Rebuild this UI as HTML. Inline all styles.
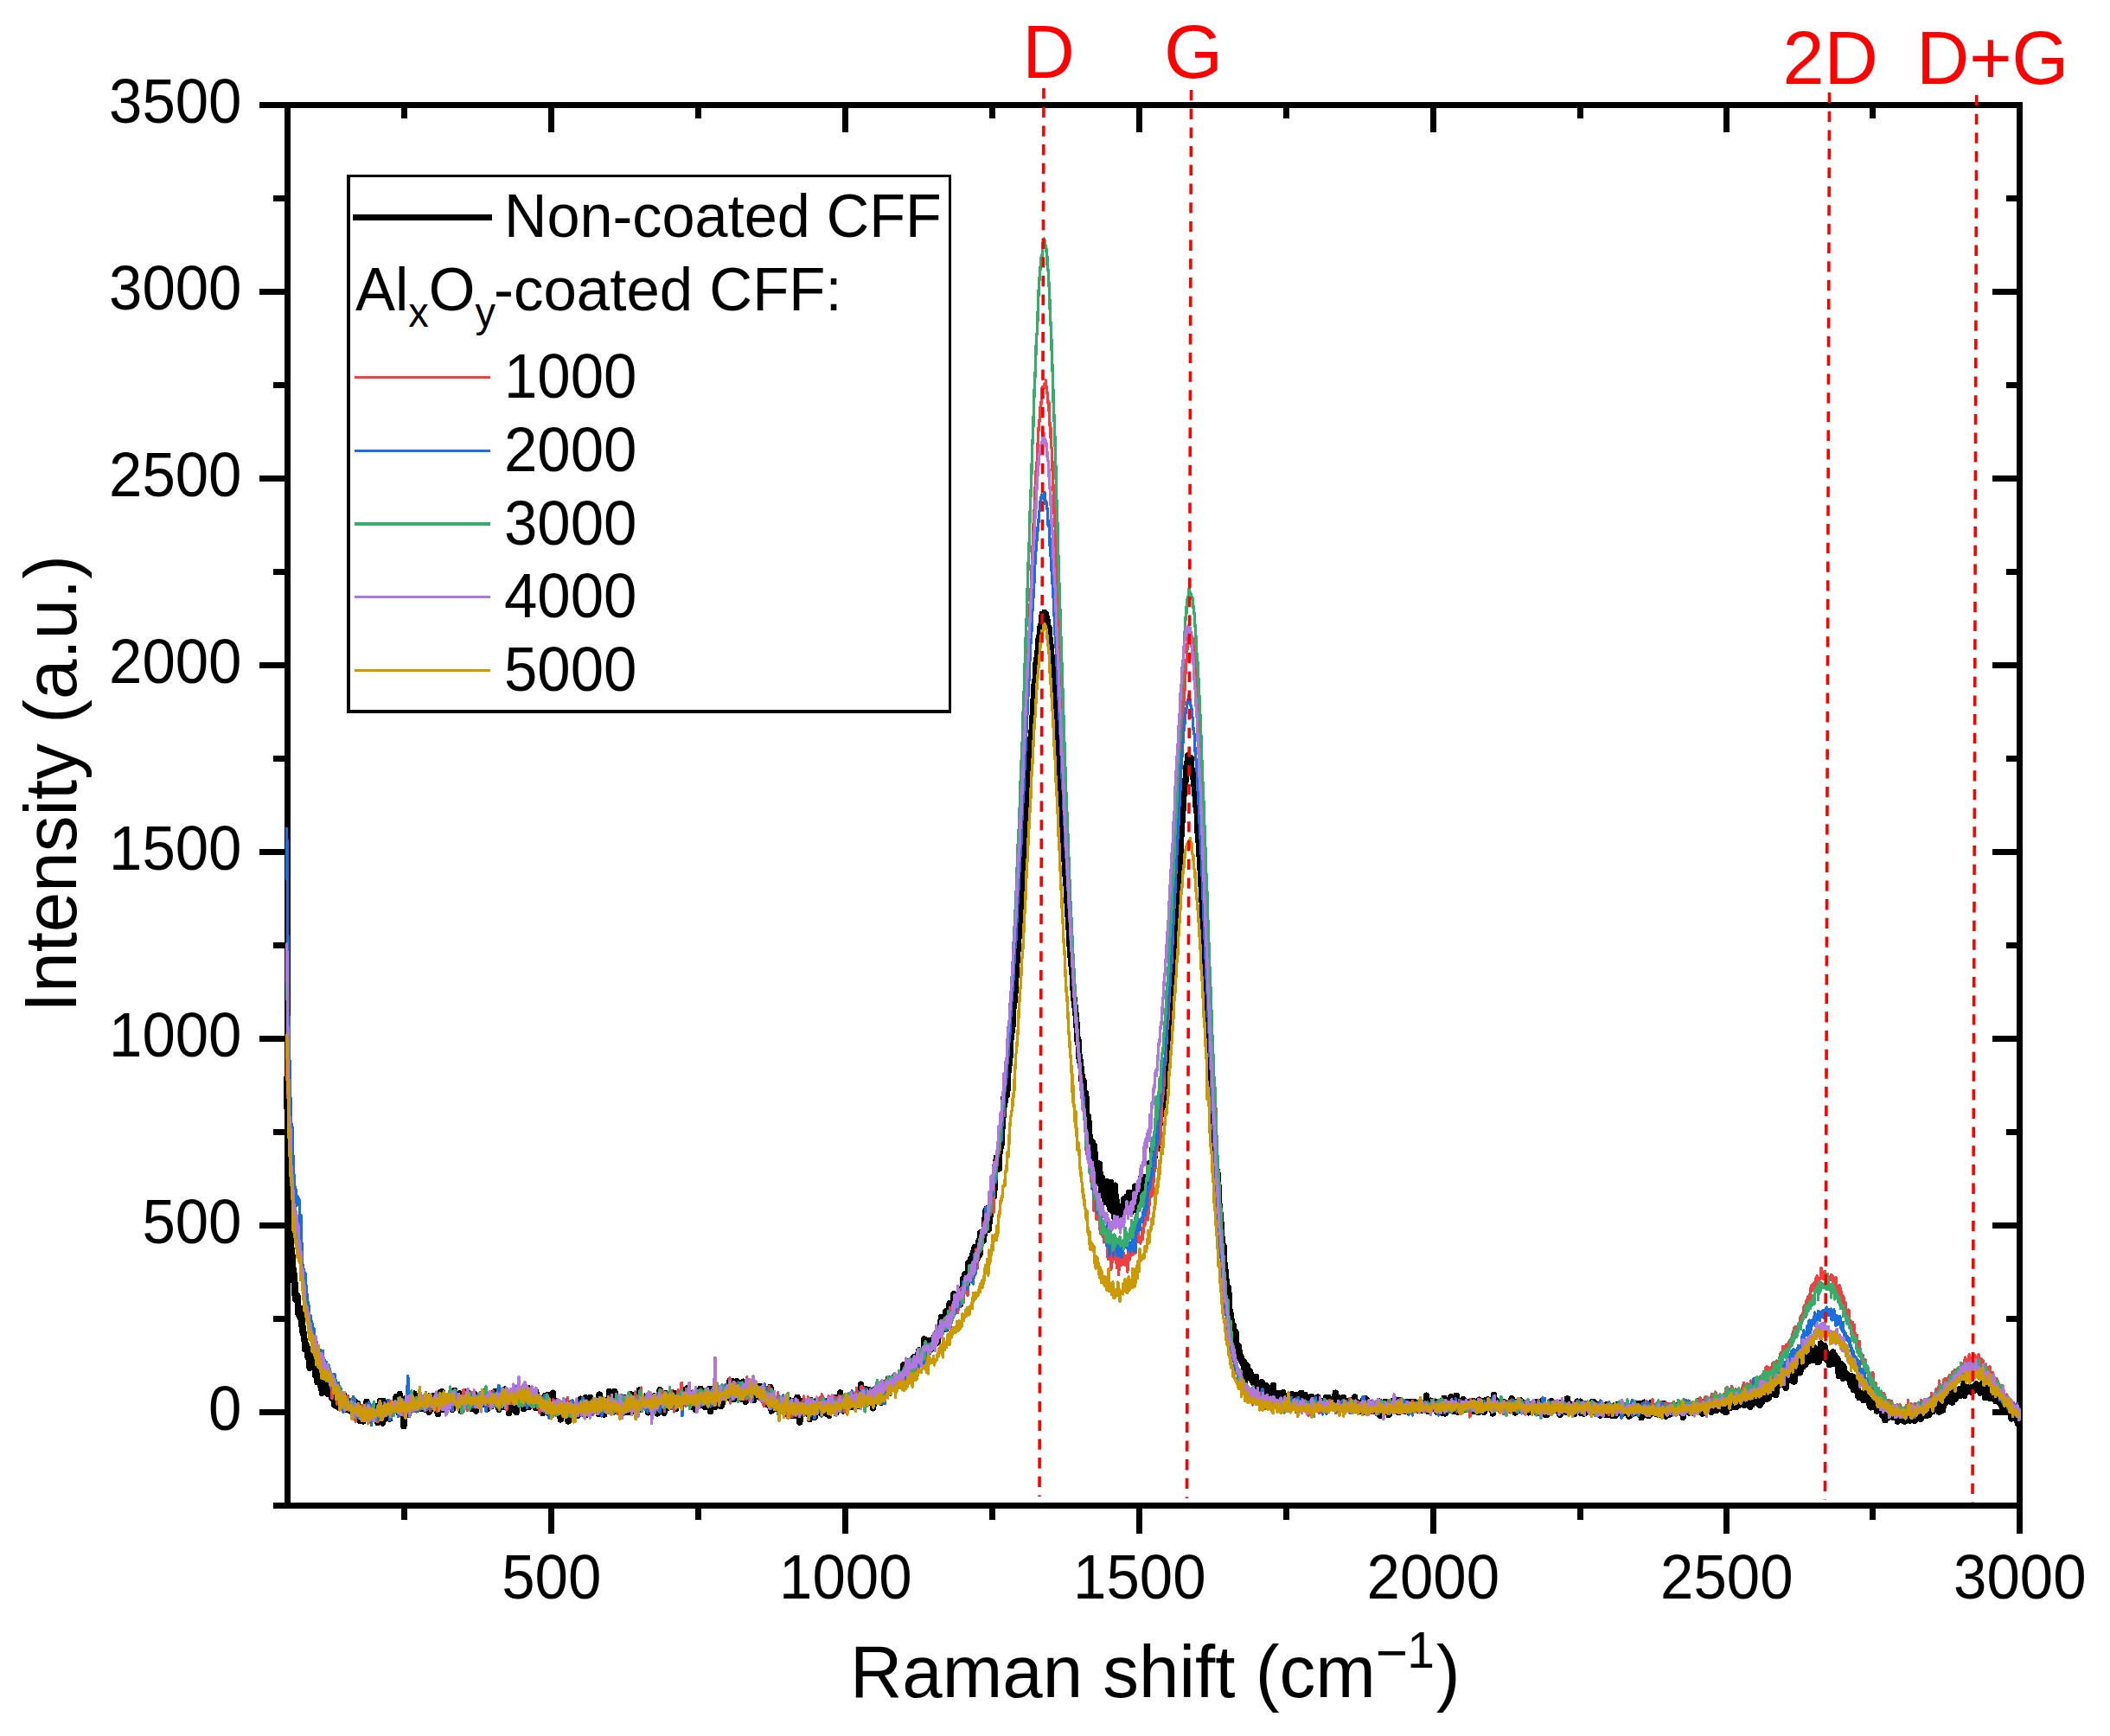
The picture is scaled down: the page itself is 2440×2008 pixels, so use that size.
<!DOCTYPE html>
<html lang="en"><head><meta charset="utf-8"><title>Raman spectra</title>
<style>html,body{margin:0;padding:0;background:#fff}svg{display:block}</style></head>
<body>
<svg width="2440" height="2008" viewBox="0 0 2440 2008" style="display:block">
<rect width="2440" height="2008" fill="#fff"/>
<g fill="#000" shape-rendering="crispEdges">
<rect x="300" y="118" width="2039" height="7"/>
<rect x="316" y="1738" width="2023" height="7"/>
<rect x="329" y="118" width="7" height="1627"/>
<rect x="2332" y="118" width="7" height="1656"/>
<rect x="300" y="1630" width="29" height="7"/>
<rect x="2304" y="1630" width="28" height="7"/>
<rect x="316" y="1522" width="13" height="7"/>
<rect x="2320" y="1522" width="12" height="7"/>
<rect x="300" y="1414" width="29" height="7"/>
<rect x="2304" y="1414" width="28" height="7"/>
<rect x="316" y="1306" width="13" height="7"/>
<rect x="2320" y="1306" width="12" height="7"/>
<rect x="300" y="1198" width="29" height="7"/>
<rect x="2304" y="1198" width="28" height="7"/>
<rect x="316" y="1090" width="13" height="7"/>
<rect x="2320" y="1090" width="12" height="7"/>
<rect x="300" y="982" width="29" height="7"/>
<rect x="2304" y="982" width="28" height="7"/>
<rect x="316" y="874" width="13" height="7"/>
<rect x="2320" y="874" width="12" height="7"/>
<rect x="300" y="766" width="29" height="7"/>
<rect x="2304" y="766" width="28" height="7"/>
<rect x="316" y="658" width="13" height="7"/>
<rect x="2320" y="658" width="12" height="7"/>
<rect x="300" y="550" width="29" height="7"/>
<rect x="2304" y="550" width="28" height="7"/>
<rect x="316" y="442" width="13" height="7"/>
<rect x="2320" y="442" width="12" height="7"/>
<rect x="300" y="334" width="29" height="7"/>
<rect x="2304" y="334" width="28" height="7"/>
<rect x="316" y="226" width="13" height="7"/>
<rect x="2320" y="226" width="12" height="7"/>
<rect x="464" y="1745" width="7" height="13"/>
<rect x="464" y="125" width="7" height="12"/>
<rect x="634" y="1745" width="7" height="29"/>
<rect x="634" y="125" width="7" height="28"/>
<rect x="804" y="1745" width="7" height="13"/>
<rect x="804" y="125" width="7" height="12"/>
<rect x="974" y="1745" width="7" height="29"/>
<rect x="974" y="125" width="7" height="28"/>
<rect x="1144" y="1745" width="7" height="13"/>
<rect x="1144" y="125" width="7" height="12"/>
<rect x="1314" y="1745" width="7" height="29"/>
<rect x="1314" y="125" width="7" height="28"/>
<rect x="1484" y="1745" width="7" height="13"/>
<rect x="1484" y="125" width="7" height="12"/>
<rect x="1654" y="1745" width="7" height="29"/>
<rect x="1654" y="125" width="7" height="28"/>
<rect x="1824" y="1745" width="7" height="13"/>
<rect x="1824" y="125" width="7" height="12"/>
<rect x="1993" y="1745" width="7" height="29"/>
<rect x="1993" y="125" width="7" height="28"/>
<rect x="2162" y="1745" width="7" height="13"/>
<rect x="2162" y="125" width="7" height="12"/>
</g>
<g font-family="'Liberation Sans', sans-serif" font-size="69" fill="#000">
<text transform="translate(279.5,1654.3) scale(1,1.045)" text-anchor="end">0</text>
<text transform="translate(279.5,1438.3) scale(1,1.045)" text-anchor="end">500</text>
<text transform="translate(279.5,1222.3) scale(1,1.045)" text-anchor="end">1000</text>
<text transform="translate(279.5,1006.3) scale(1,1.045)" text-anchor="end">1500</text>
<text transform="translate(279.5,790.3) scale(1,1.045)" text-anchor="end">2000</text>
<text transform="translate(279.5,574.3) scale(1,1.045)" text-anchor="end">2500</text>
<text transform="translate(279.5,358.3) scale(1,1.045)" text-anchor="end">3000</text>
<text transform="translate(279.5,142.3) scale(1,1.045)" text-anchor="end">3500</text>
<text transform="translate(637.8,1848.6) scale(1,1.045)" text-anchor="middle">500</text>
<text transform="translate(977.8,1848.6) scale(1,1.045)" text-anchor="middle">1000</text>
<text transform="translate(1317.8,1848.6) scale(1,1.045)" text-anchor="middle">1500</text>
<text transform="translate(1657.3,1848.6) scale(1,1.045)" text-anchor="middle">2000</text>
<text transform="translate(1996.8,1848.6) scale(1,1.045)" text-anchor="middle">2500</text>
<text transform="translate(2335.8,1848.6) scale(1,1.045)" text-anchor="middle">3000</text>
</g>
<g font-family="'Liberation Sans', sans-serif" font-size="83.5" fill="#000">
<text transform="translate(983,1962.6) scale(1,1.025)">Raman shift (cm<tspan font-size="64" dy="-27.5">−</tspan><tspan font-size="57" dy="-5" dx="-1">1</tspan><tspan dy="32.5" dx="2">)</tspan></text>
<text transform="translate(87.5,1171) rotate(-90) scale(1,1.025)">Intensity (a.u.)</text>
</g>
<g fill="none" stroke-linejoin="round" stroke-linecap="butt" shape-rendering="crispEdges">
<path stroke="#000000" stroke-width="7.4" d="M331.7 1244.7l.7 52 .7 37.6 .7 34.2 .7 37.8 .6 2 .7 18.5 .7 12.4 .7 9.9 .7 5.7 .6-1.4 .7 28.3 .7 .7 .7-7.7 .7 27.7 .6-6.3 .7 7.9 .7-3.7 .7-1.6 .6 20.1 .7-3.7 .7 6.6 .7-4.4 .7 7.5 .6-11 .7 19.3 .7-11.4 .7 19.1 .7-.3 .6 5.6 .7 3.9 .7 10.8 .7-7 .7 2.1 .6 3.3 .7-.2 .7 11.6 .7-1.2 .7 4.4 .6 8.7 .7-11.2 .7 8.2 .7-1.6 .6-12.9 .7 14.4 .7 2.4 .7-4.5 .7 .5 .6-2.1 .7 15.7 .7-13 .7 13 .7 7.4 .6-.3 .7-11.4 .7 3.1 .7-2.2 .7 14.3 .6-2.6 .7 6 .7 5.6 .7-11 .7-13 .6 7.9 .7 12.1 .7-10.8 .7 11.1 .7-4.5 .6-2.3 .7 8 .7 3.6 .7-8.4 .6 5.5 .7 2.9 .7-6.3 .7 5.6 .7-3.9 .6 9.5 .7-9.2 .7 10.3 .7-1.6 .7 8.2 .6-16.9 .7 6.8 .7-1.5 .7 13.2 .7-10.1 .6 3.8 .7-8.5 .7 16.6 .7-10.4 .7-3.4 .6 13.5 .7-7.1 .7 7.7 .7-5.8 .7-1.1 .6-8.4 .7 10.5 .7 5.4 .7-8.2 .6 5.2 .7-5.7 .7 10 .7-10.5 .7 6.6 .6 .4 .7-3.9 .7 9.1 .7 .2 .7-5.3 .6 3.7 .7-.4 .7 2.8 .7-.2 .7-6.2 .6-5.9 .7 18.9 .7-15.9 .7 4.6 .7-5.4 .6 9.1 .7 5.3 .7-2.7 .7 4.3 .7 4.4 .6-8.7 .7-1.6 .7 3.2 .7-2.5 .6 9.9 .7-14.4 .7 6.9 .7-1 .7-5.6 .6 9 .7-17.6 .7 7.5 .7 .1 .7 6 .6 4.7 .7-8 .7 8.1 .7-5.4 .7-.1 .6-5.6 .7 4.4 .7 1.6 .7-6.9 .7 8.3 .6 2.2 .7-.1 .7-11.1 .7 7.9 .7 3.2 .6 7.6 .7-2.6 .7-10.3 .7-1.7 .6-10.4 .7 17.2 .7-6.8 .7-4.7 .7 19.8 .6-25.8 .7 19 .7 2.7 .7-14.6 .7 2.6 .6-4.7 .7 2.9 .7 .8 .7 2.9 .7 3.3 .6-7.9 .7 13.8 .7-10.1 .7-7.7 .7 12.6 .6-11.5 .7-1.1 .7 4.8 .7 1.5 .7-4.6 .6-2.3 .7 6.5 .7-13.2 .7 2.9 .6 2.7 .7-2.3 .7 .4 .7 15 .7-22.3 .6 22.5 .7-9.5 .7 7.4 .7-10 .7 1 .6 1 .7 24.9 .7-28.3 .7 3.1 .7 13 .6-20.3 .7 9.3 .7 3.4 .7-6.9 .7 5.4 .6-5.3 .7 4.1 .7 3 .7 1.3 .7-11.2 .6 3.9 .7 4.8 .7-1.1 .7 1.6 .6-17.4 .7 10 .7 1 .7-7.7 .7 12.2 .6 2.5 .7-3.5 .7-3.9 .7 2 .7 .7 .6-2.9 .7 3.3 .7 3.6 .7-10.6 .7 5.7 .6 .1 .7-4.7 .7 .5 .7 8.7 .7-2.3 .6 3.7 .7-1.1 .7-9.5 .7 5.2 .7 2.5 .6 5.8 .7-18.5 .7 9.6 .7-3.8 .6 1.7 .7 7.5 .7-10.5 .7 1.7 .7-6.8 .6 4 .7 10.6 .7-6.5 .7-.1 .7-.2 .6 6.6 .7 7 .7-13.4 .7-2.8 .7 8.8 .6-17.5 .7 6.8 .7 6.6 .7-14.6 .7 20.5 .6-3 .7 3.3 .7-15.9 .7 11 .7-8.6 .6 2.8 .7 4.8 .7-4.2 .7 7.5 .6-11.6 .7 10.5 .7-.7 .7-9 .7 6.7 .6-13.6 .7 2.8 .7 17.4 .7-10.4 .7 1.7 .6-13.2 .7 15.5 .7 .4 .7-2.5 .7 .1 .6 3.9 .7-6.7 .7 4.6 .7 1.8 .7-13.7 .6 7.9 .7 6.9 .7 5.6 .7-9.8 .7 5.2 .6 .3 .7-13.8 .7 7.2 .7 2.3 .6-4.3 .7 5.9 .7-5.3 .7-10 .7 10.6 .6 3.3 .7 3 .7-10.2 .7 4.6 .7-3.3 .6 11.6 .7-7.1 .7-2.8 .7-3.8 .7 2.9 .6 3 .7-8.9 .7 7.5 .7 11.8 .7-4.7 .6-7 .7-1.6 .7 8.9 .7-.7 .7-9.1 .6 .6 .7-.6 .7-2 .7 3.7 .6 4.9 .7-11.9 .7-1.4 .7-1.3 .7 7.2 .6 1.7 .7-.6 .7-.6 .7 12.3 .7-9.7 .6 1.1 .7-4.2 .7 .3 .7 3.6 .7 .7 .6 5.1 .7-9.3 .7 5.3 .7-1 .7-9 .6-2.8 .7 10.8 .7-11.6 .7 5.5 .7 3.9 .6 5.4 .7 2.2 .7-12.8 .7 16.7 .6-21.2 .7 5.9 .7 5.9 .7-11.4 .7 8 .6 8.5 .7-3.4 .7 5.3 .7-2.2 .7-18.4 .6 10.7 .7 1.6 .7-5.8 .7 1.3 .7 7.2 .6 1.8 .7 10.9 .7-22.2 .7 6.8 .7-6.7 .6 5 .7 8 .7-4.4 .7-12.3 .6 12.1 .7-6.5 .7 16.6 .7-9.2 .7-10.3 .6 21.8 .7-22.5 .7 10.4 .7-.8 .7-12 .6 11.3 .7-9.5 .7 8.6 .7-4.6 .7-3.9 .6-3.2 .7 10.6 .7 11.9 .7-23.4 .7 13.4 .6-10.6 .7 12.2 .7-2.1 .7-2.9 .7 .9 .6-11.4 .7 21.6 .7-6.7 .7-4.5 .6-.8 .7 2.6 .7-.7 .7-7.4 .7 12.2 .6 .3 .7-2.3 .7-4.4 .7 12.7 .7-19 .6 13.3 .7 1.8 .7-.5 .7 3.8 .7-.7 .6-3.2 .7-4.3 .7-1.2 .7 7.7 .7-1.3 .6-4 .7 13.6 .7-9.6 .7-6.8 .7-3.2 .6 10.8 .7 6.9 .7-4.2 .7-10.3 .6-4.3 .7 13.1 .7 7.5 .7-9.2 .7-3.4 .6-.4 .7 3.2 .7-11.6 .7 14.2 .7-16 .6 22.5 .7-14.2 .7 2.2 .7 1.9 .7 9.2 .6-3.4 .7 6.2 .7-6.8 .7-1.2 .7-3 .6 11.7 .7-2.6 .7 8.2 .7-12.4 .7 6.3 .6-11.7 .7 10.4 .7-7.3 .7 5.1 .6-2 .7 1 .7 5.5 .7-11.5 .7 9.7 .6-12.1 .7 21.1 .7-11.1 .7-7.5 .7-.2 .6 15.8 .7-12.1 .7 .1 .7-.6 .7 3.7 .6 2.2 .7-5.5 .7-2.2 .7-2.4 .7 6 .6 4.2 .7-8.8 .7 11.8 .7-3.8 .7-.4 .6-3.7 .7-1.1 .7-10.2 .7 5.9 .6-.3 .7 8.7 .7 2.6 .7-4 .7 .7 .6-14.7 .7-.4 .7 7.1 .7 5.3 .7 6.8 .6-4.8 .7 .9 .7 .7 .7-6.8 .7-7.6 .6-1.8 .7 12.7 .7-1.8 .7-1.3 .7 5.5 .6-11.3 .7 4.4 .7 2.4 .7-2.7 .7 5.7 .6-1.4 .7-8.5 .7 1.5 .7 4.6 .6 9 .7-22.3 .7 11.4 .7-2.9 .7 13.1 .6-11.2 .7-.2 .7 1.5 .7-5 .7 16.5 .6-16.8 .7 9 .7 .6 .7-2.8 .7-2.6 .6 1.2 .7 3.2 .7-5.6 .7-12.9 .7 12.3 .6 5.9 .7-9.1 .7 1.8 .7 9.5 .7-11.7 .6 14.9 .7-10.6 .7-13.1 .7 22.6 .6-4.3 .7 2 .7-12.3 .7 11.6 .7-3.5 .6-2.9 .7-3.3 .7 1.6 .7 9.4 .7 6 .6-16.9 .7 5 .7-3.1 .7 7 .7-3.4 .6-8 .7 16.2 .7-7.3 .7 7.7 .7-16.5 .6 6.5 .7 6.4 .7 3.8 .7-9.9 .7-.4 .6 1.7 .7-12.1 .7 16.7 .7-10.1 .6-4.3 .7 11.9 .7-8.4 .7-3.8 .7 16.4 .6-4.2 .7 6.8 .7-13.5 .7-7.8 .7 18.7 .6-8.2 .7-15.3 .7 18.8 .7-7.3 .7 .2 .6 7.5 .7-11.8 .7 5.4 .7 2.6 .7 .9 .6-9 .7 6.5 .7 5.1 .7-1.5 .7-4.7 .6-2 .7 15.3 .7-16.9 .7 12 .6 3.4 .7-8.5 .7-3.9 .7-3.7 .7 15.1 .6-7.6 .7-8.1 .7 6.2 .7-6.9 .7 2.7 .6 12.3 .7-4 .7-9.8 .7 18.9 .7-18.8 .6 5.7 .7 4.1 .7-18.2 .7 18.1 .7 .2 .6-3.7 .7 0 .7-5 .7 .7 .7 16.1 .6-20.6 .7-2.4 .7 3.7 .7 2.4 .6 11.6 .7-13.2 .7 6.9 .7 3.5 .7-6.5 .6-3.6 .7 9.6 .7 .3 .7-9.7 .7-5.3 .6 11.8 .7-4.4 .7 1.1 .7-7.7 .7 6 .6 12 .7-5.6 .7-12 .7-.8 .7 .2 .6 8.8 .7 3.8 .7-9.3 .7 4.9 .7 .6 .6 2.5 .7-6 .7 7.1 .7-2.8 .6-13.8 .7 11.8 .7-7.7 .7 5.9 .7-1.2 .6 1.3 .7-11.9 .7 10.7 .7 .5 .7 .6 .6 3.8 .7-9.8 .7 11.6 .7 4.1 .7-10.4 .6-1.2 .7 9.5 .7-8.5 .7 1.6 .7 9.2 .6 3 .7-14.4 .7 1.9 .7-4.8 .6 12.5 .7-14.6 .7 6.1 .7-2 .7-8.7 .6 11.3 .7 .8 .7 1.5 .7 5.8 .7-7.7 .6 7.7 .7-2.3 .7 4.2 .7-15.1 .7 5.1 .6-7.8 .7 10.3 .7-1.1 .7 1.8 .7 1.3 .6-15.7 .7 26.4 .7-23.8 .7 .4 .7 9.4 .6-3.6 .7-8.4 .7 8.9 .7 11.9 .6-8.1 .7-15.1 .7 16.4 .7-13 .7 9.5 .6-7 .7 7.1 .7 .8 .7-2.3 .7 10.4 .6-16.1 .7 15.9 .7-12.5 .7 8.9 .7-11.8 .6-5.6 .7 7.1 .7 1.8 .7-3.7 .7-1.3 .6-2.7 .7 7.8 .7-9.9 .7 12.7 .7-5.3 .6-14.3 .7 11.8 .7-3.4 .7 1.8 .6-.4 .7-9.1 .7 11.1 .7 9.3 .7-8.1 .6-2.5 .7 4.4 .7 0 .7-14.4 .7 7.4 .6-6.2 .7 7.7 .7 8 .7-5.3 .7 .3 .6 .1 .7-6.6 .7 14.9 .7-9.7 .7-10.3 .6 15.9 .7-11.2 .7 4.2 .7 14.2 .7-8.8 .6-13.5 .7 11.9 .7-4.5 .7 .8 .6 6.2 .7-13.6 .7 1.3 .7 3 .7 3.4 .6 4.1 .7 .8 .7-10.9 .7 18 .7-17.7 .6 3.1 .7 .6 .7 3.2 .7 6.2 .7-.4 .6-3.6 .7-3 .7-4.1 .7 6.1 .7-1 .6 8.1 .7-9.1 .7 2.6 .7-7 .7 5.2 .6 5.9 .7 7.2 .7-14.8 .7 14.8 .6-7.2 .7-2.4 .7 1.9 .7 11.3 .7 .2 .6-11.4 .7 3.2 .7-12.8 .7 22.3 .7 5.3 .6-2.1 .7-1.4 .7-1.3 .7-4.7 .7 .3 .6 3.5 .7 2.9 .7-5.7 .7 6 .7-11.5 .6 9.7 .7 1.7 .7-9.8 .7 .2 .7-2.1 .6 14.2 .7-13 .7 .5 .7 6.5 .6 6.5 .7-4.2 .7-4 .7 2.9 .7 .1 .6-4.6 .7-5.2 .7 2.3 .7 13.4 .7 4.1 .6-18 .7 1.5 .7 8.2 .7 8.5 .7-17 .6 10.8 .7 1.7 .7-3.2 .7-1.7 .7 9.2 .6-1.7 .7-6.7 .7-.4 .7 8.5 .7-20.8 .6 6.2 .7 3.4 .7-.6 .7 19.9 .6-16.9 .7-2.4 .7 2.2 .7-1.2 .7-1.4 .6-5.2 .7 2.4 .7 8.8 .7-8.8 .7 8.3 .6-3.6 .7-.7 .7 1.8 .7 1 .7-2.6 .6-.3 .7 15 .7-12.7 .7 3.7 .7-12.6 .6 7.3 .7 4.9 .7-6.6 .7 1.4 .7-1.9 .6 14.2 .7-9.3 .7 3.3 .7-13.2 .6 3.7 .7 5.4 .7-.8 .7-.1 .7 2.2 .6 2.4 .7 1.8 .7-13.2 .7 11.6 .7-7.9 .6-2.3 .7 1.5 .7 3.3 .7-4.9 .7 7.7 .6 4.6 .7-12.8 .7 1.4 .7-2.8 .7 6 .6 10.5 .7-8 .7 1.1 .7-9.3 .7 10 .6-9.7 .7 3.6 .7-.3 .7 0 .6-2 .7 9.1 .7-15.4 .7 18.2 .7-5 .6 0 .7-8.1 .7 8.4 .7-14 .7 14.6 .6-19.6 .7 10.6 .7-1.4 .7 1.7 .7-2 .6 8.6 .7 3.5 .7-12.4 .7 1 .7 4.4 .6 .4 .7-.7 .7-1.9 .7-6.4 .7 8.8 .6-3.7 .7-4.9 .7 7.4 .7-4.5 .6 7.8 .7-5.1 .7 1.5 .7-7.9 .7 8.1 .6 4.1 .7-7.7 .7 4 .7-10.3 .7 4.9 .6 4.3 .7 3.5 .7-6.3 .7 1.1 .7-.6 .6-1.5 .7-18.1 .7 22.4 .7-5.6 .7-3.7 .6-5.3 .7 10.1 .7-2.6 .7 2.7 .7-12.7 .6 14.2 .7-5.2 .7 5.4 .7-8.3 .6 7.5 .7-12.6 .7 11.3 .7-2.7 .7-.5 .6-2.4 .7 4.9 .7 6 .7 4.8 .7-13.8 .6-7.6 .7-.4 .7 3.1 .7-3.2 .7 5.1 .6 .4 .7-4 .7-5.1 .7-.6 .7 5 .6 9.4 .7-4.5 .7 9.5 .7-19.3 .7 5.7 .6-8.1 .7-.4 .7 7.9 .7-6.8 .6 5.3 .7 7.4 .7-11 .7 .9 .7-.5 .6-8.4 .7 13.8 .7 2.9 .7-14.2 .7-2 .6 2.7 .7 2.4 .7-1.5 .7-.3 .7 .1 .6 1.9 .7-9 .7 9.4 .7 3.7 .7-8 .6 3.6 .7 .6 .7-8.9 .7 9.2 .6-1.6 .7-2.6 .7 1 .7-3.2 .7-1 .6 4.6 .7-.1 .7-19.9 .7 9.9 .7 2.8 .6-5.9 .7 .5 .7 .3 .7 2.3 .7-1.3 .6 .3 .7-12.8 .7 10.6 .7-5 .7-1.1 .6 12.9 .7-17.8 .7 4.3 .7 10.9 .7-19.5 .6 2.1 .7 3.2 .7 4.6 .7 .7 .6-5.1 .7 1 .7-9.3 .7 1.3 .7-6.4 .6 7.2 .7 1.2 .7-.3 .7-.6 .7-1.2 .6-4.2 .7-.1 .7 .4 .7-15.4 .7 12.8 .6-2.2 .7 2.3 .7-8.2 .7-.1 .7 3.6 .6-6.6 .7 1.4 .7 10.7 .7-1.2 .7-2.7 .6-7.6 .7 4.4 .7 4.1 .7-6.9 .6-4.6 .7-.7 .7-2.4 .7 .8 .7-3.2 .6 1.3 .7 2.7 .7 6.2 .7-12.9 .7-4.8 .6 6.1 .7-1.5 .7-9.7 .7-6.8 .7 .5 .6 11.4 .7 0 .7-4 .7-4 .7-2.1 .6 12.6 .7-21 .7 1.3 .7 8.7 .7-8.9 .6 6.3 .7-5 .7-11.1 .7 16.7 .6-6.2 .7-1.6 .7-2.3 .7-5.3 .7 1.8 .6-14.4 .7 16.6 .7-12.3 .7 6.2 .7-6.4 .6 2.2 .7-.2 .7 2.5 .7-5.4 .7 3.8 .6-4.2 .7 9.8 .7-14.7 .7 2.6 .7-5.4 .6 2.4 .7-14.5 .7 7 .7-1.2 .7-11.6 .6 14.1 .7-9.6 .7 8.8 .7-2.2 .6-2.3 .7-22 .7 15.9 .7-11.9 .7-.3 .6-8 .7 10.1 .7 6 .7-2.7 .7-20.7 .6 4.1 .7-8 .7-2.5 .7 7.1 .7 .8 .6-8.5 .7 14 .7-9.1 .7-4.2 .7-7.9 .6 16.5 .7-1.3 .7-24.6 .7 2.3 .7 5.4 .6-1.5 .7-6.2 .7 9.8 .7-8.4 .6-16.5 .7-2.7 .7-7.6 .7 6.3 .7-8.5 .6 18.1 .7-3.1 .7 9.3 .7-14.8 .7 .4 .6-23.5 .7-4 .7 14.1 .7-1.4 .7-25.2 .6-6.5 .7 22 .7-20.9 .7-13.9 .7 4.3 .6-13.7 .7 8 .7-6.5 .7 1.3 .7 10.1 .6-18.2 .7-1 .7-22.3 .7 15.4 .6-16 .7-7 .7-10.2 .7-1.5 .7-22.7 .6 6.9 .7-3.9 .7-6.2 .7-13 .7 14.3 .6-13.5 .7-13.5 .7-3.2 .7-11.9 .7-1.5 .6-18.6 .7-4 .7-7.1 .7-2.7 .7-17.5 .6-9.3 .7-1.6 .7-11.1 .7-4 .7-15.9 .6-8.7 .7-14.5 .7-7 .7-12.8 .6-4 .7-12 .7-8.5 .7-11.4 .7-7.3 .6-13.4 .7-8.5 .7-19.2 .7-7.7 .7-10 .6-8.3 .7-18.4 .7-6.7 .7-13.4 .7-6.3 .6-15.1 .7-6.4 .7-11.4 .7-11.5 .7-19.2 .6-6.2 .7-15.5 .7-.7 .7-16.6 .7-5.8 .6-14.2 .7-13.4 .7-9.4 .7 .5 .6-16.3 .7-8.7 .7-2.9 .7-6.1 .7-4.4 .6-11.4 .7 .4 .7-9.3 .7-6.2 .7 .1 .6-1.6 .7-11.6 .7 2.6 .7 3 .7-4.7 .6-2.7 .7 5.3 .7-3.5 .7 3.3 .7 2.1 .6 7 .7 5 .7-2.5 .7 9.2 .7 5.3 .6 5.8 .7 8.4 .7 6.9 .7 9.3 .6 9.9 .7 12.2 .7 2.9 .7 12.2 .7 12.9 .6 4.8 .7 9.3 .7 20.6 .7 5.5 .7 6.9 .6 21.9 .7 5.8 .7 11.8 .7 13.9 .7 3.3 .6 12.7 .7 15.7 .7 16.5 .7 5.1 .7 16 .6 4.5 .7 14.9 .7 7.9 .7 6.9 .7 12.1 .6 15.3 .7 9.6 .7 13.6 .7 2.2 .6 17.6 .7 8 .7 12.2 .7 3.3 .7 4.3 .6 16 .7 8.6 .7 8.8 .7 4.9 .7 7.1 .6 4.6 .7 7.6 .7 11.5 .7 13.2 .7-2.8 .6 9.6 .7 12.5 .7 1.6 .7 7.5 .7 1.5 .6 7.2 .7 15.4 .7-3.1 .7-4.4 .7 13.1 .6 13.1 .7 6.4 .7-18.2 .7 13.5 .6 21.7 .7-7.2 .7-1.4 .7 7.7 .7 14.5 .6 1.1 .7 18.4 .7-9.9 .7 3 .7-4.5 .6 12 .7 5.5 .7-13.9 .7 7.8 .7 15.4 .6 15.1 .7 6.1 .7-16.6 .7 1.4 .7 3.2 .6-5.6 .7-5.3 .7 10.2 .7 6 .6 2.1 .7 15.4 .7-17.5 .7 11.1 .7-7.8 .6 18.6 .7-5.6 .7 12.3 .7-9.2 .7-15 .6 20.9 .7-1.1 .7 1.4 .7-5.3 .7 11.6 .6-3 .7 7.6 .7-31.3 .7 27.2 .7-2.5 .6 8.7 .7-9.3 .7 3.4 .7 13.5 .7-37.3 .6 26.4 .7 .3 .7-8.7 .7 22.5 .6-14.3 .7 8.8 .7-1.4 .7-4.3 .7 15.5 .6-14.6 .7-6 .7 9.7 .7-8.9 .7 3.4 .6-12.6 .7 12.3 .7-4.4 .7 1.6 .7 2.6 .6-15 .7 9.1 .7 .4 .7-3.4 .7-10.9 .6 22.5 .7-17.7 .7 18.2 .7-7.5 .7-7 .6-4.4 .7 15.3 .7-16.3 .7 3.5 .6-13.7 .7 27.4 .7-14.9 .7 6.9 .7-1.6 .6-3.7 .7 3.1 .7-8.8 .7 1.9 .7 7.7 .6-27.3 .7 16.6 .7 13.4 .7-13.5 .7-3.8 .6 1.3 .7-1.6 .7-13.9 .7 13 .7-2.6 .6-1.2 .7-3 .7 .3 .7-8.4 .7-13.9 .6 9.4 .7-2.4 .7 2.6 .7-2.3 .6 4.9 .7-29.1 .7 13.9 .7 6 .7-14.5 .6-1.2 .7-14.3 .7 2.5 .7 8.1 .7-8.4 .6-1.1 .7-9.8 .7 6.5 .7-30.3 .7 5.6 .6-3.4 .7-5.9 .7-8.1 .7 5.8 .7-13.4 .6-18 .7-4.9 .7 13.5 .7-13.3 .7-7.9 .6-3.6 .7-10 .7-10.7 .7-10.8 .6-5.4 .7-4.5 .7-13.2 .7-6.9 .7-17.9 .6-9.7 .7-3.9 .7-18.1 .7-4.3 .7-14.1 .6-15 .7-9.9 .7-7.5 .7-13.8 .7-16.2 .6-6.2 .7-15.1 .7-5.4 .7-19.6 .7-7.2 .6-17.9 .7-3.3 .7-18.2 .7-7.7 .7-11.4 .6-10.3 .7-10 .7-.1 .7-5.7 .6-11 .7-9 .7 4.6 .7-13 .7 7.3 .6-5.4 .7 1.3 .7 1.3 .7-2.2 .7 13.3 .6 2.8 .7 2.2 .7 1.8 .7 11.1 .7-2.5 .6 11.7 .7 8.3 .7 10.2 .7 2.4 .7 8.8 .6 20.1 .7 2.5 .7 18.2 .7 4.1 .7 12.5 .6 11.2 .7 13.9 .7 13.9 .7 6.6 .6 20.8 .7 3.4 .7 14.5 .7 21.7 .7 13.1 .6 2.8 .7 18.9 .7 17.3 .7 3.8 .7 16.9 .6 11.2 .7 15 .7 12 .7 10.5 .7 8.7 .6 33.7 .7-2.1 .7 5.7 .7 9.1 .7 22.2 .6 9.2 .7 16.5 .7 18 .7 1.5 .7 1.8 .6 14.7 .7 .4 .7 22.5 .7 1.4 .6 13.6 .7 4.3 .7 16.5 .7 3.8 .7 7.2 .6 5.5 .7-4.1 .7 28 .7-7.1 .7 16.4 .6 1.1 .7 8.3 .7 4.1 .7-3.9 .7 17.1 .6-8 .7 21.6 .7-2.2 .7 7 .7 8.5 .6-4.6 .7 11.1 .7-6.1 .7 12.2 .7-2.3 .6 3 .7-5.3 .7 10.2 .7 9.7 .6 6.5 .7-5.2 .7-4.9 .7 5.6 .7 9 .6-3 .7 .1 .7 5.9 .7 .2 .7 2.4 .6 .6 .7-3 .7 18.6 .7 8.5 .7-23.2 .6 9.5 .7-7.4 .7-.6 .7 10.5 .7-.2 .6-5.1 .7 .8 .7 4.5 .7-1.3 .7 6.3 .6-2.8 .7 4.8 .7-4.8 .7 7.7 .6-2.6 .7-.5 .7 12.5 .7-17.3 .7 15.4 .6-5.5 .7 1 .7-.6 .7 9.4 .7-12 .6 1.8 .7 1.1 .7-.5 .7-3.5 .7 7.8 .6 3.4 .7-8 .7 9.8 .7-3 .7 2.9 .6-9 .7 5.9 .7-4.5 .7 2.3 .7 7.7 .6-4 .7 4.6 .7 4 .7-7.9 .6 5.1 .7-3.8 .7 1.2 .7-11 .7 11.9 .6 1.2 .7-1.7 .7 4.6 .7-5.2 .7-1.4 .6 6.1 .7 2.2 .7-1.7 .7-6.8 .7 7.1 .6-2.8 .7 3.5 .7 .4 .7-6.5 .7 11.2 .6-13.7 .7 5.2 .7-2.1 .7 6.2 .7 2.7 .6 6 .7-7.9 .7-5.4 .7 2 .6-.3 .7 5.9 .7-1.3 .7-7.2 .7 10.6 .6-.5 .7-12.1 .7 4.3 .7-1.1 .7 5.6 .6 3.2 .7-3.6 .7-2 .7-4 .7-1.7 .6 9 .7-4.2 .7 5.6 .7-.7 .7 .3 .6 5.5 .7-2.9 .7-14.7 .7 16.3 .6-13.2 .7 9.8 .7-4.3 .7 8.3 .7-14.9 .6 6.3 .7 8.4 .7-5.9 .7-3.1 .7 9.1 .6-11.7 .7 7.2 .7-.9 .7 6.3 .7-4.9 .6-8.6 .7 7.2 .7 2.6 .7 2.1 .7-1.4 .6-7.4 .7 5.4 .7 3.7 .7-9.1 .7 4.8 .6-7 .7-.3 .7 6.3 .7 5.6 .6-1.8 .7-6.4 .7 .7 .7 3.7 .7-3.5 .6 2.9 .7 7.5 .7-9.5 .7 3.1 .7-.7 .6 2.1 .7-9.2 .7 6.6 .7 7.8 .7-6.3 .6-8.6 .7 9.5 .7 2.3 .7-4.4 .7-1.1 .6 0 .7 4.1 .7-1.4 .7 .3 .7-4.3 .6 3.8 .7-2.9 .7-11 .7 12.2 .6 .2 .7 .3 .7 5 .7-8.4 .7 6.8 .6-10.2 .7 9.6 .7-8.9 .7 8.6 .7-5.4 .6 4.5 .7-7.2 .7-1.7 .7 8 .7 .5 .6 .7 .7-.8 .7-.8 .7-1.2 .7-2.4 .6 5.6 .7-1.8 .7 1.2 .7 1.5 .7-7.1 .6 6.8 .7-1.2 .7 0 .7 .3 .6 1.9 .7-2.3 .7-9.5 .7 12.3 .7 .3 .6-6.4 .7 9.5 .7-8.4 .7 5.8 .7 .9 .6 2.4 .7-9.4 .7 7.8 .7-5.6 .7 2.3 .6-4.9 .7 5.2 .7-9.4 .7 4 .7-5.1 .6 16 .7-9.2 .7-5.6 .7 4.4 .7 8.4 .6 .6 .7-2.6 .7-.1 .7-6.6 .6 2.1 .7 8.1 .7-8.2 .7-.2 .7-.6 .6 3.9 .7 2.5 .7 1 .7-6.1 .7 7.8 .6-2.4 .7-8.4 .7-.1 .7 .6 .7 6.1 .6-7.7 .7 16.4 .7-6.3 .7-3.6 .7-3.2 .6 8.1 .7-9.2 .7 4.3 .7-.1 .7 1.4 .6-7.4 .7 8.5 .7 3 .7-7.8 .6-1.2 .7 1.7 .7 11 .7-12.2 .7 4.1 .6 2.4 .7-7.1 .7-2.8 .7 9.9 .7-3.9 .6 3 .7-3.9 .7 1 .7-3.3 .7 4.6 .6 4.2 .7-7.8 .7 .7 .7-6.1 .7 14.2 .6-7.2 .7-6.8 .7 7.7 .7-5.7 .7 3.4 .6-.9 .7 5.3 .7 1.7 .7 1.2 .6-2.4 .7-5.3 .7-3 .7 7.4 .7-3.4 .6-2.3 .7 9.9 .7-5.6 .7-5.9 .7 3.2 .6 1.5 .7-1.4 .7 1.9 .7-5.3 .7 3.1 .6 2.6 .7-5.2 .7-.5 .7 3.5 .7-.9 .6 3.7 .7 .2 .7-4.1 .7-1.3 .7 8.8 .6-5.8 .7 2.6 .7 1 .7 1.8 .6 .3 .7-.7 .7-4.8 .7-.9 .7-1.6 .6 5.5 .7 2 .7-3.4 .7-13.4 .7 14 .6 2.7 .7 1.6 .7-6.7 .7-4.5 .7 6.7 .6-7.7 .7 8.8 .7 1.1 .7-2.4 .7-6.1 .6 6.3 .7 .5 .7-1.9 .7-5.3 .7 3.3 .6 0 .7 8.8 .7-5.9 .7-2.6 .6-1.4 .7-.3 .7 8.3 .7-9.8 .7 7.7 .6-8.5 .7 13.4 .7-10.9 .7 2.3 .7-8.4 .6 9.1 .7 8.6 .7-11.1 .7 3.9 .7 1.1 .6-8.5 .7 2.4 .7 2.2 .7 .5 .7-1.4 .6-5.8 .7-2.7 .7 11.7 .7 3 .7 2.5 .6-.9 .7-6.6 .7 5.2 .7-4.1 .6 .6 .7-12.7 .7 11.7 .7-2.1 .7-1.9 .6 11.8 .7-11.9 .7 3.1 .7-1.6 .7 3.5 .6-6.1 .7 6 .7-2.9 .7-4.9 .7 1.1 .6 10.6 .7-2.6 .7-2.2 .7 1 .7-1.2 .6-3.6 .7 .8 .7 .4 .7-1.4 .7 8.4 .6-2.6 .7-7 .7 9 .7 1.2 .6-3.3 .7 4.9 .7-5.1 .7-6.4 .7 4.4 .6 .3 .7 5.9 .7-.4 .7-10.1 .7 12.6 .6-3.5 .7-10.9 .7 6.7 .7 4.7 .7-10 .6 6.6 .7-1.7 .7-4.2 .7 6.7 .7 5.4 .6-7.8 .7-5.6 .7 4.1 .7-.1 .6 5.1 .7-4.5 .7-5.6 .7 1.6 .7 5.6 .6-5.1 .7 5.7 .7-7 .7 11.2 .7-5.8 .6 9.7 .7-7.8 .7-13.8 .7 13.4 .7-7 .6 4 .7-4 .7 8.1 .7 0 .7-1.5 .6-.7 .7 .2 .7-1.9 .7 5.3 .7-5.7 .6-2.7 .7 8.6 .7 .7 .7-8.8 .6 3.7 .7-2.4 .7 7.7 .7-2.6 .7-3.4 .6 4.4 .7-3.6 .7 .9 .7 3.5 .7-1.9 .6 2.5 .7 1.2 .7-2.2 .7-11.6 .7 9.2 .6-1.6 .7 3.6 .7-.5 .7-1.7 .7 7.4 .6-1.3 .7-1.6 .7-9.4 .7 2.5 .7 7.8 .6-2.3 .7-5.3 .7 3.8 .7-8.3 .6 5.3 .7 2.9 .7-2.4 .7-2.4 .7 2.3 .6 3.2 .7-5.9 .7-.1 .7 2.9 .7-2.8 .6 0 .7 1.3 .7 8.2 .7 1.4 .7-7.2 .6-2.2 .7 3.1 .7 3.4 .7-4.9 .7 7 .6-2.5 .7-3 .7-2.7 .7-1.3 .7 5.1 .6-.9 .7-6 .7 13.1 .7-8.2 .6-1.4 .7-1.4 .7 3.5 .7 1.9 .7-7.2 .6 6.8 .7-1.2 .7-7 .7 5.8 .7 2.4 .6 1.1 .7-5.3 .7 11.5 .7-6 .7-2.1 .6-.8 .7 8.9 .7-6.3 .7-3.3 .7 5.8 .6-.8 .7 3.1 .7-11.3 .7-2.8 .7 2.5 .6 8 .7-3 .7-1.9 .7-3.2 .6 8.8 .7-7.2 .7 2.1 .7-2 .7 .3 .6 5.3 .7-3.4 .7 3.4 .7 6.2 .7-8.9 .6 7.6 .7-12.4 .7 2.9 .7 5.1 .7-4.6 .6 3.7 .7-2 .7 4.7 .7-8 .7 8.7 .6-1.4 .7-13.9 .7 7.8 .7 6 .7-6.2 .6 8.2 .7-4.6 .7 3 .7-.8 .6-2.6 .7-2.2 .7-1.8 .7 4.9 .7 5.9 .6-7.8 .7 .6 .7-4.7 .7 3.8 .7-6.2 .6 3.3 .7 5.1 .7-2.7 .7 1.9 .7-7.5 .6 13.2 .7-4.9 .7-3.3 .7 6.9 .7-8 .6 10.1 .7-11 .7 3.2 .7 2.2 .7-.6 .6 4.6 .7-8.2 .7 .4 .7 7.7 .6-6 .7 1.8 .7-.3 .7 4.9 .7-11.9 .6 2.8 .7 6.3 .7-2.3 .7-7.2 .7 7.4 .6 .5 .7-2.3 .7-.9 .7 3.1 .7-.6 .6-3.7 .7 6 .7 .5 .7-2.4 .7 8 .6-3.5 .7-5.7 .7 4.8 .7-4.8 .7 2.9 .6-1.1 .7 6 .7 .2 .7 .3 .6-11.3 .7 6.3 .7-2.2 .7-2.2 .7-.4 .6 5.7 .7 4.1 .7-3.5 .7-2 .7 .9 .6-1.1 .7 7.1 .7-4.9 .7 2 .7-8.8 .6 8.1 .7 3.4 .7-8.7 .7-3.8 .7 .3 .6 1.8 .7 .8 .7 2.1 .7 .7 .7 3.7 .6-5.4 .7-3.2 .7 .7 .7 8.6 .6-9.2 .7 5.2 .7-2.6 .7-1.1 .7 6.6 .6-2.7 .7-3.3 .7 6.4 .7-1.8 .7-3.3 .6 8.9 .7-1.3 .7-4 .7 3.4 .7-2.7 .6-7.8 .7 3.5 .7-2 .7 7.6 .7-7.1 .6 3.6 .7-5.3 .7 6.9 .7-3.3 .7-.6 .6-5.3 .7 5.1 .7 5.4 .7-4.3 .6-6.5 .7 10.2 .7 6 .7-6.3 .7-5.7 .6 9.9 .7-2.4 .7-13 .7 10.1 .7-.2 .6-1.8 .7 0 .7 3.5 .7-1.4 .7 5.3 .6-8.3 .7 1.2 .7-7.5 .7 12.3 .7-2.1 .6 .7 .7-1.4 .7-4.7 .7-.5 .7 5.5 .6-1 .7 2.2 .7-6.4 .7 7.8 .6-1 .7-2.7 .7-.7 .7 5.4 .7-1.7 .6-2.3 .7-3.1 .7 4.8 .7-.2 .7-9.8 .6 3.5 .7-4.3 .7 1.3 .7 4.1 .7-2.8 .6 12.2 .7-2.1 .7-2.8 .7-5.3 .7 2.8 .6 2.9 .7 2.3 .7-9.9 .7 9.4 .7-5 .6 .4 .7 1.5 .7-1.8 .7-.5 .6-5.1 .7 9.7 .7-2.5 .7 2.8 .7-9.2 .6 1.1 .7 3 .7 .4 .7 1.3 .7-2.4 .6-2 .7-.7 .7 4 .7-3.4 .7 3.6 .6 8.7 .7-13.4 .7 6 .7 .5 .7-4.3 .6 2.2 .7 1.1 .7-.9 .7-3.1 .6 2.3 .7 1 .7 3.6 .7-8.3 .7 8.3 .6-1.7 .7-4.6 .7 3.2 .7-3.1 .7 6 .6-4 .7-3.4 .7-2 .7 5.9 .7-2.2 .6-.8 .7-6.7 .7 12.1 .7-10.2 .7 9.7 .6-4.8 .7-3.1 .7 9.1 .7-7.2 .7 8.5 .6-8.9 .7 1.7 .7-6.6 .7 5.9 .6-1.9 .7 3.8 .7-5.5 .7 6.8 .7 1.3 .6-3.7 .7-2.5 .7 0 .7 2.4 .7 1.2 .6 4.2 .7-.4 .7-5.2 .7-3.1 .7-3.5 .6 1.6 .7 1.2 .7 4 .7 3.8 .7-4.3 .6 1.4 .7-.5 .7-4.7 .7 5.2 .7-1.3 .6-2.1 .7-.9 .7 .3 .7-3.8 .6 10.1 .7-12.4 .7 8 .7 2.4 .7-8.5 .6 12.7 .7-9.4 .7 9.3 .7-12.9 .7 6.8 .6-14.8 .7 16.6 .7-11.2 .7 7.3 .7-.5 .6 1.8 .7 1.4 .7-2.5 .7-7.4 .7 2.7 .6 .2 .7 6.6 .7-4.8 .7-2.4 .7 7.3 .6-7.9 .7-4.5 .7 6.2 .7 .6 .6-1.9 .7 5 .7-7.4 .7-3.5 .7 7.9 .6-1.7 .7 2.6 .7-.2 .7 .3 .7 2.5 .6-9.2 .7 5.3 .7-.9 .7-1.1 .7 4.2 .6-8.2 .7 .3 .7-4.8 .7 16.4 .7-9.6 .6-4.7 .7 12 .7-4.9 .7 2.5 .7-5.3 .6-1.5 .7 .5 .7 2.2 .7-3.9 .6 5.6 .7-8.8 .7 4.6 .7 7.5 .7-7.6 .6-2.6 .7 11.9 .7-21.1 .7 12.7 .7 4.9 .6-12.7 .7-2.4 .7 1.9 .7 2.4 .7 2.1 .6-8.7 .7 4.1 .7 10.2 .7-12.3 .7-.8 .6 12.1 .7-1 .7-15 .7 7.7 .7 1.9 .6-.8 .7-7.2 .7 5.5 .7 3.1 .6-7.6 .7 2.7 .7-1.6 .7-.5 .7 8.7 .6-9.2 .7-.1 .7-2.1 .7-.5 .7-.3 .6 .3 .7-3.6 .7 2.3 .7-6.8 .7 8.2 .6-.4 .7-10.1 .7 5.4 .7 1.4 .7 5 .6-9.2 .7 11.3 .7-7 .7-2.5 .7-7.3 .6 .8 .7 2.1 .7-3.1 .7 3.8 .6-4.6 .7 2.7 .7-4.4 .7 .4 .7 11.5 .6-2.8 .7 3.5 .7-1.5 .7-8.5 .7-3 .6-6.6 .7-5.7 .7 12.3 .7-9.7 .7-1.3 .6 2.8 .7 10.8 .7-3.9 .7-1.3 .7-7.3 .6-5.4 .7 11.3 .7-3.2 .7-3.3 .7-3 .6 6.7 .7-11.7 .7 2.8 .7-4.3 .6 9.8 .7-9.2 .7 8.8 .7-9.5 .7 .6 .6-1.8 .7-.7 .7 .2 .7 4.7 .7-11.1 .6 16.4 .7-14.6 .7 4.8 .7 2.6 .7 3.4 .6-2.9 .7-.1 .7 8.9 .7-14.2 .7 14 .6-7.4 .7 3.6 .7-17.6 .7 9.8 .7-2.2 .6 1.9 .7 .1 .7 1.3 .7 4.2 .6-12.3 .7 5.3 .7 9.1 .7-7.1 .7 5.6 .6 3.3 .7 1.7 .7-4 .7 8.1 .7-6 .6-2.9 .7 6.4 .7-3.1 .7 4.1 .7-13.4 .6 9 .7-6.7 .7 2.2 .7 1.5 .7 7.8 .6-.3 .7-6.7 .7 1.9 .7 9.7 .7 9.1 .6-12.2 .7 4.3 .7-4.4 .7-1.6 .6 2 .7 6 .7 8.6 .7-13.9 .7 3.4 .6 5.6 .7-1.8 .7 1.2 .7 1.7 .7 1 .6-.9 .7 4.3 .7-.8 .7-.4 .7 5.7 .6-.3 .7 4.3 .7-11.6 .7 9 .7-8.3 .6 14.9 .7-9.9 .7-.1 .7 3.1 .7 .6 .6-3.3 .7 .2 .7 13.4 .7 4.1 .6 1 .7-5.2 .7 1.5 .7 .2 .7 1 .6-1.7 .7 1.2 .7-1.5 .7 7.9 .7-3.7 .6-1.9 .7-4.9 .7 5.8 .7 4.3 .7-2.7 .6-.9 .7 3.4 .7 2 .7 2.1 .7 3.7 .6-6.2 .7 7.2 .7-5.3 .7 5 .6-.4 .7-3.5 .7-1 .7 2.5 .7 1.9 .6-.9 .7-4.2 .7 10.2 .7-11.7 .7 3.4 .6 5.3 .7-4.7 .7 4.6 .7 .5 .7-4.6 .6 2.3 .7 9.3 .7-4.7 .7-3.5 .7 10.8 .6-5.8 .7 9.3 .7-15.2 .7 5.2 .7-1.1 .6 0 .7-.4 .7 7.9 .7-8.4 .6 7.1 .7-1.8 .7-8.6 .7 11.3 .7-5.2 .6-1.8 .7 7.6 .7-3.7 .7 .7 .7-1.5 .6-2.7 .7 2 .7 .4 .7 9.6 .7-6.6 .6-5.1 .7 5.6 .7-.2 .7-3.1 .7 3.2 .6-.1 .7-1.3 .7 5.9 .7-5.8 .7 7.3 .6-4.3 .7 4.6 .7-2.8 .7-.6 .6-7.4 .7 .3 .7 4.5 .7 .5 .7-4.2 .6 8.5 .7-7.9 .7 4.1 .7-6.3 .7 1 .6 4 .7-2.3 .7 2.9 .7 4.8 .7-14.9 .6 4.4 .7 .6 .7 4 .7-.4 .7 1.9 .6-8.8 .7 8.9 .7-2.7 .7 .5 .7 4.5 .6-2.2 .7-13.4 .7 5.1 .7 6.1 .6-1.3 .7-9.3 .7 6.1 .7 5.2 .7-.1 .6-10.7 .7 2.8 .7-4.1 .7 6.4 .7 4.5 .6-4.6 .7-4.6 .7-4.4 .7 2 .7 .5 .6 7.5 .7-8.5 .7 3.6 .7 .6 .7-.5 .6-6.7 .7-.8 .7 5.1 .7-4.3 .7 10.3 .6-6.4 .7 8 .7-10.7 .7-3.1 .6-.5 .7 .4 .7-.8 .7 12.6 .7-7.7 .6-8.6 .7 7.5 .7 1.1 .7-7.5 .7-.4 .6 4 .7 .7 .7-3.5 .7-2.7 .7 6.6 .6-10.3 .7 7.1 .7 1.1 .7-5.3 .7 9 .6-11.3 .7-3.1 .7 2.6 .7 4.5 .7-1.3 .6 4.8 .7-4.7 .7-4.8 .7-1.3 .6 4.3 .7-3.9 .7-1.1 .7-.3 .7 7.9 .6-5.6 .7 2.9 .7-2.2 .7-.4 .7-2 .6-6.6 .7 13.7 .7-7.5 .7-.2 .7 4.3 .6-2.2 .7-1 .7-2.8 .7 2.2 .7 .5 .6-3.6 .7 4.6 .7 1.5 .7-3.9 .7 1.9 .6-1.1 .7-1.3 .7 3.2 .7-5.7 .6 3.3 .7-3.8 .7-1.8 .7 2.2 .7 1.3 .6-1.1 .7 .3 .7 .3 .7 3.2 .7 4 .6-4.8 .7-5.1 .7-.7 .7 3 .7-.2 .6 8.3 .7-4.2 .7 9.1 .7-1.6 .7-20.9 .6 12.9 .7 1.7 .7 4.6 .7-7.4 .7 2.5 .6 1 .7 8.2 .7-3.3 .7-6.8 .6 6.5 .7-7.1 .7 7.9 .7-1.4 .7 1.8 .6-7.6 .7 12.9 .7-9.8 .7 .6 .7 5.9 .6-5.3 .7 4.2 .7 6.1 .7 .4 .7 1.5 .6-1.3 .7-8.2 .7 13.2 .7-1.1 .7 0 .6-4.2 .7-3.4 .7 2.9 .7-1.4 .7 7.5 .6-1.9 .7-1.7 .7 3.7 .7 1.1 .6-5.1 .7 7.2 .7-2.5 .7 6.2 .7 5.9 .6-13.1 .7 5 .7-5.2 .7 3.6 .7-.1 .6 .6 .7 4.9 .7-4 .7 10.5 .7-7.5 .6 10.8 .7-2.3 .7-6.2 .7-1.3"/>
<path stroke="#F14040" stroke-width="3.4" d="M331.7 1213.2l.7 49.8 .7 5.2 .7 20.7 .7 26.9 .6 9.5 .7 1.8 .7 16.8 .7 10.3 .7 12 .6 21.3 .7-7.2 .7 28.5 .7-3.8 .7 7.4 .6 17.2 .7-11.6 .7-12 .7 18.6 .6 10.9 .7-3.5 .7-4.1 .7 14.3 .7 8.4 .6 17.4 .7-6.4 .7 7.5 .7 1.3 .7 6.1 .6 12.1 .7 26.7 .7-1.3 .7 5.4 .7-8.6 .6 10.9 .7-13.7 .7 14.3 .7 2.7 .7 1 .6 4.9 .7 15.1 .7-20.8 .7 9.1 .6 2.6 .7 16.5 .7 9.2 .7 .4 .7-.4 .6-9.2 .7 2 .7-1.3 .7-2 .7 11.3 .6 2.7 .7 6.8 .7 1.4 .7 5.4 .7-8.1 .6 2.6 .7 5.5 .7 3.7 .7-7 .7-2.3 .6 8.2 .7 .2 .7 5.9 .7-.4 .7 1.6 .6 1 .7 2.9 .7-4.4 .7-3.8 .6 13.4 .7-15.2 .7 14.3 .7 .8 .7 10.7 .6 8.4 .7-22 .7 10.8 .7-9.2 .7 5.1 .6-.1 .7-4.7 .7 8.5 .7 18 .7-7.1 .6-13.2 .7-4.3 .7 12 .7 4.3 .7 4.6 .6-10.3 .7 14.4 .7-1.9 .7-6.1 .7 1.1 .6 2.7 .7-5.9 .7 12.7 .7 .5 .6-3.2 .7-1.7 .7 2.8 .7-11.1 .7 13.9 .6-5.6 .7 6.9 .7-3.9 .7 4.5 .7 .3 .6-13.1 .7 14 .7-9.7 .7 12.7 .7-1 .6-7.4 .7 18.1 .7-3.7 .7-8.1 .7-2 .6-.2 .7 4.7 .7 5.8 .7-11 .7 2.1 .6 8.1 .7-5.8 .7-8.4 .7 8.5 .6 6.7 .7-3.7 .7-.2 .7-3.4 .7-2.8 .6 9.2 .7-1.4 .7-8.4 .7 1.4 .7-3.1 .6 17.4 .7-5.9 .7-9.8 .7 9.7 .7-6.4 .6 1.9 .7 3.4 .7-11.2 .7 7.4 .7 2.5 .6-1.8 .7-2.1 .7 9 .7-3.6 .7 1.9 .6 4.1 .7-15.7 .7-2.4 .7 1.1 .6 14.7 .7-11.1 .7-1.6 .7 6.1 .7-7.2 .6 9.6 .7-.4 .7-1.4 .7-.8 .7 1.2 .6-10.2 .7 10 .7-3.4 .7 .6 .7-14.7 .6 15.4 .7-7.2 .7-7.2 .7 15 .7-2.1 .6-2.9 .7 4.8 .7-13.2 .7 8.4 .7-8 .6 2.5 .7 2.4 .7-4.9 .7 6.3 .6-7.1 .7 11.9 .7-3 .7-10 .7 16.6 .6-13.1 .7 4.3 .7 .6 .7 .7 .7-10.2 .6 17.7 .7-15.6 .7 1.7 .7 4.5 .7-1.6 .6-4.3 .7 6.5 .7 4.6 .7-9.2 .7 5.6 .6-2.3 .7-2.4 .7-3.6 .7-5.6 .7 7.4 .6 1 .7-3.6 .7 2.6 .7 9.9 .6-5.6 .7 3.1 .7-9.9 .7-3.1 .7 4.6 .6 6.9 .7-9.4 .7 8.9 .7-6.3 .7 7.2 .6 .9 .7 0 .7-7.3 .7 3.3 .7-6.7 .6 9.8 .7-9.2 .7 5.5 .7-9.6 .7 1.1 .6 6.7 .7-2.2 .7-.8 .7-1.2 .7 3.7 .6-7.1 .7 8.1 .7 7.2 .7-11.2 .6 1.8 .7-4.9 .7 1.2 .7 2.3 .7 .1 .6-.2 .7 4 .7 2.8 .7-2 .7-3.8 .6 11.1 .7-9.4 .7 2.7 .7-4.6 .7 3.7 .6-4.5 .7 1.5 .7-7.9 .7 9.2 .7-1.4 .6-1.4 .7 9.4 .7-3.8 .7-12.9 .7 4.7 .6 2.2 .7-5.1 .7 6.4 .7 .3 .6 .3 .7 7.5 .7-13.9 .7 5.7 .7-.5 .6 1.2 .7 1.5 .7 8.3 .7-12.3 .7-10.4 .6 6 .7 6.6 .7 3.2 .7-4.9 .7-2.6 .6 3.3 .7-4.9 .7 9.2 .7-10.4 .7 4.6 .6 3.6 .7-1.3 .7-4.1 .7-1.3 .7 3.5 .6-2.6 .7-9.4 .7 20.7 .7 1.9 .6-10.8 .7 5.4 .7-5.5 .7 12.5 .7-12.7 .6-6 .7 1 .7 11.3 .7-4.1 .7-6.1 .6-4.8 .7 14.2 .7-.5 .7-10.1 .7 7.5 .6 3.4 .7-10.6 .7 13.9 .7-5.1 .7-8.5 .6 8.2 .7-7.1 .7 10.1 .7-10.2 .7 1.5 .6-5.9 .7 9.5 .7 .6 .7-1.4 .6-5.8 .7 9.1 .7-3.1 .7-10.7 .7 6 .6 .2 .7 6.4 .7-7.1 .7 10.4 .7 1.6 .6-2.8 .7-12.2 .7 6.4 .7 5.7 .7-3 .6-4.2 .7-3.8 .7 14.5 .7-18.4 .7 5.1 .6 8.4 .7-1.6 .7-4.6 .7 3.9 .7-2.5 .6 6.4 .7 3.9 .7-22 .7 11.6 .6-.4 .7-1.5 .7-4.3 .7 2 .7 10 .6-4.5 .7-1.3 .7-5.4 .7 8.7 .7-5.1 .6 .7 .7-6 .7 20.5 .7-14.1 .7-1.3 .6-1.8 .7 3.5 .7 4.1 .7-7.8 .7 1.5 .6 6.2 .7 2.6 .7-10 .7 7.3 .6-7.9 .7-4.5 .7 6.7 .7-.2 .7 .5 .6-6.6 .7-.1 .7 6.8 .7-3.5 .7 3.6 .6 2.8 .7-6.6 .7 4.4 .7 3.9 .7 3.4 .6-12.9 .7 10.1 .7 .8 .7-4.3 .7-5.2 .6 12.9 .7-12.1 .7 1.3 .7 8.5 .7-.3 .6-4.8 .7-10.7 .7 11.5 .7-6.7 .6 1 .7 13.2 .7-7.9 .7-4.8 .7 7.8 .6-8.5 .7 12 .7 2.3 .7-5 .7-5.4 .6 5.6 .7-6.4 .7 12.9 .7-4.6 .7-9.7 .6 19.7 .7-13.8 .7 6.4 .7-.5 .7-1.1 .6 5.3 .7-14.1 .7 4.1 .7-3 .7 5.5 .6 5.8 .7-7.8 .7 10.2 .7-1.9 .6-15.1 .7 5.4 .7 3.4 .7-5 .7 9.2 .6-4.2 .7 7.3 .7-2.2 .7-1.9 .7-6.9 .6 11.3 .7-11.1 .7 8 .7 9 .7 1.1 .6-6 .7-11.2 .7 6.7 .7-7.6 .7 8.3 .6-6 .7 5.3 .7 6.6 .7-8.1 .7 7.4 .6 3.4 .7-3.2 .7-1.8 .7-3.2 .6-3.1 .7-.2 .7-6 .7 20.3 .7-9 .6-13.9 .7 14.5 .7 4.8 .7-2.6 .7 1.1 .6-2.5 .7-11.2 .7 15.7 .7-3.6 .7-10.6 .6 5.6 .7-.2 .7 3.5 .7-6.7 .7 9.8 .6-10 .7 4.2 .7 1.5 .7 1.7 .7-7.6 .6 3.1 .7 3.6 .7-2.6 .7 5.8 .6-11.8 .7-.6 .7 1.2 .7 4.2 .7-1.2 .6 9.4 .7-5.1 .7-.7 .7-.4 .7-4.1 .6 5.4 .7 1.4 .7-9.8 .7 7.5 .7 3.1 .6 5.4 .7-3.3 .7-5.8 .7-2.5 .7 10.3 .6-9 .7-1.8 .7 4.2 .7-2.9 .7-6.9 .6 10.9 .7 4.7 .7-6.7 .7 2.5 .6-4.3 .7-3.8 .7-1 .7 2.8 .7-5.5 .6 5.2 .7-3.5 .7 3.4 .7 .3 .7 5 .6-3.7 .7 2.8 .7-1.5 .7-1.9 .7-5.5 .6 7.6 .7-5 .7 9.3 .7-4.9 .7-7.9 .6 4.6 .7 10.8 .7-9 .7 1 .7 4.7 .6 2.8 .7-4.1 .7 .5 .7-9.1 .6-.7 .7 .9 .7-2.3 .7 16.5 .7-9.7 .6-3.2 .7 5 .7-.2 .7 .8 .7-5 .6 1.1 .7-6.6 .7 3.2 .7 1.8 .7 1.1 .6 3.8 .7-4.6 .7-3.6 .7 1.7 .7 7.7 .6 2.2 .7-11.3 .7 2.5 .7-.5 .7 5.7 .6-8.2 .7 .1 .7 4.9 .7-4.3 .6 7.5 .7-4.3 .7 9.7 .7-8.8 .7-14.1 .6 8.9 .7-5.3 .7 5.8 .7 1.6 .7 0 .6 3.1 .7-5.8 .7 7.3 .7-4 .7-16.5 .6 12.7 .7 6.2 .7-7.9 .7 3.1 .7 3.5 .6 4.3 .7-4.9 .7 1.3 .7-2.5 .7-1.8 .6 .4 .7 6.2 .7-7.5 .7 .5 .6 9.6 .7-9.3 .7 2.1 .7-2.5 .7 7.5 .6-4 .7-.4 .7 5 .7-9 .7 4.1 .6-3.6 .7 7.1 .7 5.2 .7-4.5 .7 5.2 .6-7.3 .7-7 .7-8.1 .7 4.8 .7-.8 .6 0 .7-4.5 .7 10 .7-3.9 .7 1.4 .6 16.7 .7-14.3 .7 .5 .7-1.8 .6 4.6 .7 1.2 .7-1.3 .7-6.5 .7 1.3 .6-5.4 .7 14.3 .7-12.5 .7-4.1 .7 14.6 .6-5.2 .7 8.7 .7 6.3 .7-7.5 .7-7.3 .6-1 .7 3.1 .7-5.4 .7 1.4 .7-8.2 .6 17.5 .7-2.9 .7-1.5 .7 .2 .7-.9 .6-21 .7 20.3 .7-5.5 .7 11 .6-3.9 .7-8.3 .7-.8 .7 13.9 .7-19.9 .6 8.9 .7 6.3 .7-6.7 .7 5.9 .7 4.4 .6-8.9 .7-5.5 .7 .7 .7 14.6 .7-3.8 .6-4.2 .7-6.7 .7-1.5 .7 10.2 .7 3.4 .6-9.7 .7 5.6 .7-6 .7-2.4 .6 .8 .7 10.2 .7 1.2 .7 1.4 .7-12.2 .6-5 .7 14.6 .7-2.8 .7 2.2 .7-4.4 .6 3.8 .7 0 .7-11.5 .7 1.7 .7 4.8 .6-6.1 .7 9.4 .7-5.8 .7 7.5 .7-1.1 .6-9.4 .7 11.8 .7-4.4 .7 7.1 .7-2.7 .6-7 .7-.3 .7 8.4 .7-20.1 .6-.2 .7 19.1 .7-9.8 .7 1.2 .7 4.2 .6 3.4 .7-7.1 .7 .6 .7-7.7 .7 5.5 .6 6.2 .7 0 .7-5.9 .7-5.6 .7 11.5 .6-8.1 .7-5.9 .7 14.8 .7-15.9 .7 10.6 .6-3 .7 2.4 .7-5.1 .7-1 .7-1.5 .6-11.6 .7 28.9 .7-11.1 .7 4.3 .6-6.3 .7 2.6 .7-2.6 .7-1.5 .7 3 .6-10.7 .7 15.2 .7-5.3 .7-3.2 .7-7.5 .6 14.8 .7-.7 .7-9.9 .7 2.4 .7 8.1 .6-14.3 .7 4.8 .7 3.1 .7-.1 .7-2.5 .6 2.4 .7-3.9 .7-.1 .7 7.7 .7 6.4 .6-25.1 .7 15.4 .7-12.4 .7 8.5 .6 15.3 .7-16.1 .7 6.2 .7 7.4 .7-12.1 .6 6.1 .7-4.8 .7-7.1 .7 2.2 .7 4.2 .6 .2 .7 .3 .7 4.5 .7 2.3 .7-2.5 .6-2.9 .7 5.7 .7-2.4 .7-.9 .7 5.5 .6-10 .7-.7 .7 6.3 .7 6.4 .7 5.7 .6 3.5 .7-18.7 .7 5.6 .7 4.8 .6 5.4 .7-6.2 .7-5.1 .7 3.9 .7 7.7 .6-20.3 .7 13.5 .7 9.8 .7-8 .7 .4 .6-1.2 .7 2.2 .7 8.5 .7-8.1 .7 6.3 .6-4.5 .7 1.1 .7-3.4 .7 2.4 .7 3 .6-14.9 .7 15.3 .7 .4 .7-4 .7 0 .6-2.4 .7 12.5 .7-4.3 .7-8.3 .6 4.3 .7 .1 .7 8.7 .7 .2 .7-2.9 .6-5.6 .7-2.3 .7-.5 .7 18.6 .7-13.6 .6-.7 .7 2.5 .7-.1 .7 3.5 .7-3.6 .6 10.1 .7-18.3 .7 5.5 .7-6.4 .7 13.5 .6 2.5 .7-17.7 .7 19.9 .7-1.7 .7-13 .6-3.3 .7 10.5 .7-2.4 .7 .2 .6-5 .7 8.1 .7-7.5 .7-1.5 .7 5 .6-1.1 .7-11 .7 9.9 .7 3.5 .7-7.5 .6-.7 .7 9.5 .7 1.3 .7-15.2 .7 4.2 .6-.5 .7-1.7 .7 13.8 .7 2.4 .7-13.2 .6 .3 .7 3.8 .7-2.9 .7 7.4 .7 1.2 .6-4.2 .7-3 .7-1 .7 3.9 .6-3.9 .7-3.1 .7 3.6 .7 4.7 .7-10.8 .6 14 .7-6.8 .7-8.4 .7-2.8 .7 4.1 .6 10 .7 6.5 .7-5.3 .7-3.3 .7-.9 .6 5.5 .7-2.5 .7-3.7 .7 .6 .7-8.9 .6 6.3 .7-1.5 .7 6.8 .7-3.1 .7 9.8 .6-6.7 .7 4.8 .7-8.6 .7-2 .6 2 .7-6.9 .7 10.6 .7-2.9 .7 2.1 .6-1.2 .7-8.1 .7 16.1 .7-17.9 .7 1.3 .6 2.3 .7 6.6 .7-3.8 .7 3 .7-9.2 .6 12.5 .7-.8 .7-5.1 .7 12.3 .7-19.5 .6 8.6 .7-5.4 .7 2.3 .7 9.7 .7-8.9 .6-2 .7 7.7 .7-1 .7 .1 .6-9.1 .7 9.7 .7-1.8 .7-4.2 .7-1.2 .6 3.4 .7-10.8 .7-.4 .7 13.9 .7-19.1 .6 10.3 .7-1.2 .7-.8 .7 10.4 .7-.7 .6-8.8 .7 5.7 .7-17.3 .7 15.5 .7-7 .6 9.2 .7-15.7 .7 1.2 .7 16.3 .7-9.3 .6 1 .7-7.4 .7 19.3 .7-10.5 .6-6.2 .7 5.9 .7 1.3 .7 3.8 .7-9.2 .6 3.2 .7 5.3 .7-8.2 .7 4 .7-5.7 .6-2.1 .7-2.1 .7 3.3 .7 6.5 .7-4.3 .6 1.6 .7-8.4 .7 10.1 .7-13.3 .7 7.5 .6-5.2 .7 6.6 .7-8.8 .7 8.8 .7-11.6 .6 5.7 .7-2.2 .7 .7 .7 6.6 .6-11.6 .7 14.5 .7-8.7 .7-3.8 .7-1.7 .6 9.7 .7-2.8 .7-1.7 .7 3.6 .7-4.4 .6 2.9 .7-7.4 .7 3 .7 2.7 .7-.8 .6-5 .7 4.5 .7 2.5 .7-2 .7-7.3 .6 9.9 .7-10 .7-4.4 .7 7 .6-2.1 .7 9.3 .7-6.8 .7-2.7 .7-5.2 .6 3.2 .7 3.3 .7-3.5 .7 2.9 .7-15.9 .6 11.7 .7-11.8 .7 15.7 .7-3.8 .7-13.3 .6 8.4 .7-13.3 .7 6.3 .7-3.7 .7 14.9 .6-9.9 .7 2.2 .7-11 .7 10.2 .7-2.9 .6 3.5 .7 3.9 .7-12.7 .7 4.5 .6-4.4 .7 6.4 .7-5.6 .7 3.5 .7-2.5 .6-4.4 .7 3.1 .7-7.7 .7 9.5 .7-4.8 .6-10.1 .7 10.3 .7 5 .7-17.4 .7 6.8 .6 4.1 .7-.1 .7-10.3 .7 11.9 .7-1.1 .6-13.7 .7 1.3 .7-2.9 .7 5.5 .7-6.2 .6 6.8 .7-3 .7-5.3 .7-1.4 .6-5.8 .7 .7 .7 8.6 .7-3 .7-8.3 .6-4.3 .7 3.3 .7 4.1 .7-4.7 .7-6.3 .6-2.2 .7 10 .7 1.2 .7-6.9 .7 2.8 .6-4.6 .7 4.1 .7-8.1 .7-2.2 .7-6.6 .6 .1 .7 4.9 .7 5.4 .7-11.3 .7 7.7 .6 3.4 .7-7.7 .7 5.1 .7-20.1 .6 3.6 .7-2.8 .7 9.6 .7-3 .7-3.1 .6 2.5 .7-3.9 .7-3.6 .7 5.6 .7-5.2 .6-9.3 .7 5.4 .7 10.4 .7-6.4 .7-2.8 .6-2.7 .7-5.4 .7 5.4 .7-16.6 .7 9.6 .6-5.9 .7 7.2 .7 6 .7-17.4 .7-3.5 .6-2.7 .7 5.9 .7-3.9 .7 5 .6 8.1 .7-17.1 .7-4.3 .7-2.6 .7-3 .6-2.5 .7-.6 .7-1.5 .7 1.5 .7 3.7 .6 7.5 .7-16.3 .7-9.8 .7 4 .7-11.8 .6 6.2 .7 16.1 .7-23.2 .7 11.2 .7-7.9 .6 0 .7-4.9 .7-13.9 .7 .5 .7 15.4 .6-15.1 .7 5.4 .7-16.7 .7-5 .6 11.2 .7-12.9 .7-3.7 .7-.9 .7-5.9 .6 5.1 .7-6.2 .7-.4 .7-4.4 .7-2.8 .6 12.2 .7-18.2 .7-18.1 .7 19.1 .7-9.4 .6 24.1 .7-39.4 .7-2.3 .7-10.7 .7-9.6 .6 13.4 .7-6.1 .7-14.8 .7 2.6 .7-14.3 .6 12.3 .7-16.7 .7 .2 .7-2.6 .6-19.4 .7 3 .7-10.8 .7-7.7 .7 11 .6-34.7 .7-5 .7-7 .7-5.2 .7-15.1 .6-5.2 .7-2.4 .7-16.2 .7-12.7 .7-4.3 .6-10.2 .7-12.7 .7-12 .7-9.4 .7-7.4 .6-16 .7-7.6 .7-11.7 .7-18.4 .7-5.9 .6-10.4 .7-19.3 .7-6.5 .7-22.8 .6-9.4 .7-18.1 .7-9.6 .7-9.7 .7-14.4 .6-15.8 .7-24.5 .7-8 .7-21.9 .7-16.7 .6-5.9 .7-19 .7-17.5 .7-22.1 .7-16.4 .6-6.3 .7-24.5 .7-14.9 .7-9.9 .7-26.5 .6-16.3 .7-6.1 .7-23.9 .7-9.6 .7-23.6 .6-15.4 .7-8.2 .7-15.3 .7-20 .6-7.5 .7-18.9 .7-2.6 .7-11.8 .7-20.9 .6-7 .7-6.6 .7-5.4 .7-13.6 .7-1.2 .6-10 .7-10 .7 1.5 .7 .3 .7-1.9 .6-3.3 .7 2.5 .7-6.7 .7 9.7 .7 3.7 .6 4.1 .7 9.2 .7-2.3 .7 18.9 .7 10 .6 .9 .7 20.9 .7 4 .7 15.9 .6 19.8 .7 12.7 .7 20.7 .7 16.3 .7 6.7 .6 24.4 .7 16.6 .7 19.2 .7 15.2 .7 20.1 .6 16.6 .7 18.3 .7 13.2 .7 25.8 .7 16.5 .6 17 .7 22.8 .7 11.3 .7 20.3 .7 19.5 .6 18.1 .7 13.7 .7 15.2 .7 15.4 .7 14.6 .6 20.4 .7 8.8 .7 19.5 .7 10.4 .6 20.8 .7 7.5 .7 18.5 .7 16.9 .7 11.6 .6 9.8 .7 18.5 .7 6 .7 17.8 .7 5.5 .6 15.7 .7 12 .7 8.1 .7 2.6 .7 9.9 .6 16.1 .7 2.7 .7 12.6 .7-3 .7 20.3 .6 3.8 .7 21.1 .7-9.5 .7 10.3 .7 4.8 .6 3.7 .7 21.2 .7 .6 .7 23.8 .6-1.3 .7 8.4 .7-9.7 .7 7.2 .7 4.9 .6 8.5 .7-9.2 .7 13.5 .7 16.5 .7-14.1 .6 4.4 .7 10.6 .7 27.2 .7-6.1 .7-6.5 .6 9.4 .7 12.8 .7-9.4 .7 9.4 .7-4.2 .6 2.9 .7-5.7 .7 19.4 .7-11.1 .6 16.6 .7-11.5 .7 6.1 .7 2.8 .7 4.1 .6 7.6 .7-5.3 .7 .8 .7-2.7 .7 7.4 .6 1 .7 12 .7 5.8 .7-11.2 .7-13 .6 17.7 .7 6.3 .7 12.4 .7-19.9 .7 11.3 .6-1.4 .7-5.1 .7-1.6 .7-7.4 .7 4.9 .6 4.1 .7 5.3 .7 8.1 .7-5.6 .6-7.5 .7 21 .7-13.7 .7-10.1 .7 4.1 .6 7.7 .7 .5 .7-6.2 .7 5.5 .7-5.2 .6-7.6 .7 12.5 .7 1.8 .7-11 .7 4.2 .6 7 .7 7.2 .7-30 .7 3.6 .7 12.5 .6-6.5 .7 2.6 .7-2.5 .7-8.9 .7 6.9 .6 2.7 .7-4 .7-.1 .7-4.9 .6 5.1 .7 1.3 .7-18.2 .7 6 .7-5.2 .6-7.7 .7 12.8 .7-.2 .7-5.7 .7 7.4 .6-2.4 .7-1.3 .7-13.5 .7 12.8 .7-13.5 .6-1.2 .7-13.9 .7 10.5 .7-12 .7-2.2 .6-2.4 .7-8.3 .7 20.1 .7-19.3 .7 2.3 .6-3.5 .7-16.2 .7 10.2 .7-3.2 .6-22.9 .7 24.3 .7-29.5 .7 13.5 .7-26.8 .6 14.8 .7-15.3 .7-3.4 .7-4 .7-8.9 .6-1.9 .7-14.6 .7-5.4 .7 14.1 .7 8.8 .6-53.3 .7 27.3 .7-25.4 .7-2.7 .7-7.8 .6-6.5 .7-19.8 .7-8.9 .7 .3 .7-17.9 .6-7.8 .7-13.8 .7-6.5 .7-5.3 .6-21 .7-11.6 .7-11.9 .7-11.2 .7-4 .6-12.9 .7-16.6 .7-15.7 .7-11.1 .7-18.5 .6-7.2 .7-16.5 .7-13.7 .7-17.1 .7-12.3 .6-24.9 .7-5.6 .7-16.5 .7-20.3 .7-9.3 .6-23.1 .7-14.5 .7-14.7 .7-5.7 .7-13 .6-14.9 .7-10.3 .7-14.8 .7-11.7 .6-8.3 .7-6.5 .7-15 .7-6.4 .7-3.8 .6-2.7 .7-1.9 .7-4.4 .7 7.8 .7 3.1 .6-1 .7 2 .7 5.4 .7 4.8 .7 5.9 .6 4.5 .7 12.4 .7 10 .7 5.4 .7 7.7 .6 14.7 .7 15.1 .7 8.1 .7 15.6 .7 9.1 .6 18.7 .7 12.9 .7 11 .7 19.2 .6 17.4 .7 17.4 .7 20.5 .7 9.8 .7 24.7 .6 15.5 .7 19.3 .7 11 .7 15.2 .7 27.3 .6 9.8 .7 20.9 .7 12.6 .7 27 .7 16.2 .6 10.4 .7 19.2 .7 14.6 .7 31.5 .7 4.7 .6 18.2 .7-5.7 .7 28 .7 14.2 .7 19.2 .6 .5 .7 23.5 .7 11 .7 22.4 .6-2 .7 12.1 .7 25.3 .7 8.7 .7 2.7 .6 13.6 .7 14.1 .7 1.8 .7 6 .7 12.5 .6 10.5 .7 2.6 .7 11.1 .7 6.7 .7 2.5 .6 .8 .7 6.2 .7 11.3 .7 7.6 .7 3.2 .6 2.5 .7 3.2 .7 8.3 .7 3 .7 1.8 .6 9.6 .7-1.4 .7 1.5 .7 .4 .6 4.9 .7 6.3 .7 5.1 .7 .3 .7 4.4 .6 .8 .7 0 .7 .7 .7-3.3 .7 4.8 .6 .9 .7-.4 .7 5.3 .7 5.7 .7-4.4 .6 2.5 .7-12.7 .7 3.5 .7 7.2 .7-1.2 .6-4.1 .7 .7 .7 2.1 .7 .3 .7 .1 .6 9.7 .7 4.4 .7-4.7 .7-4.8 .6 5.9 .7-1.6 .7-1.5 .7 .7 .7 4.2 .6-3.2 .7-4.3 .7 1.4 .7 2.7 .7 1 .6-6.5 .7-3.6 .7 13.9 .7-1.4 .7-.3 .6-4.2 .7 2.6 .7 1.4 .7-7.6 .7 4.7 .6 5.4 .7-3.3 .7 .7 .7-6.3 .7 13.6 .6-7.2 .7-.8 .7-4 .7 4.9 .6-2.9 .7 .1 .7 10 .7-4.4 .7 .4 .6-2.7 .7 5.5 .7-6.5 .7 3 .7-2 .6 9.8 .7-10 .7 .2 .7 6.7 .7-4.4 .6-2.9 .7-5.9 .7 10.7 .7-2.7 .7 3.6 .6-5.2 .7 7.6 .7-2.9 .7-2.8 .7 .5 .6 1.6 .7 .1 .7 1.2 .7-6 .6 3.5 .7 5.3 .7-7 .7-.2 .7-3 .6-1.7 .7 6.6 .7-5.3 .7 4.2 .7-1.2 .6 4.1 .7-1.6 .7 1.3 .7 6.4 .7-6.6 .6 4.8 .7-6.9 .7 10.4 .7-9.8 .7 7.1 .6-3.1 .7-2.4 .7-2.4 .7 5.4 .6-3.5 .7-4.2 .7 4.3 .7-2.4 .7 2.2 .6-6.6 .7 3.3 .7-1.6 .7 5.3 .7 .3 .6 10.3 .7-6.7 .7-.3 .7-7.5 .7 5.2 .6 2.3 .7-2.3 .7 1.2 .7 1.5 .7 .5 .6-8.3 .7-2.1 .7 6.2 .7-1.6 .7-2.1 .6 4.9 .7-2.8 .7 6 .7 2.8 .6-3 .7-8.7 .7 4.6 .7 4.4 .7-6.4 .6-3 .7 8.1 .7-5.8 .7-5.9 .7 9.5 .6-1.8 .7 3.2 .7 5.3 .7-2.9 .7-8.7 .6 1.7 .7 2.6 .7-8.2 .7 8.7 .7-1.8 .6-2.5 .7 5.4 .7 1.3 .7-1.8 .7 2.1 .6-4.5 .7-.4 .7 3.1 .7 5.7 .6-5.7 .7 2.9 .7-3.3 .7-2.8 .7-4.5 .6 .6 .7 10 .7-5.6 .7 2.7 .7-2.9 .6-5.9 .7 3 .7 2 .7 3.2 .7 .9 .6-1.5 .7-3.4 .7-3.6 .7 3.7 .7 2.8 .6-.4 .7-3.1 .7-6.4 .7 1.7 .7 11 .6 1.8 .7-8.7 .7 .3 .7-.8 .6-2.4 .7 7.1 .7-3.8 .7 7 .7-8.6 .6 5.2 .7 .1 .7 3.6 .7-9.3 .7 1.7 .6 1.1 .7 7.4 .7-2.2 .7-6.7 .7 4.5 .6-1.2 .7-.6 .7 2.9 .7-5.6 .7 11.4 .6-13.4 .7 .2 .7 4.1 .7-1.1 .7 3.3 .6-7.2 .7 8.9 .7 1.4 .7-5.8 .6 4.2 .7-.7 .7-7.3 .7 13.5 .7-9.9 .6 6.4 .7-4.5 .7-1.1 .7 .6 .7 6.8 .6-5.9 .7-1.9 .7-5 .7 5.5 .7 6.1 .6-1.5 .7 .5 .7-8.1 .7 1.7 .7 9 .6-4 .7-7 .7 8.2 .7-6.1 .7 4.1 .6-2.1 .7 2.6 .7 5.6 .7-3.8 .6-5.1 .7-5.9 .7 8.2 .7-3 .7 .3 .6 5.9 .7-.3 .7-6 .7 .7 .7 4.6 .6 3.8 .7-4.3 .7-.2 .7-3.7 .7 3 .6-1 .7-5.1 .7 2.9 .7 3.4 .7-5.5 .6 2.1 .7-7.1 .7 11.1 .7-2.9 .7 2.1 .6 2.6 .7-.4 .7-4.3 .7-1.6 .6 4.6 .7-1.8 .7-5.2 .7 5 .7 1.1 .6-4.9 .7 5.1 .7-3.9 .7 3.7 .7-1.8 .6 1.1 .7 1 .7-2.4 .7-6 .7 3.9 .6 2.6 .7-4.8 .7 11.2 .7-7.1 .7 3.2 .6 1.5 .7-2.2 .7-1.4 .7 3.2 .7-4.2 .6 6.1 .7-7.6 .7 0 .7-5.3 .6 4.8 .7 3.7 .7 .6 .7-4.1 .7 .6 .6 6.4 .7 1.2 .7-8.7 .7 1.2 .7 5.5 .6-9 .7 3.9 .7 2.2 .7-.4 .7-2.8 .6 2.4 .7 .2 .7-3.8 .7 6.6 .7-4.5 .6-.1 .7-3.1 .7 2.6 .7-1.6 .7-.5 .6-.9 .7 6.8 .7-1.7 .7-.4 .6-7.4 .7 2.9 .7 2.1 .7-.3 .7 1.8 .6-4.5 .7 5.2 .7-3.2 .7 1.3 .7 4.3 .6-9.2 .7 4 .7 1.9 .7 3.5 .7-5.8 .6 4.7 .7 1.9 .7-8.3 .7 4.4 .7-1.3 .6-1.5 .7-2.3 .7 8.6 .7 2.2 .7-9.7 .6 5 .7-2 .7-2.1 .7-2.4 .6 7.8 .7-.9 .7 5.5 .7-8.2 .7 1 .6-.2 .7-6.1 .7 10.2 .7 4.2 .7-3 .6-7.4 .7 7.8 .7-1.7 .7-5.3 .7 5.6 .6-1.4 .7 1.4 .7-6 .7 4.7 .7-5.3 .6 5.9 .7-4.4 .7 4.1 .7-5.7 .7 15.8 .6-20.6 .7 6.3 .7 5.6 .7-1.6 .6-2.2 .7-1 .7 2.9 .7-6.8 .7 4.7 .6 2.1 .7-2.8 .7-3.2 .7 8.4 .7-2.2 .6-7 .7 2.7 .7 1 .7-6.7 .7 1.2 .6 10.1 .7 .7 .7-6.6 .7-1.8 .7 4.2 .6-3.3 .7 4.9 .7-5.4 .7 7.3 .6-5.3 .7-2.4 .7 4 .7-.8 .7-.1 .6-3 .7 5.9 .7-7 .7 10 .7-12.3 .6 5.4 .7-1.9 .7-1.1 .7 1.9 .7-2.4 .6 2.4 .7 2.1 .7-3.4 .7-1.2 .7 11.1 .6-7 .7 8.2 .7-7.7 .7 .1 .7 .3 .6-4.4 .7 .2 .7 1.1 .7 12.6 .6-14.8 .7 7.5 .7 7.5 .7-10.7 .7 1.8 .6 .5 .7-6.5 .7 6.2 .7 2.3 .7-6.6 .6 6.9 .7-8.8 .7 8.8 .7-6 .7-4.3 .6 3.4 .7 5.9 .7 3.4 .7-3.6 .7 3.5 .6-10.7 .7 1.4 .7 11.6 .7-6.3 .7-3.3 .6-1.6 .7 7.5 .7-4.4 .7 4.4 .6-2.7 .7-5.5 .7 11.4 .7-7.2 .7-2.9 .6 11.6 .7-5.6 .7-8.4 .7 5.4 .7-3.3 .6 1.2 .7-2.6 .7 1.4 .7 3.2 .7 3.6 .6-5.9 .7 6 .7-1.1 .7-.7 .7-.4 .6 3 .7-3.7 .7-4.5 .7 10.2 .7 1.4 .6-5.1 .7-2.4 .7-1.3 .7 .5 .6 1.4 .7-7.5 .7 4.7 .7 2.1 .7-1.9 .6 1.2 .7 1.8 .7-1.7 .7 2.4 .7 .2 .6-6.1 .7 10.6 .7-3.1 .7-.4 .7-4.5 .6 6 .7-4.6 .7-.4 .7-1.2 .7-.6 .6 2.8 .7 2.3 .7-2.1 .7 5.6 .7-9.2 .6 7 .7-2.4 .7 .6 .7-8.3 .6 8.8 .7-1.2 .7-7.5 .7 5.5 .7 3.6 .6-5.7 .7 4.2 .7-4.8 .7-.5 .7 7 .6 1.3 .7-1.7 .7-4 .7-4.9 .7 4.8 .6-.5 .7 4 .7-1.6 .7-.9 .7 7.4 .6-5 .7 .4 .7-1.9 .7-5 .7 4.6 .6-2.4 .7 1 .7 .1 .7 3.3 .6-.9 .7-1 .7 1.8 .7-2.5 .7 4.1 .6-5.8 .7 3 .7 4.6 .7-8.7 .7-3 .6 3 .7 6.6 .7 .5 .7-2.3 .7 1.7 .6-5 .7 5.9 .7-2 .7-2.7 .7 1.9 .6 3.1 .7-4.4 .7 2.6 .7-2.8 .7 .4 .6-.2 .7 4.1 .7-1.1 .7-3 .6 5.4 .7-9.3 .7 4.4 .7-.5 .7 4.4 .6-1.9 .7 .4 .7 3.8 .7-.1 .7-9.7 .6 7.9 .7-4 .7-2.7 .7 4.7 .7-2.6 .6 1.9 .7 .6 .7-4.8 .7 4.6 .7 5.8 .6-1.4 .7-4.8 .7-3.2 .7 5 .7-6.8 .6 10.4 .7-3.9 .7-2.1 .7 1.3 .6 1 .7-5.9 .7 9.8 .7-3.9 .7-1.2 .6 7.4 .7-8.2 .7-.8 .7-.3 .7-2.8 .6 5.8 .7-4.9 .7 2.1 .7 2.5 .7 3.7 .6-8.9 .7 9.5 .7-8.5 .7 2.2 .7-3.3 .6 6.4 .7 2.8 .7-6.5 .7-.9 .7-.7 .6 2.4 .7 1 .7 .1 .7-2.4 .6 5.5 .7-3.8 .7-1.1 .7-4.5 .7 6.5 .6 2.3 .7-8.9 .7 4.6 .7-2.2 .7 5.7 .6 2.8 .7-4 .7-2.8 .7-.8 .7-.7 .6 5.7 .7-2.7 .7 5.9 .7-1.8 .7-2.1 .6-1.3 .7-4.3 .7 2 .7-2.4 .7 10.4 .6-6.7 .7 4.8 .7-7 .7 4.3 .6-2.1 .7-1.7 .7 2.3 .7 3.8 .7-1 .6 1.1 .7-.9 .7-.9 .7-4 .7 9.2 .6-15.7 .7 9.1 .7-.8 .7 2.4 .7-.7 .6-.3 .7 1.5 .7-6.6 .7 4.7 .7-.9 .6 1.6 .7-11.7 .7 11.9 .7-3.8 .7-2.2 .6 7.6 .7 .6 .7-.7 .7-5 .6-.5 .7-1.7 .7 6.4 .7-3.3 .7 1.8 .6-3.2 .7 10.8 .7-15.7 .7 8.7 .7-5.1 .6 5.9 .7-4.1 .7 2.8 .7-.1 .7-7 .6-1 .7 9.5 .7-2.3 .7 3.5 .7-9.2 .6 0 .7 1.9 .7 6.3 .7-4.9 .7 2.2 .6 .3 .7-1.8 .7-2.7 .7-3.2 .6 4.2 .7-2.6 .7 3.4 .7 .8 .7-2.6 .6 1.7 .7 .1 .7-4.7 .7 1.4 .7 2.8 .6 1.2 .7-2.7 .7-.8 .7 3.4 .7 2.2 .6 3.4 .7-12.7 .7 5.7 .7 .7 .7-3.7 .6-2.7 .7 9 .7-8.8 .7 1 .6-1.2 .7 6.6 .7-.9 .7-2.3 .7 .4 .6 1.2 .7-3 .7 1 .7 4.3 .7 2.7 .6-4.9 .7-.3 .7 3.7 .7-.7 .7 1.4 .6-4 .7 5 .7-8.9 .7 3.8 .7-1.7 .6-6.9 .7 6.3 .7 8.1 .7-11.4 .7 3.9 .6 4.5 .7-.4 .7-4.2 .7 .5 .6-8.7 .7 9.7 .7-4.7 .7 .1 .7 4.4 .6-5 .7 1.9 .7-.2 .7-.9 .7-5.3 .6 3.2 .7-5.9 .7 7.4 .7 2 .7-5.4 .6 9.1 .7-13.5 .7-2.1 .7 2.5 .7 1.7 .6 3.6 .7-3.1 .7 4.6 .7-4.4 .7 .6 .6-1.9 .7 5.9 .7-5.4 .7 2.3 .6 1.8 .7-.9 .7-3.2 .7-1.8 .7 13.3 .6-9.3 .7-10.3 .7 1.2 .7 4.9 .7 2.2 .6 2.4 .7-10.1 .7 6.5 .7-3.2 .7 7.8 .6-2.9 .7-11 .7 5.3 .7 1.8 .7 6.2 .6-7.6 .7-.5 .7-2.4 .7 8.6 .7-.8 .6-4.6 .7 0 .7 1.4 .7 .2 .6 1.3 .7-3.8 .7 3.9 .7-3 .7-3.9 .6 5 .7-2 .7-9.3 .7 11.9 .7-2.9 .6-2.9 .7-4.6 .7 1.7 .7-2.3 .7 1.4 .6 5.4 .7-.9 .7-2.1 .7-1.5 .7-5.7 .6 7.3 .7-3.2 .7-2.3 .7 8.9 .7-7.6 .6 .5 .7 1.3 .7 .1 .7 6 .6-3.1 .7-5.9 .7 2 .7-7.1 .7 7 .6-.8 .7-7.3 .7 3.3 .7-4.1 .7 5.7 .6 .5 .7-9.1 .7 1.1 .7 7 .7-1.9 .6-12.6 .7 7.2 .7-9.4 .7 8.4 .7-.1 .6-2.7 .7-4.2 .7 4.8 .7 .2 .7-.6 .6 .1 .7-4.2 .7-5.1 .7 3 .6 3.7 .7-2.1 .7 1 .7-3.5 .7 4.8 .6-10 .7 1.7 .7 1.6 .7-2.4 .7-1.1 .6-1.8 .7-.7 .7-6.5 .7 1.5 .7 10.8 .6-10.7 .7-9.2 .7 10.8 .7-5.3 .7 2.2 .6 4 .7-13.3 .7 .9 .7 11.4 .7-9.6 .6-4.7 .7-1.7 .7 7.8 .7-10.7 .6 1 .7 5.6 .7-6.4 .7-5.5 .7-2.9 .6 3.7 .7-8.5 .7 4.8 .7-3.1 .7-3.6 .6 6.6 .7-6.2 .7 4.2 .7 .2 .7-5.6 .6-1.1 .7-4.8 .7-4.5 .7 1.3 .7 1.3 .6-6 .7 4.2 .7-6.1 .7-7.7 .7 4.8 .6 8.2 .7 .2 .7-18.1 .7-2.3 .6 3.6 .7-7.3 .7 1.7 .7-3.6 .7 7.2 .6-12.1 .7-5.3 .7 .2 .7 5.7 .7-2.4 .6-5.7 .7 6.5 .7-7.8 .7 9 .7-14 .6-.6 .7-2.1 .7 4 .7 7.9 .7-8.6 .6-.6 .7 1.5 .7-1.3 .7-12 .7 8.4 .6-4.1 .7 .5 .7 7.8 .7-5.5 .6 3.2 .7-6.3 .7 9.2 .7 2.1 .7-5.9 .6-1.8 .7 4.8 .7 .2 .7-2.6 .7 1.5 .6 2.1 .7-5.7 .7 4.5 .7-3.2 .7 2.9 .6 9.5 .7-4 .7-5 .7 5.1 .7-6.7 .6 10.2 .7 2.9 .7 7.3 .7 3.8 .7-1.2 .6-14.3 .7 18.7 .7-14.9 .7 5.1 .6 16.9 .7-5.8 .7-7.8 .7 1.3 .7 4.2 .6 3.9 .7-1.8 .7 4.9 .7 13.4 .7-3.7 .6 6.2 .7-4.6 .7-7.3 .7 15.1 .7 5.7 .6-8.8 .7 15.5 .7-8.6 .7 .1 .7-4.3 .6 7.3 .7-5 .7 13.3 .7-3.3 .7 8.9 .6-4.7 .7-1.9 .7 11.3 .7-1.2 .6 1.8 .7-5 .7 8.9 .7 3.2 .7 1.9 .6 12 .7-7.7 .7-2 .7 5.8 .7 1.1 .6-.1 .7-1.5 .7 4.6 .7 1.9 .7 1.3 .6 6.6 .7 2.2 .7 3.6 .7-6.1 .7 6.9 .6-5.2 .7 7.3 .7-1.5 .7-3.2 .6-3.8 .7 8.9 .7 11.1 .7-5.7 .7-2 .6 .5 .7 7 .7 9.3 .7-9.7 .7 3.5 .6 2.9 .7 2.9 .7-5.6 .7 8.4 .7-3.8 .6-.4 .7 1.4 .7-.4 .7-4.5 .7 .3 .6 7.5 .7 2.8 .7 2 .7 .5 .7-.2 .6-5 .7 1.6 .7 5.9 .7-.6 .6-6.2 .7 11.2 .7-7.4 .7-3.3 .7 8.8 .6-4.7 .7 .9 .7 1.7 .7 4.8 .7-3.3 .6 4.4 .7-.5 .7-7.6 .7 6.1 .7 4.5 .6-8.1 .7-1.2 .7-1.9 .7 4 .7 1.3 .6 9.7 .7-10.9 .7 5.4 .7-2 .7-3.2 .6 1 .7 1.1 .7-3.7 .7-1.6 .6 7.5 .7 .5 .7-13.6 .7 7.7 .7 3.2 .6 2.4 .7-4.5 .7-4.8 .7 8.3 .7-4.6 .6 5.7 .7-7.3 .7 2.6 .7-5.3 .7 3.5 .6 1.1 .7 2.8 .7 .3 .7-2.1 .7-3.7 .6 1.5 .7-1 .7 0 .7-2.7 .7-3.2 .6 4.7 .7-2.5 .7 9.9 .7-.9 .6-3.9 .7-5.5 .7 5.3 .7-.3 .7-6.9 .6 2.1 .7-.2 .7 1.4 .7-5.3 .7 1 .6 .3 .7 3.1 .7 .3 .7-10.9 .7 7.4 .6-.8 .7 .5 .7 .9 .7-.9 .7-6.1 .6 7.8 .7-13.8 .7 10.5 .7 .8 .7 .3 .6-8.5 .7-12.6 .7 7.4 .7-.3 .6 3.4 .7-4.6 .7 1 .7-.6 .7-1.4 .6-6 .7-1 .7-.5 .7 5.6 .7-5.4 .6 .8 .7 9.2 .7-4.6 .7-7.4 .7 2.4 .6-4.6 .7 2.6 .7-.1 .7 2.1 .7 3.9 .6-12.1 .7 5 .7-2.2 .7 2.2 .7-7.5 .6 3.7 .7 .5 .7-.8 .7-.8 .6-2.8 .7-2.3 .7 11.7 .7-7.7 .7-3.3 .6-5.9 .7 .5 .7 4.9 .7 1.1 .7-4.4 .6 3.3 .7-6.9 .7-4.9 .7 1.8 .7 .4 .6 6.7 .7 4.9 .7-2.2 .7-8.7 .7-6.3 .6 2.9 .7 3 .7 4.7 .7-5.3 .7 4.8 .6 2.7 .7-2.3 .7 .7 .7-10.7 .6 9.6 .7-7 .7 3.6 .7 .9 .7-1.3 .6 .5 .7-7 .7 13.3 .7-2.1 .7-2.9 .6-3 .7 10.6 .7-3.1 .7-6.2 .7 6.4 .6 1.1 .7 1 .7 2.2 .7-5.7 .7 8.8 .6-5.6 .7 1.4 .7 7.8 .7-6.7 .7-.4 .6-3 .7 6 .7 3 .7-.4 .6 7.2 .7-8.5 .7 2.4 .7 8.7 .7 3.7 .6-.8 .7-3 .7 1.8 .7-5.9 .7 4.8 .6 3.7 .7-3.1 .7 3.1 .7 4.1 .7 1.9 .6-1 .7-5.3 .7 2.8 .7-3.3 .7 10 .6-2.3 .7 5.2 .7 1.8 .7 1.3 .7 5.1 .6-10.4 .7 5.8 .7 4.9 .7 1.1 .6-3.4 .7-.1 .7 .6 .7 5.7 .7 1.4 .6 2.7 .7-6.9 .7 2.6 .7-4.5 .7 7 .6-1.4 .7 3.6 .7 4.3 .7-8.4 .7 9.9 .6-7.3 .7-.8 .7 8.3 .7-1.3"/>
<path stroke="#1A6FDF" stroke-width="3.4" d="M331.7 957l.7 84.5 .7 69.9 .7 63.2 .7 38.6 .6 25 .7 30.5 .7 10.6 .7 43.7 .7-19.2 .6 14.7 .7 39.1 .7 .5 .7 11.7 .7 6.5 .6-.7 .7 13 .7 5.6 .7-9.7 .6-.4 .7 3.1 .7 .8 .7 21.2 .7 6 .6-9.8 .7 29.7 .7 13.5 .7 23 .7-4.8 .6 20.1 .7-13.5 .7-1 .7 7.9 .7 13 .6 2.1 .7 14.2 .7-3.9 .7 4.1 .7 5.5 .6 21.5 .7-15.7 .7 2.3 .7 11.3 .6-4.3 .7 .8 .7 28.1 .7-22.7 .7 11.8 .6 6.7 .7-5.7 .7 8.2 .7 .3 .7 5.4 .6 0 .7 5.2 .7-2 .7 4.8 .7 3.3 .6-12.9 .7 7.8 .7-.8 .7-6.2 .7 7.8 .6 5.4 .7 8 .7-9.7 .7 3.3 .7-1.8 .6 8.1 .7 2.7 .7 11.3 .7-14 .6 13.3 .7-4.7 .7-4.4 .7 3.6 .7 2.5 .6-2.3 .7 13.7 .7-9.1 .7-5.7 .7-1 .6 18.8 .7-12.5 .7 4.1 .7 9 .7 3.3 .6-5.4 .7-7.2 .7 6.2 .7 9 .7-4.5 .6-3.9 .7 7.3 .7 3.1 .7-3.8 .7 20 .6-18.7 .7 11.6 .7-5.9 .7-1.5 .6 3.6 .7 4 .7-1 .7-5.5 .7 12.3 .6-1.6 .7-5.5 .7-3.5 .7 6.7 .7 3.4 .6-5.7 .7 6.3 .7-16.7 .7 8.9 .7-6.7 .6 19.4 .7-2.2 .7 0 .7 4.5 .7-3.4 .6-7.3 .7 10.4 .7-3.5 .7-8.9 .7 6.3 .6-1.8 .7 3.7 .7 3.5 .7-1.2 .6-3 .7 4.4 .7-3.1 .7 2.6 .7-1.8 .6-12 .7 8.4 .7 9.8 .7-5.7 .7-10.5 .6-4 .7 22.2 .7-11.1 .7 2.2 .7 12.9 .6-14.5 .7-8.7 .7 13.8 .7-2.1 .7-6.5 .6 7.1 .7-.1 .7-3.8 .7 8.7 .7-10 .6 9.2 .7-7.2 .7-4.1 .7-4.4 .6 12.3 .7-5.4 .7-.2 .7 10.3 .7-8.9 .6-1.9 .7-1.8 .7-7.5 .7 9.3 .7 .6 .6-.1 .7-.7 .7-2.8 .7-9.5 .7 16.8 .6-5.9 .7 12.2 .7-4 .7-9.7 .7 11.4 .6-12.9 .7-5.2 .7 10.9 .7-1 .7-4 .6 2.6 .7-2.6 .7 5 .7-10 .6 2.7 .7 2.1 .7 10.9 .7-8.1 .7-4 .6-5 .7 8.4 .7-6.6 .7-1.4 .7 7.4 .6-7 .7 4.6 .7 4.7 .7-5.5 .7-7.1 .6 4.6 .7 1.8 .7-17.9 .7-16.4 .7 12.1 .6 31.5 .7 3.5 .7-4.8 .7-20.7 .7 8.6 .6 11.6 .7-12.2 .7 11.3 .7-8.3 .6-3.9 .7 5.3 .7-4.9 .7-.4 .7 13.1 .6-8.3 .7-3 .7 5.1 .7 4.3 .7-14.6 .6 6.1 .7 4.2 .7 1.5 .7-3.9 .7-6.9 .6 8.5 .7-5.3 .7 1 .7 2.5 .7-1.3 .6-.4 .7 5.1 .7 2.4 .7-11 .7-3.9 .6 3.3 .7 8.2 .7-4.5 .7 2.8 .6 4.3 .7-2 .7-2.4 .7-5.7 .7 8.5 .6-11.6 .7 5.6 .7-6 .7-1.1 .7 6.1 .6 .3 .7-1.1 .7 0 .7-2.1 .7-5.8 .6 6.1 .7-4.9 .7 3.1 .7 6.7 .7-4.5 .6-.7 .7-1.2 .7 6.4 .7-7.5 .7 8.5 .6-2.1 .7-4.3 .7 2.5 .7 5.2 .6 2.1 .7-3.9 .7 .9 .7-14.5 .7 16.3 .6 5.3 .7-22 .7 19.8 .7-5.5 .7-5.6 .6 2.4 .7-1.5 .7-6.3 .7-4.1 .7 10.8 .6-.8 .7 3.5 .7 1.1 .7-.4 .7-3.4 .6 3.6 .7-3.9 .7 5.2 .7 1.9 .7-3.8 .6-.4 .7 1.3 .7-.4 .7-4.9 .6 9.4 .7-11.4 .7 7.8 .7-1.7 .7-7.8 .6 1.6 .7 14.1 .7-11.1 .7-5.2 .7 11.8 .6-2.6 .7-9.2 .7 13.4 .7-15.6 .7 15.8 .6-3.1 .7-.9 .7-.6 .7-6.2 .7 1.8 .6 1.2 .7-.2 .7 9.4 .7-5.1 .7-8.8 .6 11.7 .7-16.2 .7 10.9 .7 4.4 .6-9.3 .7 .1 .7 7.3 .7-.5 .7 1.4 .6-1.2 .7 8.7 .7-8.4 .7-10.1 .7 9.1 .6-4.6 .7-2.3 .7 3.4 .7 3.3 .7 .3 .6 0 .7-4.6 .7 3.6 .7-5.8 .7-5.4 .6 6.5 .7 9.9 .7-9.2 .7 2.8 .7 1 .6 1.6 .7-2.5 .7-18 .7 .4 .6 7 .7 13.6 .7-5.6 .7-4.8 .7 7.2 .6-5 .7-2.6 .7-5.8 .7 9.1 .7 .5 .6 2.9 .7 .4 .7-2.5 .7 1.8 .7-5.2 .6 2.3 .7 2.7 .7-8.9 .7 9.3 .7-4.9 .6 .5 .7 5.6 .7-3.1 .7-1.3 .6 4.1 .7 3.8 .7-20.5 .7 18.7 .7-2.4 .6-1.4 .7-1.4 .7-6.2 .7 1.9 .7 7.2 .6-4.9 .7-1.7 .7 4.4 .7-6.7 .7 4 .6-3.1 .7 10.1 .7-14.5 .7 10 .7 4.3 .6-.6 .7-.5 .7-5.6 .7 13.4 .7-6.5 .6-10.5 .7-.6 .7 12 .7-6.1 .6-.2 .7 2.5 .7 1.9 .7-8.9 .7 7.8 .6-2.2 .7-2.8 .7 9.1 .7 .1 .7-15.8 .6 16.8 .7-10.6 .7 0 .7 5.7 .7 2.4 .6-.9 .7 3.6 .7-3.8 .7 1.7 .7 2.9 .6-1.7 .7-5.8 .7 4.4 .7 1.4 .7-10.6 .6 10 .7-3.1 .7 7.8 .7 1.1 .6-7.5 .7-2.2 .7 20 .7-18.1 .7-.3 .6 4 .7-2.8 .7 8.7 .7-6.9 .7 7.7 .6-4.1 .7 1 .7-2.5 .7 7.7 .7-7.8 .6-.2 .7-3.7 .7 10 .7-6.4 .7 5.9 .6-5.7 .7 5.9 .7 2.2 .7-2.2 .7-10.6 .6 .5 .7 6.9 .7-.2 .7-1.3 .6 9.2 .7-17.2 .7 14.5 .7 1.3 .7-5.1 .6 3.9 .7-7.1 .7-1 .7 4.8 .7-2.4 .6 3.7 .7 5.4 .7-2.2 .7-16.1 .7 10.4 .6 8.5 .7-3.6 .7-1.4 .7-7.9 .7 3.1 .6-9.9 .7 .9 .7 6.3 .7 .3 .7-3.5 .6 8.1 .7-.7 .7 6.8 .7-12.2 .6 8.2 .7-5.8 .7-10.6 .7 18.6 .7-4.3 .6 2.6 .7 .6 .7-9.3 .7 11.6 .7-9.6 .6 1 .7-4.9 .7 14.1 .7-2.6 .7-11.2 .6 14 .7-10 .7-7.3 .7 15.7 .7-2.3 .6-9.8 .7 10.7 .7-10.5 .7-1.8 .7 5.6 .6 .6 .7-.2 .7 3 .7-7.4 .6 .4 .7 3.6 .7-1.6 .7 8.4 .7-2.2 .6 5.9 .7-7.9 .7-7.3 .7 2.5 .7 4.3 .6-.6 .7 0 .7-9.6 .7 13.3 .7-12.1 .6 3.4 .7 10 .7-10.6 .7-.7 .7 5.6 .6-11.1 .7 13 .7-2.2 .7-3.1 .7-1.6 .6 3.4 .7-5.5 .7 7.6 .7-5.7 .6 3.2 .7-.9 .7 7.4 .7-6.8 .7 7 .6-.4 .7-6.5 .7-5 .7 11.8 .7-10.2 .6-8.9 .7 8.4 .7-1.6 .7 5 .7 8.9 .6-7.7 .7-2.5 .7 5.9 .7-6.6 .7 4.6 .6-8.1 .7 3.7 .7-.8 .7-.8 .7 2.7 .6-8.9 .7 13.6 .7-1.5 .7-4 .6-1.2 .7 7.5 .7-11.8 .7 6 .7-4.4 .6 6.1 .7-.4 .7-4.1 .7 3.6 .7 2.7 .6-6.6 .7-2.4 .7 5 .7-3.4 .7 6.1 .6-6.1 .7 6.3 .7-6 .7 6.7 .7-6.4 .6-3.8 .7 4.4 .7 8.7 .7-15.6 .7 10.5 .6 7.8 .7-20.4 .7 12.4 .7-8 .6 3.5 .7-8.5 .7 1.5 .7 21 .7-16.1 .6 8.4 .7-5 .7 1.2 .7-.2 .7 4.6 .6-9.5 .7-1 .7 0 .7-5.5 .7 10.4 .6 3.6 .7-5.1 .7 13.3 .7-10.7 .7 4 .6-.6 .7 .9 .7-.4 .7-7.6 .7 10 .6-3.6 .7-5.4 .7 1.7 .7-8.1 .6 6.2 .7-9.8 .7 5.8 .7 9.6 .7-4.6 .6-8.8 .7 14.6 .7-1.9 .7 4.4 .7-8.9 .6-5.4 .7-1 .7 6.6 .7 5.8 .7-8.2 .6 2.1 .7-5 .7 2.8 .7-5 .7 9 .6-3 .7 .5 .7 1.6 .7-4.7 .7 11 .6-1 .7 11 .7-19.1 .7-3.8 .6 1.8 .7-6.1 .7 7.5 .7 5.1 .7-6.4 .6 .7 .7-.1 .7-4.7 .7 9.9 .7-.3 .6-3.9 .7-6.5 .7 10 .7-10.8 .7-.2 .6 8.8 .7 1.2 .7-2.8 .7 7.4 .7-15.8 .6 6.9 .7-4.8 .7 8.8 .7-4.3 .6 1.8 .7-9.2 .7 13.7 .7-11.7 .7 5.9 .6 .4 .7 8.6 .7-8.2 .7 1.4 .7-5.2 .6 5.5 .7 .6 .7-8 .7 3.1 .7 3.8 .6-3.8 .7-1.4 .7 3.6 .7-.5 .7-8.4 .6 8 .7 10.8 .7-15.5 .7-2.6 .7 1.4 .6 .3 .7 15.2 .7-6 .7-5.1 .6-.5 .7 .8 .7 6.3 .7-3.2 .7-1.8 .6-6.9 .7-6.3 .7 18.9 .7-8.7 .7 5 .6-9.9 .7 3.5 .7-2.1 .7 2.4 .7 5.6 .6-1.9 .7-2.3 .7-6.5 .7-5.7 .7 4.6 .6 6.3 .7-9.5 .7 6.1 .7 1.4 .7-.4 .6 5.1 .7 2.6 .7-4.1 .7-2.8 .6-2.2 .7 7.2 .7-5.5 .7 8 .7-16.1 .6 9.5 .7 2.3 .7-9 .7 3.2 .7 5.4 .6-14.5 .7 13.2 .7-6.8 .7 5.1 .7-7.1 .6-.2 .7 7.5 .7 0 .7-9.9 .7 4.7 .6-3.6 .7 2.8 .7-4 .7 1 .7 6.9 .6-10.8 .7 8.4 .7-1 .7-.9 .6-5.1 .7 10.3 .7-4.2 .7 .8 .7 .7 .6 4.3 .7 8.8 .7-10 .7-8.7 .7 5.9 .6 2 .7-.7 .7-5.1 .7 5.6 .7 1.3 .6-3.6 .7-2.4 .7 4 .7 1.3 .7 10.1 .6 .2 .7-7.8 .7 3.5 .7 .4 .7-3.9 .6-1.4 .7-10 .7 19.3 .7-5 .6-10 .7 16.2 .7-6.1 .7 9 .7-13.5 .6 13 .7-5.9 .7-.5 .7 6.7 .7 5.4 .6-2.6 .7-4.4 .7-1.6 .7-.9 .7 8.4 .6-10.8 .7 4.6 .7 2.5 .7 3.3 .7 1.9 .6 6.1 .7-7.7 .7-2.1 .7-10.8 .7 7.2 .6 9.4 .7-8.6 .7 8.5 .7-15.3 .6-2.4 .7 10.8 .7 4.5 .7-9.1 .7 4.5 .6-.3 .7 1.3 .7 4.6 .7-7.8 .7-1.3 .6 5 .7 2.6 .7 .2 .7-5.1 .7-3.7 .6 8.5 .7 4.6 .7-7.8 .7 3.4 .7-2.4 .6-8.4 .7 2.7 .7 15.9 .7-2.9 .7-6.6 .6 8.3 .7 1.4 .7-7.5 .7 1.5 .6-1.8 .7-3.2 .7 5.1 .7-2.2 .7-.3 .6-5.6 .7 14.4 .7-11.6 .7 11.1 .7-1.8 .6-9.2 .7-.2 .7 .6 .7 1.9 .7-.7 .6 3.9 .7-4.5 .7-5.7 .7 16.4 .7-8.7 .6 2.3 .7 3.9 .7-6.1 .7-.9 .7 12.7 .6-2.6 .7-10.7 .7 .8 .7-7.8 .6 8.5 .7-7.8 .7 7.7 .7 3.5 .7-6.8 .6 2.8 .7-1.3 .7 11.3 .7-13.9 .7 2.4 .6-1.7 .7-1 .7-6 .7 8.2 .7 .6 .6-5.6 .7-1 .7 3.8 .7 2.9 .7 .8 .6 .7 .7 .3 .7-9.3 .7 8.1 .7-5.3 .6 6.7 .7-8.5 .7 4.8 .7-7 .6 3.6 .7 1 .7 6 .7-2 .7-.8 .6-.8 .7 2.4 .7-6.3 .7-.4 .7 4.1 .6-9 .7 7.5 .7 10 .7-9 .7-1.6 .6 1.8 .7-2.9 .7 5.6 .7-3.8 .7 0 .6-2.5 .7 5 .7-.3 .7-3.1 .7-1.8 .6 2.6 .7-.1 .7 4.2 .7-12.9 .6 11.8 .7-17.8 .7 13.3 .7-7.4 .7 8.3 .6-5.6 .7 2.2 .7 2.2 .7 4.2 .7-3.9 .6 4.4 .7-14 .7 11.4 .7-13.2 .7 9.2 .6 7.1 .7-17.8 .7 3.7 .7 6.9 .7 .7 .6 0 .7-10.5 .7 13.7 .7-4.3 .7-9.9 .6-2.6 .7 12.2 .7-.8 .7 1 .6-8.4 .7 8.1 .7-3 .7-3.6 .7-1.2 .6-1 .7 7.4 .7-4.8 .7-1.4 .7-2.6 .6-3.4 .7 2.2 .7 7.8 .7-5 .7 6.1 .6-12.5 .7 7.4 .7-.6 .7-2.5 .7 3.8 .6-6.4 .7-.5 .7 2.1 .7 .6 .7 16 .6-14.5 .7-4.9 .7 .8 .7 18.4 .6-20.9 .7-1.8 .7 7.8 .7 .8 .7-5.3 .6 5.2 .7-.3 .7 1.1 .7-15.9 .7 8.2 .6 3 .7 2.1 .7-9.2 .7 4.8 .7-1 .6-1.4 .7 .7 .7-4.3 .7-3.9 .7 11.4 .6-2.2 .7-7.5 .7 6 .7-4.7 .6-8.2 .7 4.1 .7-3.5 .7-1 .7-.3 .6 3.6 .7-6.9 .7 10.1 .7-.6 .7-6.7 .6 6.8 .7-5.5 .7 2.6 .7-8.6 .7 1.8 .6-3.3 .7 7.5 .7 6 .7-15.9 .7-2.9 .6 12 .7 3.3 .7 .5 .7-16.1 .7 11.9 .6-8.4 .7-.7 .7 3.7 .7-2.6 .6 .7 .7-7.4 .7-4 .7-.3 .7 14 .6-1.8 .7-4.8 .7-5.5 .7-2.5 .7 14.3 .6-12.6 .7-4.8 .7 3.6 .7 0 .7 8.3 .6-18.6 .7 4.4 .7 3.8 .7-.2 .7-8 .6-3.2 .7 7 .7 5.3 .7-11 .7 5.8 .6-4.1 .7-.1 .7 3.6 .7-14.2 .6 13 .7-15.6 .7 11.6 .7-4.5 .7-2.2 .6-3.4 .7 6.9 .7-16.9 .7 10.1 .7-11.4 .6 3.3 .7 3.9 .7 3 .7-7.9 .7-2.2 .6 7.1 .7-4.9 .7-5.7 .7-3.4 .7 5.7 .6-.7 .7 4.6 .7 2.6 .7-16.9 .7 3 .6 1.8 .7-9.9 .7 .9 .7 13.9 .6 2.6 .7-15.3 .7 2.7 .7-10 .7 11.5 .6-14 .7-.6 .7 10.4 .7-20.8 .7 16.2 .6-6.5 .7 3.4 .7-2.8 .7 1.8 .7-.5 .6-11.6 .7 12.6 .7-10.6 .7-2.3 .7-1.8 .6-1 .7-13.6 .7 10.5 .7-.5 .7 2.3 .6-14.5 .7-1.2 .7 12.7 .7-1 .6-1.6 .7-14.3 .7 3.2 .7-4.9 .7 9.3 .6-7.6 .7-2.1 .7-8.7 .7 10.7 .7 10.3 .6-17.4 .7-10.9 .7-6.5 .7 24.1 .7-19.6 .6-4 .7 2 .7 3.7 .7-9.7 .7 1.4 .6-13.1 .7 12.6 .7-19.2 .7 10.4 .7 1.4 .6-13.7 .7 4.6 .7-8.6 .7-.5 .6 4.4 .7-4.2 .7-25.5 .7 25.9 .7-14.1 .6-12.9 .7 4.6 .7-7.6 .7 12.2 .7-15.8 .6-6 .7 17.2 .7-19.8 .7 3.1 .7-2.6 .6-15.3 .7-.7 .7-12.1 .7 2.5 .7 12.4 .6-14 .7-12.4 .7-8.2 .7 5.2 .7-14.3 .6 3.9 .7-20.6 .7 1.6 .7-7.2 .6 17.4 .7-27.5 .7-7.6 .7 .5 .7-8.5 .6-17.2 .7 3 .7-14 .7-1.7 .7-15.8 .6-.6 .7-8.6 .7-13.6 .7-4.1 .7-9.3 .6-15.8 .7-6.5 .7-16.8 .7-5.2 .7-15.3 .6-1.1 .7-16.1 .7-15.3 .7-8.1 .7-5.6 .6-13.3 .7-12.5 .7-16.2 .7-5 .6-21.4 .7-10.5 .7-9.8 .7-18.4 .7-4.5 .6-23.5 .7-9.2 .7-17.4 .7-5.2 .7-20.1 .6-12.1 .7-18.7 .7-4.5 .7-24.3 .7-10.7 .6-17.6 .7-10.1 .7-13.4 .7-14 .7-18.1 .6-12.1 .7-6.1 .7-14.6 .7-17.8 .7-4.9 .6-19.6 .7-6.4 .7-18.8 .7-8.7 .6-10.5 .7-6.1 .7-15 .7-2.3 .7-13.8 .6 3 .7-13 .7-1.9 .7-11.4 .7-2.8 .6-2.9 .7 4.5 .7-3.8 .7 4.4 .7-.4 .6-6.8 .7 12.5 .7-3.5 .7 1.6 .7 6.2 .6 4.4 .7 16.7 .7-2.5 .7 8.2 .7 18.3 .6 5.1 .7 11.3 .7 12.8 .7 4.6 .6 18.8 .7 7.2 .7 11.7 .7 20.3 .7 13.3 .6 9.6 .7 7.6 .7 19.1 .7 12.7 .7 20.4 .6 4.3 .7 18.1 .7 12 .7 12.9 .7 16.5 .6 19.6 .7 15.2 .7 5.5 .7 24 .7 3.8 .6 13.7 .7 20.1 .7 13 .7 8 .7 13.3 .6 13.3 .7 10.5 .7 18.2 .7 6.3 .6 11.9 .7 14.4 .7 15.8 .7 4 .7 16.4 .6 5.3 .7 20.5 .7 3 .7 17.2 .7 9.8 .6 9.6 .7 4.6 .7 5 .7 7.7 .7 15.5 .6 11.5 .7 8.2 .7 1.2 .7 12.2 .7 11 .6-6.1 .7 7.9 .7 .7 .7 7.5 .7 6.1 .6 17.9 .7 14.6 .7 5.2 .7 .5 .6 1.5 .7 21.1 .7-5.9 .7 .6 .7-4.1 .6 19.1 .7 4.8 .7 5 .7-8.7 .7 28.1 .6-18.1 .7 26.8 .7-8.1 .7-7.4 .7 15.3 .6-.3 .7 13.5 .7 5.1 .7-19.8 .7 15.5 .6-.8 .7 7.6 .7 .1 .7 1.2 .6-.2 .7 12.9 .7-1.5 .7-3.9 .7 6 .6-.2 .7 6 .7-4 .7 6 .7 14.1 .6-6.4 .7-9.1 .7-13.7 .7 25.2 .7 15.3 .6-22.7 .7-10.7 .7 22.2 .7-2.4 .7 1.2 .6-10.3 .7 23.4 .7-18.4 .7 5.8 .7 1.2 .6 1.6 .7-5.5 .7-1.9 .7 16.7 .6-7.3 .7-7.1 .7 14.5 .7-15.1 .7 .6 .6 6 .7 10 .7-3.7 .7-3.3 .7-6.5 .6 2.6 .7-.1 .7-5.6 .7 5 .7 .6 .6-1.9 .7-2.7 .7 4.8 .7 2.1 .7-4.3 .6-3.9 .7 10.9 .7-9.2 .7 .7 .7 4.5 .6-17.8 .7 8.8 .7 12.3 .7-25.9 .6 4.2 .7 20.6 .7-24.7 .7-1.7 .7 2.8 .6-7.7 .7 8.2 .7-13 .7 12.7 .7-10.2 .6 .8 .7-4.5 .7-.1 .7 4 .7-11.7 .6 1.8 .7-7.5 .7 10.2 .7-18.9 .7 12.9 .6-3 .7-8.1 .7-16 .7 4.2 .7-2 .6-7.1 .7 4.2 .7-9.2 .7-8.8 .6 1.5 .7 5.1 .7-27 .7 7.2 .7 8.1 .6-10.8 .7-37.3 .7 18.6 .7 4.4 .7-.2 .6-8.1 .7-16.5 .7-13.8 .7-4.7 .7-3 .6-8.1 .7-6 .7-5.4 .7-14 .7-.2 .6-12.4 .7-.5 .7-8.7 .7-16.2 .7-5.9 .6-5.5 .7-19.5 .7-10.1 .7-5.3 .6-11.6 .7-6 .7-10.7 .7-14.8 .7-8.8 .6-15.5 .7-11.3 .7-11.5 .7-15 .7-18.4 .6-3.3 .7-17.5 .7-18.6 .7-9.9 .7-11.6 .6-11.6 .7-10.1 .7-13.8 .7-20 .7-6.7 .6-19 .7-11.4 .7-8.7 .7-12.9 .7-4.5 .6-14.3 .7-1.6 .7-12.7 .7-3.7 .6-5 .7-.9 .7-7.2 .7 2.5 .7-8.7 .6 4.3 .7-1.4 .7 6.9 .7 1.7 .7 3.7 .6 7.7 .7 3.2 .7 11.1 .7 5.7 .7 2 .6 16.1 .7 9.4 .7 5 .7 6.2 .7 19 .6 10.3 .7 12.6 .7 8 .7 21.9 .7 9.8 .6 14.3 .7 9 .7 19.4 .7 17.8 .6 17.7 .7 15.7 .7 15.7 .7 15.8 .7 15.6 .6 12.1 .7 19.8 .7 9.2 .7 19.9 .7 13.7 .6 10.8 .7 23.1 .7 11.2 .7 8.8 .7 29.4 .6 12.4 .7 9.7 .7 14.5 .7 11.8 .7 13.6 .6 9.5 .7 21.2 .7 15.4 .7 5.1 .7 7.1 .6 22.4 .7 2.2 .7 12.2 .7 11.8 .6 9.8 .7 4.6 .7 9.8 .7 7.7 .7 13.7 .6 4.6 .7 6.7 .7 8.4 .7 13.1 .7-5.2 .6 6.8 .7 11.9 .7-4.2 .7 19.3 .7 0 .6 9.9 .7 8.8 .7-5.1 .7 6.6 .7 1.7 .6-1.7 .7 1.6 .7 8.3 .7 2 .7 1 .6 5.2 .7 7 .7-3.5 .7 3.7 .6-7.4 .7 14.4 .7-7.8 .7 3.6 .7 7.6 .6-7.3 .7 2.6 .7 .4 .7 1.6 .7 6.4 .6 7.3 .7-11.2 .7 5.1 .7 10 .7 .8 .6-1.9 .7-.7 .7 2.1 .7 1.7 .7-.3 .6-4 .7-.8 .7 5.5 .7-4.6 .7 7.3 .6 4 .7-8.2 .7 2.8 .7 1.3 .6-1.7 .7-4.2 .7-.9 .7 5 .7 .6 .6-5.2 .7 4 .7 3.1 .7 1.6 .7-.5 .6-.1 .7-.2 .7 3.2 .7-9.5 .7-7.2 .6 13.1 .7 3.6 .7-5.7 .7 11.9 .7-4.6 .6-2.8 .7-4.3 .7-1.2 .7 3.9 .7-3 .6 6.5 .7-.2 .7-1.5 .7-3.8 .6 3.2 .7-4.3 .7 8.2 .7-5.3 .7-1.9 .6 6.4 .7-7 .7 4.7 .7 2.4 .7-5 .6 4.1 .7-4.3 .7 10.7 .7-7.5 .7-3.4 .6 12.9 .7-16.1 .7 8.5 .7-6.9 .7 7 .6-4.7 .7 .5 .7 1.2 .7 7.8 .7-8.1 .6 8.8 .7-7.4 .7 .4 .7 1.9 .6-.8 .7 3.5 .7-10.3 .7 7.3 .7-5 .6-3.4 .7 4.3 .7-1.4 .7 8.6 .7 1 .6-7.1 .7 7.2 .7-9 .7 5.7 .7-8.3 .6 6.3 .7-.1 .7-7.3 .7 4.4 .7-.5 .6 .4 .7 6.6 .7 4.9 .7-14.1 .6 9.3 .7-2.1 .7 4.5 .7-7.4 .7 9.7 .6-6.8 .7-2.9 .7-.9 .7 0 .7 5.1 .6-3.9 .7 5.7 .7-5.8 .7-2.3 .7 5.3 .6-4.7 .7 3.1 .7 2.3 .7-2.1 .7 1.6 .6 .3 .7 .2 .7-10 .7 11.2 .7-2 .6-4.4 .7 7.1 .7-1.9 .7-3.3 .6 4.4 .7-1.5 .7 2.2 .7-.3 .7 1 .6 6.9 .7-12.4 .7 3.3 .7 1.4 .7 2.6 .6-2 .7-.6 .7 7.1 .7-12.8 .7 4.9 .6 5 .7-4.4 .7-.6 .7-2.4 .7 2.9 .6-5 .7 6.2 .7-5.1 .7 5.4 .7-1.6 .6-3.8 .7 1.1 .7 2.1 .7-2.5 .6 3.4 .7 2.1 .7-7.5 .7 3.9 .7 7.7 .6-8.2 .7 1.6 .7-5.5 .7 4.3 .7-4.5 .6 1.6 .7 10.1 .7-14.3 .7 5.4 .7-.9 .6-3.4 .7 8.2 .7-2 .7 5.4 .7-10.4 .6 1.4 .7-.7 .7 10.7 .7 1.2 .7-9.9 .6-5.4 .7 4.9 .7 2.6 .7-.1 .6 5.4 .7-9.6 .7 5.4 .7 .6 .7-1.1 .6 2.1 .7 2.6 .7-3 .7-3 .7 4.3 .6-1.5 .7-6.3 .7 .6 .7 3.8 .7-.8 .6-9 .7 18.5 .7-20 .7 8.5 .7 4.2 .6 1.9 .7 .3 .7-.7 .7-1.9 .7-5.9 .6 1.9 .7 3.1 .7-5.5 .7 7.9 .6-5.6 .7 3.6 .7-4.7 .7 8.7 .7-1.8 .6-8.3 .7 6.6 .7-3.5 .7 .7 .7-.6 .6 12.2 .7-4.3 .7 3.1 .7-8 .7 8.1 .6-10.8 .7 7.2 .7 1.5 .7-8 .7-4.3 .6 4.8 .7 3.2 .7-7.3 .7 6.6 .7 .9 .6 1.8 .7-1.6 .7-4.8 .7 6.4 .6-4.6 .7 5 .7-6 .7 8 .7-6.7 .6-2.3 .7 9 .7-4.2 .7 1.2 .7-2.8 .6-3.6 .7 6.5 .7 1.7 .7-15.6 .7 11.4 .6-.4 .7-1.4 .7-3.1 .7 6.8 .7-3.8 .6 .8 .7-2.6 .7 5.6 .7-.4 .7 1.7 .6-6.9 .7 3.2 .7-5.9 .7 9 .6-10.7 .7 10.7 .7-3.9 .7-4 .7 6.7 .6-4.9 .7-2.8 .7 14.4 .7-4.2 .7-4.6 .6 .8 .7-2.3 .7-1.2 .7 12.3 .7-12.8 .6 1.2 .7 4.6 .7-4.8 .7-1.2 .7 4.9 .6 1.5 .7-4.5 .7 .1 .7-5.2 .7 9.6 .6 .3 .7-1.6 .7-7.3 .7 2.3 .6-4.4 .7 11.7 .7-1.9 .7-2.3 .7-4.2 .6 7.6 .7-4.3 .7 .4 .7 .8 .7-.2 .6-2.7 .7-2.4 .7 6.9 .7-5.7 .7 .6 .6 1.4 .7 6 .7-7.6 .7 5.4 .7-.9 .6-6.3 .7 .7 .7 .2 .7 2.1 .7-2.9 .6 3.1 .7-1.8 .7 7.6 .7 6 .6-10.3 .7 .7 .7 2.4 .7-6.1 .7 5.2 .6-5.3 .7-3.6 .7 8.1 .7-1.2 .7 1.2 .6 6.2 .7-6.4 .7 1 .7-.6 .7 .7 .6-.2 .7-7.1 .7 5.7 .7 5.9 .7-10.1 .6 .2 .7-1.6 .7 3.9 .7 .8 .7-4.3 .6 1.5 .7 2.9 .7-2.5 .7-1.2 .6-4.9 .7 6.7 .7-1 .7 8.1 .7-4.1 .6 1.2 .7 1.3 .7 2.9 .7-12 .7-.2 .6 4 .7 3.1 .7-1.1 .7-3.6 .7 2.9 .6 4.4 .7-3.7 .7 2.4 .7-3.2 .7 .4 .6-3 .7 .2 .7 4.2 .7-2.7 .7 1.9 .6-6.4 .7 1.1 .7 2.4 .7 1.3 .6 3.6 .7-1 .7 2.1 .7-9.3 .7-.2 .6 1.1 .7 5.6 .7 5.6 .7-12 .7 3.5 .6 2 .7 .9 .7-6.7 .7 5.4 .7-2.7 .6 10.1 .7-8.7 .7 3.5 .7-3.8 .7-1.8 .6-2.3 .7 6.6 .7-1.9 .7-2.7 .6 5.1 .7-3 .7 3.2 .7 1.8 .7-8.3 .6 6.1 .7-.4 .7-2.8 .7 1.9 .7 2.4 .6-12.5 .7 5.7 .7 5.6 .7-3.4 .7 8 .6-.7 .7-9 .7 .7 .7 1.7 .7 1.4 .6-1.6 .7 2.5 .7-3.7 .7-1 .7 5.9 .6-5.1 .7 3 .7 .6 .7 .9 .6-3.7 .7 3.1 .7-1.7 .7 .8 .7 4.7 .6 .5 .7-9.2 .7 5.6 .7-3.8 .7 3.3 .6-4.5 .7 3.9 .7-2.5 .7 .8 .7-2.1 .6-.7 .7-2 .7 11.1 .7-9.9 .7 9.8 .6-3.1 .7 .2 .7-4.2 .7-2 .7 4.4 .6-6 .7 5.8 .7-1.8 .7 5.1 .6-3.8 .7 1.8 .7 6.5 .7-9.6 .7-1.2 .6 11.3 .7-8.4 .7-1.2 .7-3.3 .7 6.8 .6-6.2 .7 2.5 .7-3.9 .7 6.6 .7 3.3 .6-4.9 .7 1 .7 4.5 .7 .2 .7-6 .6 1.3 .7-1.8 .7-2.2 .7 5.9 .7 2.7 .6 .6 .7-5.3 .7-1.8 .7 3.3 .6-.7 .7 3.4 .7 5.4 .7-4.7 .7-6.5 .6 0 .7 4 .7-4.3 .7-7.8 .7 6.4 .6 1.6 .7-7.5 .7 11.8 .7-2.3 .7-2.8 .6 10.9 .7-3 .7-4.8 .7-6.9 .7 4.5 .6 2.5 .7-1.7 .7 3.8 .7 .2 .7 .6 .6-8.4 .7 6 .7-1.4 .7 6.4 .6-3 .7 .9 .7-4 .7-.6 .7 3.8 .6-2.4 .7 .3 .7 4.7 .7-2.3 .7-3.3 .6-3.8 .7 6.7 .7 1.6 .7-6.4 .7 3 .6-5.2 .7 6.7 .7-6.4 .7 2.2 .7 5.4 .6-4.9 .7 1.7 .7-.1 .7-4.2 .7 12.4 .6-3 .7-4.2 .7 3.9 .7-3.6 .6 3 .7-6.7 .7 8.1 .7-6.4 .7-.9 .6 1.7 .7-3.9 .7 7.4 .7 .3 .7-2.6 .6 4.8 .7-13.1 .7 9.8 .7-1.3 .7 3.4 .6 2.1 .7-9 .7 3.9 .7 1.5 .7-8.9 .6 5.2 .7-2.2 .7 7.6 .7-10.8 .7 7.6 .6-1.6 .7-.9 .7 4.7 .7-2.7 .6-2.4 .7 4.5 .7-5.3 .7-2.2 .7 12.5 .6-9.5 .7 7 .7-5.5 .7 .5 .7-5.3 .6 3.6 .7-1.2 .7-1.8 .7 3.3 .7 2.4 .6-5.7 .7 12.9 .7-4.7 .7-2.7 .7-8.8 .6 .4 .7 8.4 .7-.1 .7 1.6 .7-5.4 .6 4.9 .7-2.3 .7 2 .7-.7 .6 4.4 .7-7.7 .7 4.9 .7-7.1 .7 2.1 .6-3.7 .7 3.6 .7 4.1 .7 1.8 .7 2.8 .6-3.8 .7-3.4 .7-1.5 .7 1.8 .7-.5 .6 7.2 .7-1.5 .7-2.8 .7-.5 .7-1.5 .6-.4 .7 .4 .7 .9 .7-4.2 .7 1.4 .6 7 .7 7.3 .7-13.9 .7 10.4 .6-9.7 .7-3.1 .7 3.3 .7 3.4 .7-1.9 .6-2.5 .7 4.6 .7-5.2 .7 4.9 .7 2.1 .6 1.7 .7-2.6 .7-7.1 .7 5.9 .7-3.5 .6-7.2 .7 17.5 .7-5.6 .7-1.3 .7-2.3 .6-1.4 .7 7.8 .7-6.3 .7 5.1 .7-4.7 .6 9.4 .7-5 .7-6.4 .7 3.5 .6-.9 .7 3.3 .7-8.3 .7 7.4 .7 1.7 .6-4.5 .7-5.7 .7 8.4 .7-.8 .7 4.5 .6-2.9 .7-5.2 .7 8.6 .7-14 .7 3.8 .6 7.8 .7-2.5 .7-3.3 .7 1.9 .7-2.4 .6 3.1 .7 4.3 .7-5.4 .7-1.4 .7 1.7 .6-.5 .7-4 .7 3.5 .7 3.1 .6-5.8 .7-.8 .7 1.5 .7 9.3 .7-.5 .6-9.9 .7 7.7 .7-7 .7 5.2 .7-8.4 .6 8.1 .7 0 .7 1 .7-1.1 .7 .6 .6-3.1 .7 .6 .7 1.1 .7-2.9 .7 0 .6-1.5 .7 .5 .7 .1 .7 5.3 .7-1.7 .6 5.7 .7-5.7 .7-.2 .7-4.1 .6 4.5 .7 .7 .7-1.2 .7 1.3 .7 .7 .6 3.8 .7-5 .7-7 .7 3.6 .7 5.9 .6-11 .7 8 .7 0 .7-1.4 .7-3.8 .6 7.8 .7-13.4 .7 4.6 .7 11.2 .7-6.3 .6-3.3 .7-5.1 .7 5.4 .7 5.2 .6 3.3 .7 .6 .7-13.6 .7 12.6 .7-6.8 .6 .1 .7-2.4 .7 4.6 .7-1.5 .7 4.5 .6 1 .7-3.2 .7 2.2 .7-10.1 .7 3.2 .6 7.8 .7-4.8 .7-4.5 .7 5.7 .7 4.6 .6-6 .7-.9 .7 .7 .7-3.3 .7 2 .6-.1 .7 2.4 .7-4.2 .7-2.7 .6 1.3 .7-2.2 .7 4 .7 .4 .7 3 .6-7.3 .7 4.4 .7-4.3 .7 4.5 .7-4.4 .6 4.2 .7-1.6 .7 .5 .7 1.3 .7-1.5 .6 0 .7-6.6 .7 5.6 .7-.2 .7-1 .6-2.5 .7 5.5 .7-5.8 .7 2.3 .7-7.9 .6 7.5 .7 0 .7 4 .7-8 .6 5.1 .7 1.1 .7 2 .7-2.3 .7-4.8 .6 3.2 .7-6.7 .7-.9 .7 7 .7-.5 .6-6.9 .7-4 .7 5.1 .7-1.5 .7 12.3 .6-3.1 .7-4.7 .7 1.6 .7-1.2 .7-3.3 .6 4 .7-4.7 .7-2.8 .7 4.1 .7 2.6 .6 1.8 .7-3 .7-3.2 .7 1.8 .6-6 .7 13.6 .7-5.1 .7-8.2 .7 8.4 .6 2.9 .7-5.8 .7-2.3 .7 .8 .7 .5 .6 4.9 .7-13.1 .7 .5 .7 9.6 .7-6.7 .6 2.4 .7 1.3 .7-5.6 .7 6.4 .7-1.5 .6-8.4 .7 3.3 .7 4.3 .7-5.1 .7-11.4 .6 15.1 .7-1.1 .7-4.1 .7 2.7 .6-2.6 .7 6.5 .7-6.9 .7 3 .7 1.5 .6-7.7 .7 6 .7-9.6 .7 5.2 .7 4.4 .6-1.2 .7-.7 .7-2 .7-2.9 .7 .5 .6-2.9 .7 6.1 .7-6.5 .7 1.4 .7-6.1 .6 3.5 .7-5.6 .7 8.6 .7-8.1 .7 6.5 .6-8.2 .7 3.4 .7 8 .7-14 .6 3 .7 7 .7-.4 .7 4.8 .7-16.2 .6 7.8 .7-3.8 .7 6.3 .7-8.4 .7-3.5 .6-1 .7 3.1 .7 2.5 .7-3.3 .7 2.8 .6 3.1 .7 3.8 .7-13.5 .7-5.7 .7 4.3 .6-2 .7 .3 .7 5.1 .7-11.8 .7 8.6 .6-11.1 .7 8.2 .7 4 .7-9.9 .6 4.6 .7-12.6 .7 6.9 .7 1 .7-5.8 .6-4.2 .7 8.3 .7-7.4 .7 4.2 .7-4.7 .6 2.1 .7 .2 .7-4.3 .7-3 .7 3.9 .6-3.2 .7 1.1 .7-.3 .7 5.2 .7-6.3 .6-12.4 .7 1.3 .7-6.7 .7 11.3 .7-7.5 .6 2.3 .7-4.9 .7 3.9 .7-9.6 .6-1.3 .7 16.9 .7-22 .7-.7 .7 14.4 .6-9.1 .7 5.3 .7-5.6 .7-5.3 .7 2 .6 1.4 .7-3 .7-9.5 .7 15.7 .7-3.2 .6-9.2 .7-.2 .7 .9 .7-5.5 .7 5.6 .6 5.4 .7 .3 .7-10.4 .7 1.7 .7 4.5 .6-4.2 .7-3.2 .7-.5 .7 8.7 .6-.8 .7-5.4 .7-.5 .7-5.5 .7 6.7 .6 2.5 .7-2.9 .7 2.6 .7-6.7 .7 7.5 .6-5.2 .7-2.4 .7 12.7 .7-9.1 .7 4.1 .6 2.1 .7-9 .7 11.2 .7-1.4 .7 8.9 .6-12.3 .7 7.8 .7 2.7 .7-5.6 .7-3.5 .6 9.1 .7-9.3 .7 9.1 .7 5.4 .6-5.7 .7 8.4 .7-10.5 .7 9.4 .7 5.5 .6 .2 .7 .6 .7-3 .7 8 .7-4.9 .6 3.4 .7 3.4 .7-4.2 .7 7.4 .7-4.1 .6 7.3 .7-2.1 .7 8.9 .7-1.9 .7-.9 .6 2.7 .7 7.6 .7-1.8 .7-1.7 .7 4.3 .6-2.5 .7 10.7 .7-5.3 .7-3.2 .6 4 .7-1.6 .7 10 .7-1.9 .7 2.1 .6-.7 .7 6.6 .7-4.3 .7-4.2 .7 1.1 .6-.4 .7 13.7 .7-1.1 .7 3.1 .7 1 .6-3.8 .7-4.5 .7 6.6 .7 .9 .7 .4 .6 2.1 .7 2.1 .7 4.4 .7-1.2 .6 3.8 .7-.6 .7-4.6 .7 7.2 .7 2.6 .6-6 .7 5.6 .7-2.6 .7 3.2 .7-.9 .6 4 .7 1.3 .7-1.4 .7-5.5 .7 3.7 .6 4.7 .7-2.3 .7 1.2 .7 4.2 .7-2.4 .6-2.5 .7 6.2 .7 .5 .7 2.6 .7 2.4 .6-2.7 .7 .4 .7 .4 .7 1 .6-6.9 .7 4.5 .7 .9 .7 .1 .7-3.7 .6 1.8 .7 5.7 .7-7.8 .7 7.9 .7-4.7 .6 .8 .7 7.8 .7-1.5 .7-8.7 .7 3.9 .6 1.5 .7-3.8 .7 .2 .7 4.6 .7-5.2 .6 3.4 .7 6.4 .7-8.9 .7 9.8 .7-2.9 .6-5.8 .7 10 .7-7.3 .7-2.2 .6 3.6 .7-3.1 .7 3.7 .7-4.3 .7-1.3 .6 .8 .7 2.3 .7 3.9 .7-2.4 .7 2.7 .6-.7 .7-1.2 .7-4.4 .7-.2 .7 8.9 .6-9.8 .7 2.4 .7 0 .7 .2 .7-3.2 .6 5.6 .7-7 .7-3.7 .7 8.7 .7-2.5 .6 1.4 .7-1.2 .7 3.7 .7-8.5 .6-2.4 .7 7.9 .7-8.4 .7 9.2 .7 .5 .6-10.9 .7 .5 .7 6 .7-4.9 .7 4.7 .6-5.6 .7-5.4 .7 7.1 .7-1.8 .7-3.8 .6 5.8 .7-3.6 .7 2.5 .7-6.4 .7 .8 .6 .5 .7-4 .7 4.7 .7-5.7 .7 5.4 .6-2.3 .7-4.7 .7-2.2 .7 2.5 .6-3.3 .7 5.4 .7 2.8 .7-4.7 .7-2.7 .6-1.7 .7-3.2 .7 10.1 .7-5.8 .7 3.7 .6-3.3 .7-8.4 .7 3 .7 .6 .7-.5 .6 3 .7-9.3 .7 3.9 .7-3.4 .7 8.4 .6-9.5 .7 .1 .7 2.5 .7-4.6 .7 5.6 .6-6 .7-2.1 .7 2.9 .7 1.4 .6-6.2 .7 2.7 .7-1.2 .7-3.5 .7-.4 .6 9.5 .7-6.3 .7-.1 .7 1.2 .7-12.4 .6 4.3 .7 2.7 .7-.1 .7 5.7 .7 5.5 .6-12.7 .7 3.2 .7 1.9 .7-5.5 .7 12 .6-12 .7 3.2 .7 2.2 .7-5.7 .7 3.1 .6 0 .7-1.7 .7 7.2 .7-7.8 .6-1.6 .7 .1 .7-1.4 .7 2.5 .7 1 .6 5.1 .7-2.5 .7 6.5 .7-9.9 .7 4.6 .6 .1 .7 2.1 .7-.5 .7 1.4 .7 1.1 .6-3.9 .7-.1 .7 0 .7-3.1 .7 6 .6 4.7 .7-4.5 .7-.5 .7 5.3 .7-1.9 .6 .8 .7 1.9 .7 4.5 .7-8.4 .6 9.1 .7-7.5 .7 5.8 .7 4.5 .7-3.8 .6 2.7 .7-1.2 .7 .4 .7 1.5 .7 6.1 .6-.3 .7-2.7 .7-4.6 .7 15.2 .7-7.6 .6 4.1 .7-5.6 .7 2.6 .7 3.8 .7 6.7 .6-12.2 .7 4.6 .7 2.5 .7 1.7 .7 4.6 .6-.9 .7-4 .7 9.5 .7-5.2 .6 3.8 .7-1 .7-.1 .7-1.9 .7-3.7 .6 13.7 .7-1 .7-6.8 .7 5.7 .7-2 .6-2.5 .7 8.7 .7-3.3 .7-10.4 .7 9.5 .6-3.4 .7 4.4 .7 4.3 .7-1.6"/>
<path stroke="#37AD6B" stroke-width="3.4" d="M331.7 1107.8l.7 66.6 .7 37.6 .7 51.9 .7 10.2 .6 45.2 .7 11.9 .7 14.8 .7 25.8 .7-13.3 .6 36.1 .7 .9 .7 2.1 .7-3 .7 19.5 .6-13.6 .7 16.4 .7 4.1 .7-2.5 .6 8.7 .7 12.2 .7 2 .7 1 .7-3.4 .6 16.9 .7 5.8 .7 26.6 .7-6.7 .7 5.4 .6-5.7 .7 7.2 .7 15.2 .7 1.7 .7 7.8 .6 8.1 .7-1.2 .7 6.1 .7-.9 .7 1.1 .6 8.9 .7-5 .7 17 .7-4.1 .6 1.7 .7 15.1 .7-12.3 .7 2 .7-3.6 .6 12.8 .7-1.8 .7 1.7 .7 15.3 .7-9.4 .6 11.8 .7-8.3 .7-.9 .7 4.1 .7 14.9 .6-18.7 .7 8.1 .7-2.6 .7 10.9 .7-.3 .6-12.7 .7 14.1 .7 2.6 .7 .9 .7-6.4 .6 15.5 .7-5.8 .7 4.3 .7-17.6 .6 8.9 .7 6.5 .7 .3 .7 3.5 .7 2.2 .6-.5 .7-9.5 .7 12.2 .7 1.5 .7-2.7 .6-5.3 .7 6.4 .7 9.2 .7-4.9 .7 1.3 .6 11.3 .7-5.2 .7-4.6 .7 5.1 .7-10 .6 7.2 .7 6.1 .7-1.1 .7 7.5 .7-2.5 .6-6.5 .7 5.2 .7 10.3 .7-2.2 .6-9.1 .7 9.5 .7-2.8 .7-7.1 .7 7.5 .6 .9 .7 1.3 .7-6.7 .7 9.5 .7 3.3 .6-6 .7-7.2 .7 6.8 .7-5.4 .7 2 .6 14.5 .7-8 .7 1.1 .7-.3 .7-5.8 .6-.6 .7 3.6 .7-2.1 .7 9.2 .7-6.8 .6 9.5 .7-3.3 .7 4.6 .7-12.1 .6 8.3 .7-5.8 .7 10.4 .7-7.6 .7-2.9 .6 3.6 .7-.5 .7 .2 .7 1 .7 1.5 .6 2.3 .7-11.9 .7 7.6 .7-.3 .7-1.3 .6 7.8 .7 .5 .7-.2 .7-19.8 .7 14.4 .6-4.9 .7 12.5 .7-7.2 .7-2.5 .7 3.2 .6-11.1 .7 9.7 .7-1.4 .7-6.2 .6-2.6 .7 5.1 .7 4.8 .7-1 .7-7.6 .6 11.2 .7-.5 .7-.5 .7-12.6 .7 5.3 .6 6.4 .7-1 .7-3.9 .7 2.3 .7 2.3 .6-1.3 .7-3.5 .7 1.8 .7-3.2 .7 1.4 .6 1.5 .7-6.1 .7-.4 .7 12.1 .7-11.5 .6 3.5 .7 2.6 .7-9 .7 2.3 .6-1.7 .7 5.5 .7-12 .7 6.4 .7 6.9 .6-14.2 .7 13.8 .7-12 .7 9.1 .7 1.5 .6 .5 .7 1.4 .7-.5 .7-6.7 .7 2.2 .6 7.8 .7-9.5 .7 8.6 .7-10.3 .7 4.9 .6-1.3 .7-7.3 .7 16.4 .7-21.9 .7-4.5 .6 10 .7 2.6 .7 6.3 .7-9.2 .6 6.5 .7 .4 .7 2.5 .7-11.4 .7 2.7 .6 11.6 .7-6.9 .7 6.1 .7-11.6 .7 9.3 .6-4.4 .7-3.4 .7 3.9 .7 5.2 .7-4.1 .6 4.5 .7-14.4 .7 2.5 .7 13.8 .7-3.2 .6-17.7 .7 8.1 .7 5 .7-6.6 .7 3 .6-2.4 .7 6 .7-10.5 .7 7.1 .6 7.4 .7-6 .7 1.4 .7-4.7 .7 1.4 .6 .9 .7 4.9 .7-5.5 .7 4 .7-11.4 .6 14.3 .7-3.8 .7 .5 .7 2.5 .7-7.4 .6 .5 .7 .6 .7-6.9 .7 10.7 .7-5.3 .6 1.9 .7-1 .7 8 .7-.4 .7-10.6 .6 10.5 .7-12 .7-2.2 .7 10.9 .6-4.8 .7 .8 .7-7 .7-8.2 .7 9.9 .6 1.6 .7-2 .7 11.4 .7-4.6 .7-4.9 .6 7 .7-15.1 .7 17.4 .7-3.8 .7-1.6 .6-2.9 .7 8.3 .7-2.8 .7-3.9 .7 1.4 .6-2.5 .7 9.3 .7-.5 .7 9.1 .7-7.8 .6-4.2 .7 9 .7-9.4 .7-6.4 .6 6.9 .7-7.3 .7 .9 .7 3.7 .7-3.7 .6-2.7 .7 17 .7-19 .7 17.5 .7-10.6 .6 4.5 .7 1.3 .7-5.5 .7 3 .7-1 .6-.9 .7 4.4 .7-5.9 .7 6.8 .7-9.8 .6 10.1 .7-7.5 .7 5 .7-11.5 .7 12.4 .6-11.2 .7 8.1 .7 6.2 .7-19.1 .6 5.5 .7-3.7 .7 10.9 .7-7 .7-3.2 .6 6.8 .7-14 .7 15.8 .7-6.5 .7 9.6 .6-.9 .7-1.9 .7-1.6 .7-1.7 .7-3.4 .6 15.6 .7-11.6 .7 3.5 .7 6.3 .7-5.4 .6-7.2 .7 .9 .7 10.5 .7-4.6 .7-.5 .6-9.3 .7 8.3 .7 2.6 .7-3.7 .6 12.7 .7-13.3 .7-4.5 .7 2.8 .7 11.5 .6-22 .7 9.4 .7 3.7 .7-.2 .7-4.9 .6 4.9 .7-.1 .7-3.9 .7 8.7 .7-9.6 .6 8.7 .7-7.2 .7-3.3 .7 2.7 .7-1.6 .6 6.1 .7 2 .7-9.5 .7 6.1 .6 3.5 .7-1.6 .7 .9 .7-7.5 .7 .6 .6-4.5 .7 13.2 .7-6.1 .7 .7 .7 10.3 .6-10.4 .7-3.5 .7 7.4 .7 2.1 .7-18.5 .6 22.2 .7-17.9 .7 6.1 .7-.5 .7 5 .6 2.5 .7-12.5 .7-2.1 .7 14.1 .7-10.4 .6 6.4 .7-3.9 .7 5.3 .7 2.8 .6 4.6 .7 1.2 .7-8.1 .7 .9 .7 8 .6-.3 .7-2 .7-7.8 .7-2.2 .7-.3 .6 5.1 .7-3.2 .7 10.3 .7-14 .7 7.8 .6 4.9 .7 1.1 .7 1 .7-3.6 .7-7.4 .6 10 .7-8.1 .7 4.1 .7 9.5 .7-2.7 .6-.7 .7-2.3 .7-11.2 .7-2.6 .6 10.8 .7 .1 .7 5.6 .7-9.3 .7 10.1 .6-1.6 .7-2.6 .7-3.8 .7 3.2 .7 13.2 .6-13.2 .7 4 .7-3.4 .7-4.9 .7 14.8 .6-8.7 .7-3.5 .7 12.4 .7-14.1 .7 3.7 .6 1.8 .7 5.5 .7-6 .7-1.3 .7 7.6 .6-.8 .7 3.4 .7-7.7 .7-.3 .6-2.9 .7 2.8 .7 3.6 .7-2.1 .7 4.4 .6-9.2 .7 9.5 .7-.5 .7-4.6 .7 9.5 .6-11.5 .7-4.5 .7 3.4 .7-.4 .7 1 .6 2.2 .7 .3 .7 5.4 .7-7.4 .7-2.6 .6-5.3 .7 11.4 .7-3.8 .7-.7 .7 4.3 .6 1.2 .7-1.3 .7-.7 .7-9.3 .6 16.2 .7 0 .7-1.5 .7-9.3 .7-.6 .6 9.8 .7-11.6 .7 9.6 .7-12.7 .7 7 .6-4.3 .7 11.5 .7-11.4 .7 3.8 .7 3.4 .6 5 .7-11.9 .7 .4 .7 5.2 .7-6.5 .6-.2 .7-.8 .7 10.4 .7-8.5 .7 2.5 .6 4.2 .7-4.3 .7 3.4 .7-8.3 .6 6.2 .7-2.7 .7-2.5 .7-5 .7 5.8 .6 9.4 .7-13.6 .7 6.2 .7-4.6 .7 4.4 .6 3 .7 5.2 .7-7.9 .7-3.2 .7 6.7 .6 0 .7 .7 .7-2.8 .7-1.4 .7-3.7 .6 5.8 .7-2.7 .7 6.1 .7-12.4 .7 7.1 .6 10 .7-5.4 .7-3.9 .7-6.7 .6 5.4 .7-11.7 .7 9.5 .7 6.6 .7-.6 .6-12.5 .7 12.3 .7 .3 .7 .4 .7 2 .6-12.4 .7 1.1 .7 9.8 .7-14 .7 3.6 .6 6.5 .7 5.6 .7-5.3 .7 0 .7-7.5 .6 7.4 .7-6.9 .7-7.8 .7 16.2 .7-.8 .6-9.5 .7-2.9 .7 18.8 .7-6.8 .6 5.4 .7-10.3 .7 1.2 .7 4.6 .7-5.4 .6-4.9 .7 22.2 .7-7.8 .7-2.5 .7-5.7 .6-2.5 .7 1.1 .7-12.6 .7 13 .7 4.2 .6 .2 .7 6.5 .7-9.8 .7-5.1 .7 9.9 .6-10.4 .7 11.2 .7-10.3 .7 4.3 .7-9.9 .6 7.2 .7 .3 .7 3.1 .7 3.8 .6-2.7 .7 1.8 .7 6.2 .7-17.8 .7 .9 .6 2.6 .7-.3 .7 10.1 .7 6.9 .7-17.1 .6 .1 .7-.3 .7-1.6 .7 .7 .7 7 .6-7 .7 .3 .7-9.2 .7 8.6 .7 2.2 .6 .1 .7 5.2 .7-2.5 .7-6.5 .7 14.5 .6-5.2 .7-8.8 .7 8.9 .7 3.6 .6-11 .7-.9 .7 1.1 .7 .5 .7 8.7 .6-21.2 .7 17.8 .7-.5 .7-7.2 .7 .1 .6 2.8 .7-1 .7-2.4 .7 .1 .7 7.4 .6-5 .7-2.5 .7 1.2 .7 2 .7 5 .6-9.3 .7 .3 .7 1.7 .7 10.4 .7-10.4 .6-6.2 .7 5.4 .7 5 .7-4.1 .6 2 .7 1.3 .7-4.6 .7 1.2 .7 5.3 .6-13.2 .7 4.1 .7 13.9 .7-8 .7-.5 .6 13.1 .7-7 .7-12.1 .7 5.7 .7-2.6 .6 1.2 .7 .8 .7 2.8 .7 4.1 .7 2.4 .6-5 .7-8.6 .7-.8 .7-1.8 .6 7.6 .7 3.5 .7-12 .7 2.1 .7 2.7 .6-1.1 .7 6 .7-8.8 .7 15.7 .7-7.4 .6-5.2 .7 2.8 .7-8.2 .7 6.1 .7 5.7 .6 .5 .7 7.1 .7-17.9 .7 5.6 .7-2.8 .6 9.6 .7 1.1 .7-10.4 .7 5.5 .7-2.6 .6-8.4 .7 5.6 .7-1.5 .7 2 .6 3.6 .7-6.6 .7 2.6 .7-11.7 .7 8.7 .6 12 .7-7.1 .7 2.7 .7-12.5 .7 8.1 .6 8.1 .7-7.3 .7-10.6 .7 1.6 .7 5.7 .6-.2 .7 7.4 .7-4.8 .7-1.3 .7 3.4 .6-5.6 .7 6.7 .7-11.2 .7 8.8 .7 1.2 .6 .9 .7-4.3 .7-3.9 .7 .4 .6 5.2 .7-4.9 .7 6.5 .7-5.2 .7-3.4 .6 1.9 .7 3.6 .7 1.3 .7-5.7 .7 1.6 .6 13.9 .7-9.1 .7-3.8 .7-2.4 .7 1.2 .6-7.8 .7 13 .7-13.4 .7 9.3 .7-4 .6 3.5 .7-3.3 .7 8.7 .7-15.4 .7 10.1 .6-2.3 .7 11.2 .7-11.6 .7 2.8 .6-7.4 .7 2 .7 4.4 .7 4.8 .7-14.6 .6 8.9 .7-7 .7 .2 .7-2.2 .7 14.8 .6-.5 .7-3.5 .7 1.9 .7-7 .7 1.4 .6-.2 .7 2.8 .7-.9 .7 .2 .7 2.3 .6 3.9 .7-8.5 .7 8.4 .7 6.9 .7 2.1 .6-11.9 .7 5 .7 1.1 .7 5.2 .6-7.3 .7-3.2 .7 4 .7 7.7 .7-3.9 .6-.8 .7 6.1 .7 1.8 .7 .5 .7-18.9 .6 7.1 .7 7.8 .7-1 .7-4.6 .7 .5 .6 2 .7 8.1 .7 .5 .7-4 .7-3.9 .6 .9 .7 3.9 .7 3.3 .7-11.4 .7 12.4 .6-4.7 .7-.3 .7-1.2 .7-4.4 .6 16.5 .7 4.2 .7-15.6 .7-2.6 .7 .7 .6 1.1 .7 3.8 .7 .8 .7-15 .7 17.8 .6-8.9 .7 6.9 .7-1.3 .7 4.9 .7-3.1 .6 2.2 .7 4.6 .7-2.6 .7 4.1 .7-13.1 .6 12 .7-5.5 .7-10.1 .7 4.8 .7 5.3 .6-6.7 .7 3.2 .7-1.6 .7 7.2 .6-8.4 .7 3 .7 3.1 .7 2.6 .7-3.3 .6 2.8 .7-4.7 .7-.2 .7 4.5 .7-10.2 .6 2 .7 10.5 .7-13.9 .7 10.6 .7 3.5 .6-7.5 .7-5.5 .7-1.9 .7 9.7 .7-4.3 .6 .3 .7-5.9 .7 2 .7 1.8 .7 .5 .6 .4 .7 0 .7 2.1 .7 2.2 .6-9.9 .7 6.2 .7-.5 .7 2.3 .7-3.1 .6 4.5 .7-4.6 .7 2.8 .7-6.9 .7 14.8 .6-15.6 .7 5.3 .7 6 .7-7.6 .7 4.2 .6-3.4 .7 2.8 .7-1.8 .7 .8 .7 1.4 .6 1 .7-5.9 .7-.7 .7-.2 .7 5.4 .6-2.3 .7-.8 .7-.1 .7 .7 .6-2.3 .7 4.7 .7-5 .7 7.6 .7-3.9 .6 .9 .7-.2 .7-6.7 .7 10.9 .7-5 .6-.8 .7-3.1 .7 6.9 .7 1 .7-2.5 .6-2.8 .7-2.1 .7-6.4 .7-.4 .7 4.1 .6 2.1 .7-2.9 .7 1.6 .7 2.9 .7 .7 .6-10.3 .7 5.9 .7 5.6 .7-8.9 .6 9.3 .7-2.6 .7-2.8 .7 1.4 .7 .8 .6 1 .7 1.8 .7 .6 .7-6.9 .7-4.2 .6 9.2 .7-7 .7-1.1 .7 9.1 .7-10.4 .6 .3 .7 3.9 .7 2.8 .7-6.3 .7 .8 .6 4.8 .7 8 .7-17.4 .7 23.9 .7-18 .6 11.5 .7-10 .7 1.4 .7-4 .6-2 .7-1.3 .7 7.4 .7-10.8 .7 2.6 .6 6.9 .7-6.4 .7 5.3 .7-4.8 .7 6.3 .6-7.2 .7-5.6 .7 8.4 .7-3.8 .7-8.2 .6-4.1 .7 17.8 .7-3.8 .7 8.6 .7-.4 .6-19.7 .7 10.7 .7-.8 .7-.5 .7-10.1 .6 13.8 .7-2.9 .7-2.9 .7 1.9 .6-5.2 .7-6.6 .7 9.8 .7-3.8 .7-10.2 .6 9.7 .7 5.2 .7-9 .7-.8 .7-4.7 .6 7.9 .7-6.2 .7-1.2 .7 15.6 .7-9.5 .6-10.5 .7 13.1 .7-11.2 .7 7.3 .7 5.6 .6 4.8 .7-9.3 .7 2.7 .7-16.2 .6 20.1 .7-16.9 .7 5.6 .7-6.9 .7 12 .6-9.3 .7 5.6 .7-9 .7-4.4 .7 4.2 .6 2 .7-4.7 .7 .6 .7 6 .7 7.1 .6-9.4 .7 8.6 .7-7.7 .7-18 .7 4.2 .6 10.4 .7-5.5 .7-7.3 .7 8.2 .7 8.5 .6-1.2 .7-17 .7-.9 .7 0 .6 3.2 .7 .4 .7-.8 .7 2.6 .7-4.2 .6-1.7 .7 7.4 .7-17.1 .7 6.7 .7-5 .6 12.1 .7-6.3 .7 1.2 .7 3.3 .7-3.5 .6-16.7 .7 9.6 .7-2.8 .7 2 .7-.7 .6 3.8 .7-7.4 .7 6.2 .7-7.6 .7 8.8 .6-4.1 .7-3 .7-5.7 .7 7.9 .6-8 .7-2.3 .7-2.9 .7 2 .7-1.3 .6 1.2 .7 5.4 .7-10.3 .7 4.4 .7-5.4 .6-8.3 .7 3.4 .7 1.9 .7 1.8 .7 .9 .6 2.8 .7-8.7 .7-9 .7 5 .7 6.2 .6-11.9 .7 10 .7-1.7 .7-11.6 .7 .9 .6-7 .7 14.7 .7-9.5 .7-.6 .6 .8 .7-1.7 .7 9.6 .7-12.1 .7 4.6 .6-8.3 .7 8.2 .7-14.2 .7 1.9 .7 1.1 .6-2.1 .7 2.9 .7-11.9 .7 2.4 .7 1 .6-.6 .7-1.4 .7-2.5 .7 2.2 .7 4.4 .6 2.5 .7-4.7 .7-16.1 .7 9 .7-10.1 .6-6.6 .7 6 .7 1.1 .7-2.5 .6-8.2 .7 9.1 .7-10.3 .7-11.2 .7 7 .6-.8 .7-.7 .7 2.4 .7 5.4 .7-15.7 .6-2.3 .7 13.6 .7-12.5 .7-9.6 .7 .6 .6-1.2 .7 8 .7-1.1 .7-8.6 .7-9.8 .6 9.5 .7-18.3 .7 17.4 .7-6 .7-14.5 .6 15.7 .7-17.3 .7-1.8 .7-2.6 .6 1.2 .7-1.7 .7 5 .7-10.1 .7-1 .6 8.4 .7-9.3 .7-18 .7 5.5 .7 1.4 .6-11.3 .7 9 .7-22 .7-6.5 .7-12.5 .6 12.3 .7-13.2 .7 8.3 .7-4.9 .7-6 .6-11.1 .7-.3 .7-10 .7 1.5 .7-4.3 .6-19.6 .7 9.6 .7-13.6 .7-19.3 .6 1.4 .7-8 .7-2 .7-4.9 .7-20.9 .6 .3 .7-10.2 .7-12.8 .7-.1 .7-14.5 .6-4.7 .7-20.2 .7-9.6 .7-1.2 .7-16.8 .6-10.5 .7-6.6 .7-14.5 .7-10.5 .7-12.6 .6-14.8 .7-17.4 .7-8 .7-14.7 .7-13.9 .6-14.2 .7-19.4 .7-21.4 .7-14.5 .6-7.5 .7-22.1 .7-11.7 .7-25.5 .7-8.9 .6-28 .7-8.1 .7-26.5 .7-20.8 .7-14 .6-24.2 .7-13.1 .7-26 .7-12.1 .7-22.3 .6-22.8 .7-22.7 .7-12 .7-19.6 .7-28.9 .6-15.7 .7-16.1 .7-22 .7-25.3 .7-10.8 .6-18.3 .7-24.5 .7-18.7 .7-11.9 .6-18.6 .7-21.4 .7-5.2 .7-15.1 .7-22.8 .6-11.9 .7-12 .7-7.6 .7-9 .7-8.9 .6 1.4 .7-6.3 .7-11.6 .7-2.9 .7-2.3 .6 1.1 .7 3.8 .7 9.4 .7-2.4 .7 7.9 .6 15.3 .7 .7 .7 13.7 .7 11.1 .7 21.1 .6 13.6 .7 9.6 .7 24.1 .7 17.5 .6 13.8 .7 29.5 .7 14.2 .7 17.4 .7 21.9 .6 21.2 .7 32 .7 15.6 .7 21.1 .7 30.1 .6 14.8 .7 26.4 .7 19.1 .7 22.3 .7 22.7 .6 17.1 .7 23.1 .7 18.1 .7 23 .7 25.6 .6 11.6 .7 22.9 .7 25.3 .7 10.5 .7 18.9 .6 15.2 .7 16.7 .7 20 .7 20.9 .6 7.9 .7 22.1 .7 13.7 .7 11.1 .7 18.9 .6 13.8 .7 6.5 .7 16.8 .7 10.9 .7 15.4 .6 10.9 .7 13.4 .7 7.7 .7 12.1 .7 10.1 .6 11.9 .7 2.5 .7 9.2 .7 16.8 .7 16 .6-8.6 .7 14.2 .7 12.3 .7-1 .7 16.5 .6-11.2 .7 19.5 .7 14.7 .7 10.1 .6-19.1 .7 22.5 .7 5.1 .7-.3 .7 13.5 .6 8 .7 .7 .7-3 .7 6.3 .7 10.6 .6 .4 .7-10.4 .7 7.2 .7 14.1 .7-1.4 .6 5.7 .7-.8 .7-8.9 .7 21.6 .7-4.4 .6 5.2 .7 1.1 .7 4.9 .7 11 .6-2.4 .7 12.2 .7-4.8 .7-3.1 .7-6.5 .6 1.3 .7 7.6 .7 5.6 .7 5 .7 4.3 .6-10.2 .7-4.3 .7 7.6 .7 7.7 .7 .7 .6-21.3 .7 13.4 .7 6.2 .7-8.5 .7 6 .6 12.2 .7-12 .7 .4 .7-6.5 .7 13.9 .6-9.7 .7 .4 .7 2.5 .7 2.2 .6-.1 .7 1 .7-1.9 .7-5.9 .7 7.1 .6 3.5 .7-1 .7-2 .7 .2 .7-3.3 .6 9.5 .7-12.9 .7-11.4 .7 3.7 .7 11.6 .6 5.3 .7-9.2 .7-.6 .7-3.1 .7 5.4 .6-1.2 .7-11.4 .7 4.9 .7-13.8 .7 16.5 .6 2.8 .7-17.5 .7 9.6 .7-2.8 .6-11.9 .7 6 .7-9.8 .7 7.7 .7-7.1 .6-4.3 .7-5.8 .7-.5 .7 5.6 .7-2.7 .6-11.2 .7-3.4 .7-2.2 .7 14.5 .7-1.6 .6-14.8 .7 5.5 .7-7.4 .7-7 .7-.6 .6-6.6 .7-14.3 .7 16.5 .7-12.6 .7 2.1 .6-6.3 .7 1.3 .7-15.5 .7 1.3 .6-19.2 .7 .2 .7 13.4 .7-20.5 .7 1.2 .6-5.3 .7-16 .7-20.9 .7 26.1 .7-7.3 .6-7.4 .7-16.6 .7 1.6 .7-17.9 .7 16.6 .6-20.7 .7-15.8 .7-9.3 .7 1.4 .7-8.6 .6-11.6 .7-9.2 .7-9.4 .7-8.5 .7-18.4 .6-9.8 .7-3.1 .7-11.5 .7-14.4 .6-14 .7-14.7 .7-12.4 .7-9.2 .7-9.7 .6-20.1 .7-13 .7-5.9 .7-13.5 .7-18.3 .6-17.1 .7-12.9 .7-13.4 .7-13.5 .7-24.5 .6-9.8 .7-11.6 .7-15 .7-22.4 .7-7.8 .6-24.3 .7-4.7 .7-14.5 .7-12.9 .7-20.4 .6-4.5 .7-11.3 .7-17.3 .7-11.6 .6-1.1 .7-15.5 .7-4.9 .7 3.5 .7-11 .6-4.7 .7 3.5 .7 4.9 .7-1.3 .7 4.9 .6-1.8 .7 1.3 .7 8.8 .7 6.2 .7 4.3 .6 12.4 .7 5.1 .7 19.4 .7 8.7 .7 5.5 .6 11.4 .7 13.2 .7 14.1 .7 17.2 .7 12.8 .6 14.7 .7 20.9 .7 21.2 .7 15.6 .6 8.9 .7 22.2 .7 18.8 .7 20.3 .7 13.9 .6 21.7 .7 11.7 .7 20.5 .7 25.6 .7 16.5 .6 15.8 .7 20.3 .7 16.4 .7 15.4 .7 21.6 .6 19.8 .7 11.7 .7 19.4 .7 17.9 .7 18.1 .6-2.1 .7 27.3 .7 22.5 .7 11.3 .7 16.7 .6 13.2 .7 13 .7 4.5 .7 18.1 .6 16 .7-4.1 .7 20.4 .7 12.3 .7 9.4 .6 12 .7 4.4 .7 17.7 .7 8.9 .7 1.8 .6 16.9 .7 5.8 .7 .3 .7-2.8 .7 17.5 .6 3.7 .7 13.8 .7 2.1 .7-12.3 .7 18.9 .6 4.2 .7 10.5 .7-5.3 .7 5.8 .7 2 .6 3.1 .7 9.1 .7 4.4 .7-.1 .6 1.9 .7 .1 .7 5.5 .7 11.7 .7-15.5 .6 5.9 .7 10.3 .7-14.7 .7 17.7 .7 3.6 .6 1.9 .7-12.4 .7 6.1 .7 3.9 .7-.2 .6-6.1 .7 9.5 .7-3.4 .7 2.3 .7 .8 .6-2.5 .7 3.7 .7-1.4 .7 2.8 .7 5.7 .6-2.5 .7-3.5 .7-8 .7 12.2 .6-5.5 .7 8.7 .7-5.9 .7-1.9 .7 4 .6-.1 .7 2.9 .7-3.3 .7 .8 .7-1.7 .6 3.8 .7 1.8 .7-.4 .7-.3 .7-2.3 .6-1.9 .7 8.1 .7-7.3 .7 3.2 .7 4.4 .6-1.1 .7 2.6 .7 .7 .7-3.3 .7-2.2 .6 2.2 .7-3.1 .7 .4 .7 .2 .6 .4 .7 .5 .7 8.7 .7-8 .7 8.2 .6-11 .7 7 .7-.7 .7 1.7 .7-6.4 .6 6.8 .7-2.4 .7 2.5 .7-3.6 .7 4.4 .6-5.5 .7 2.4 .7 4.1 .7-3.8 .7 3.1 .6 .7 .7-2.3 .7 7.5 .7-8.2 .7-2 .6 4.7 .7-3.8 .7-2 .7 6.7 .6-9.5 .7 8.3 .7-5.4 .7 2.5 .7-3.5 .6 5.6 .7-1.4 .7-3.4 .7-1.7 .7 3.5 .6-1.7 .7 8.3 .7-1.4 .7-3 .7-1.6 .6-.7 .7-4.9 .7 6.6 .7-2 .7 .3 .6 4.7 .7 3.9 .7-6.1 .7 .5 .6-5.5 .7 3.2 .7-1.4 .7 4 .7 .5 .6-3.5 .7-3.2 .7 9.6 .7-3.7 .7 4 .6-1.1 .7-6 .7 1.1 .7 3.1 .7-1.7 .6-4.7 .7 7.9 .7-6.3 .7 3.1 .7 12.2 .6-15 .7-3.7 .7 8.4 .7-.6 .7 1.6 .6-3.2 .7 0 .7-3.9 .7 2.1 .6 2 .7 1.1 .7-6.3 .7 6.5 .7-.2 .6-3.5 .7-.6 .7 5.2 .7-.4 .7-10 .6 13.7 .7-6.5 .7 2.4 .7-7.7 .7 7.9 .6 .4 .7-1.8 .7 3.6 .7-7.5 .7 .6 .6 1.3 .7-.7 .7 4.9 .7-.9 .7-4.1 .6 4.2 .7-.3 .7 5.3 .7-4.9 .6-.2 .7-1.4 .7-.4 .7 2.5 .7-4.3 .6 2.1 .7-1.1 .7 1.2 .7 2.2 .7-2.7 .6 1.5 .7 .7 .7 2 .7 5.7 .7-14.2 .6 3.4 .7-3.2 .7 5.2 .7-2.6 .7 3.8 .6 4.1 .7-10.1 .7 2.1 .7-3.3 .7 3.3 .6-5.7 .7 15.6 .7-13.5 .7 6.6 .6-3 .7 5.8 .7 .1 .7-9.9 .7 12.7 .6-9.7 .7 1.6 .7-.1 .7 5.1 .7-4.7 .6 4.6 .7-.4 .7-1.1 .7-5.4 .7 4.2 .6-.2 .7-2.5 .7-.8 .7 5.9 .7-8.6 .6 4.5 .7 1.1 .7 6.3 .7-4.9 .7-1.8 .6-1.6 .7 1.3 .7 2.1 .7-.3 .6 3.3 .7-.8 .7-6.1 .7 3.8 .7-3.8 .6 .9 .7-3.5 .7 9.2 .7-3.6 .7 6.6 .6-4.5 .7-1 .7-6.9 .7 5 .7 3.4 .6-8.5 .7-2.1 .7 4.5 .7 2.3 .7-4.9 .6 10.1 .7-5.4 .7 5.5 .7-9.8 .7 1 .6 .7 .7-1.1 .7 5.6 .7 2.9 .6-.8 .7-6.2 .7-1.3 .7 13.2 .7-15.9 .6 3.1 .7 .1 .7 1.5 .7 1.2 .7 .6 .6 .6 .7 1 .7 3.7 .7-4.8 .7-2.1 .6 4.2 .7-2.2 .7-.5 .7 1.4 .7 1.6 .6-1.9 .7 1 .7 4.4 .7-9.5 .7-5.8 .6 9.1 .7-2.1 .7 7.1 .7-3.4 .6-.5 .7-3.2 .7 4.9 .7-3.7 .7 2.9 .6-4 .7 4.5 .7 1.1 .7-1 .7 1.1 .6-1.8 .7 2.1 .7-2 .7 .3 .7-.5 .6 1.2 .7-1.4 .7-4.6 .7 1 .7 2.6 .6-4 .7 2.4 .7 6.8 .7-1.9 .7 1.6 .6 2.1 .7-11.4 .7 6.1 .7 .8 .6-9.2 .7 10.5 .7-1.6 .7-4.4 .7 1.4 .6-.8 .7-3.5 .7 9.6 .7-.6 .7-7.1 .6 2.1 .7 1 .7 .2 .7-1.7 .7-1.5 .6 6.9 .7-5.2 .7-6.1 .7 8.7 .7-4.6 .6-4.4 .7 8.9 .7-.7 .7 5.3 .7-4.4 .6 1 .7-5 .7-2.3 .7 4 .6-.8 .7 4.3 .7-10.1 .7 3.6 .7 .6 .6-5.8 .7 8.7 .7-.1 .7 1.8 .7 4.1 .6-11.1 .7 6 .7 2.9 .7-.2 .7-6.3 .6-2.1 .7 4 .7 4.2 .7 1.9 .7-7.7 .6-2.5 .7 4.6 .7 7.9 .7-10.1 .7 6.3 .6-5.3 .7-.2 .7-.5 .7 5.4 .6-.4 .7-3.8 .7-1.8 .7 3.1 .7 1.9 .6 2.3 .7 3.1 .7-7.5 .7 2.8 .7 6 .6-13.4 .7 .9 .7-.8 .7 5.9 .7-2.7 .6 6.1 .7-4.6 .7-.3 .7-3.5 .7 9.7 .6-8.9 .7-1.6 .7 .6 .7 1 .7-1.6 .6 2.1 .7 4.1 .7 2.9 .7 .6 .6-4.4 .7 2.6 .7-2.6 .7-.7 .7 5.3 .6-10.1 .7 10 .7-1.6 .7-4.7 .7 1.5 .6 4.9 .7-6.5 .7 8.2 .7-9.3 .7 5.6 .6 1 .7-2.3 .7-2.9 .7-.9 .7 6.4 .6-2.7 .7-1.8 .7-1.2 .7 3.6 .6-4.3 .7 1.6 .7 3.3 .7-4.6 .7 2.2 .6-8 .7 2.7 .7 1.2 .7 2 .7-1.4 .6-.2 .7 6.5 .7-7.3 .7 9.5 .7-.8 .6-2.6 .7-3.2 .7-1.5 .7-3 .7 9.3 .6-3 .7 1.3 .7-4.5 .7 2.8 .7-11.6 .6 3.8 .7 5.8 .7 7.4 .7-6.6 .6 2.5 .7-3.6 .7 2.9 .7 .2 .7 9.6 .6-9 .7-6.1 .7 4.2 .7-1.9 .7 1.2 .6 2.8 .7-7.2 .7 9.5 .7-8.5 .7 4.2 .6 .1 .7 3.5 .7-8.4 .7 6.3 .7-.9 .6-1.5 .7-5 .7 7.2 .7 5.5 .7-.2 .6-2.2 .7-3.4 .7 2.2 .7 .6 .6-7.1 .7-3.9 .7 4.5 .7 1.3 .7 3.9 .6-3.3 .7-1.2 .7 2.5 .7-.8 .7 3.2 .6-5.7 .7 8.3 .7-13.9 .7 8.1 .7 3.2 .6-5.1 .7 4 .7 .9 .7-5.3 .7-1 .6 9.6 .7-4.6 .7-8.3 .7 9.3 .7 .4 .6 1.1 .7 6.3 .7-10.7 .7 2.3 .6-2.1 .7-4.6 .7 .9 .7 1.8 .7 9.3 .6 6.6 .7-15.9 .7 2.1 .7-1.6 .7 .7 .6-1.4 .7-1.4 .7 0 .7 5.8 .7-4.8 .6 7.5 .7-3.7 .7 4.4 .7-7.6 .7 2.7 .6 2.1 .7 .7 .7-2.6 .7-5 .7-.3 .6 12.4 .7-7.2 .7-3.4 .7 .3 .6 .7 .7 7.3 .7-3 .7-6.7 .7 6 .6 1.8 .7 3.3 .7-9.1 .7-3 .7 2.8 .6 4.4 .7-6.4 .7 6.6 .7-.7 .7-5 .6 .4 .7 .4 .7 .3 .7 4 .7-1.5 .6 0 .7 2.8 .7-.6 .7-4.7 .7 2.7 .6 4 .7-1.3 .7 1.5 .7 1.2 .6-6.3 .7 .2 .7 1.7 .7 5.3 .7-3.8 .6 4.9 .7-6.6 .7 1.9 .7-2 .7 4.6 .6-10.2 .7 3.2 .7-2.4 .7 7.2 .7-.8 .6-6.3 .7 1.5 .7 5 .7 .5 .7 1.3 .6-4.3 .7 5 .7-7.2 .7 2.9 .7-.3 .6 2.6 .7-5.8 .7 .3 .7 5.2 .6 2.9 .7-9.8 .7 11.3 .7-7.9 .7 9 .6-14.7 .7 5.3 .7 5.9 .7-1.8 .7-3.4 .6 11.1 .7-2.4 .7-8.1 .7 2.3 .7-2 .6 .9 .7 1 .7-3.9 .7-.9 .7 6.4 .6-5.7 .7 5 .7 1.8 .7-4.5 .7 5.8 .6-5.3 .7 5.3 .7-6.6 .7 1.1 .6-1.9 .7 2.6 .7 3.9 .7-4.2 .7-3 .6 2.2 .7-3.4 .7 8.7 .7-2.7 .7-2.5 .6 1.6 .7-4 .7 6.2 .7-1.8 .7 3.2 .6-4.8 .7 .8 .7 5.1 .7-4.6 .7-4.4 .6 2.7 .7 .4 .7-6.9 .7 11.4 .7-3.6 .6 5.2 .7-5.1 .7 5.2 .7-5.7 .6-4.4 .7 3.8 .7-1.7 .7 6.8 .7-.5 .6-2.6 .7 .1 .7-11 .7 11.8 .7-.1 .6 .2 .7 .1 .7-3 .7 3.1 .7 .6 .6-2.4 .7-4.3 .7 7.9 .7-3.6 .7-2.7 .6-6.2 .7 11.2 .7-3.9 .7-1.5 .7 .1 .6-1.5 .7 6.6 .7 4.2 .7-7.6 .6-.3 .7 4.7 .7-4.4 .7 6.3 .7-3.5 .6 3.2 .7-1.6 .7-4.5 .7 2.2 .7-2.3 .6 .6 .7-1.5 .7 5.4 .7-1.9 .7-4.3 .6 .4 .7 6 .7 3.5 .7-7.9 .7 .4 .6 .1 .7 7.1 .7-6 .7-3 .7 3 .6 1.6 .7-3.4 .7 5.5 .7-10.6 .6 5.3 .7 5.7 .7-13.8 .7 7.7 .7 4.9 .6-4.4 .7 1.7 .7-1.2 .7 .3 .7 2.1 .6-4.1 .7 3.1 .7-1.1 .7 4.5 .7-6.1 .6 3.5 .7-2.1 .7-2.8 .7 3.4 .7-1.9 .6 .7 .7-.2 .7 1.9 .7-5.9 .7 5.6 .6 .1 .7 .4 .7-1.9 .7-4.8 .6 2.5 .7-1.4 .7 6.7 .7 6.1 .7-11.4 .6 3.3 .7-4.2 .7-5.6 .7 5.4 .7 5.2 .6-3.2 .7 2.6 .7-7.4 .7 2.5 .7 3.6 .6-.5 .7 .6 .7-6.9 .7 11.3 .7-6 .6 4.4 .7-6.7 .7-1.5 .7 6.3 .6 1.8 .7-.4 .7-7.8 .7 9.6 .7-6.8 .6-2.9 .7 4.8 .7-1.3 .7 2.7 .7-1.7 .6 2.4 .7-2.8 .7 2.5 .7-2.3 .7-7.9 .6 6.3 .7-1 .7 .9 .7 1.1 .7 1.9 .6-3 .7 1.9 .7-4.6 .7 2.5 .7 4.1 .6-5.4 .7 1.8 .7 1.2 .7-3.1 .6-.4 .7 1.8 .7-4.6 .7-4.4 .7 2.9 .6 2.5 .7 2.9 .7-.2 .7 2.5 .7-3.1 .6-.1 .7-1.4 .7-2 .7 .6 .7-6.2 .6 4.3 .7-6.9 .7 9.6 .7 1.5 .7-3.3 .6-4.2 .7 2.2 .7 2.5 .7-.1 .7-2.9 .6-4.5 .7 3.5 .7-.1 .7 .9 .6 1 .7-3.8 .7 1 .7-1.4 .7 2.1 .6-2.2 .7 2.3 .7 .4 .7-11.7 .7 7.1 .6 1 .7-1.2 .7 2.8 .7-5 .7-1.9 .6 6.4 .7-6.1 .7-.9 .7 4.9 .7 5.4 .6-5.8 .7 4.7 .7-7.6 .7 5.6 .7-3.8 .6-.8 .7 2.8 .7 3 .7-9.1 .6 6.5 .7 .8 .7-4.2 .7 .8 .7 3.9 .6-3.4 .7-2 .7 .4 .7-2.6 .7 3.7 .6-5.6 .7-2.8 .7 .6 .7 6 .7-4.2 .6 .8 .7 6.1 .7-2.6 .7-3.3 .7-3.4 .6 4.6 .7-1.1 .7 6.3 .7-7.7 .7 2.1 .6-2.8 .7-.4 .7 2.4 .7-11.2 .6 10.4 .7-11.3 .7 5.5 .7 8 .7-6.7 .6 .6 .7-.4 .7 1.8 .7-9.9 .7 11.4 .6-1.5 .7-2.5 .7-12.8 .7 7.2 .7 4.1 .6 1.2 .7-12 .7 3.4 .7 5.5 .7-5.4 .6-3.8 .7 13 .7-7.1 .7-1.3 .7-4.8 .6 5.3 .7-6.1 .7 4 .7-5.5 .6 8.1 .7-16.5 .7 11.3 .7 2 .7 1.6 .6-9.9 .7-1.5 .7 1.2 .7 5.8 .7-8 .6-7.9 .7 14.8 .7-8.3 .7-2.1 .7-8.5 .6 10.7 .7-10.5 .7-1.8 .7 5 .7-1.8 .6-6.7 .7 10 .7-5.4 .7-4.2 .7 6.2 .6-7.7 .7 1.8 .7-4.6 .7 1.5 .6-.9 .7-10.1 .7 8.8 .7-1.3 .7-7.5 .6 3.1 .7-.4 .7-11.9 .7 6.9 .7 1 .6 .3 .7-1.9 .7-3 .7-4.9 .7-6.7 .6 5 .7 1.4 .7 1.3 .7-6.7 .7-.4 .6-6.7 .7 2.4 .7-3.8 .7-1.3 .7-2 .6-.1 .7-9.2 .7 11.4 .7-8.2 .6 1 .7 2.2 .7-2.9 .7-8.1 .7 8.5 .6-1.2 .7-3.9 .7-2.1 .7 3 .7-11.4 .6 3.8 .7 6.5 .7-9 .7-8.7 .7 .9 .6 2.4 .7-2.5 .7-4.3 .7 16.4 .7-20.4 .6 12.5 .7-6.6 .7 3 .7-8.3 .7 5.1 .6-1 .7-2.3 .7 3.2 .7-1.1 .6 1.3 .7-5.7 .7 1.8 .7 6.3 .7-4.8 .6-13.3 .7 10.8 .7 5.3 .7 1.9 .7-2.3 .6-3.8 .7 15.7 .7-10.4 .7 2.4 .7-7.5 .6 7.8 .7-4.7 .7 14.2 .7-2.5 .7-7.2 .6 8 .7-3.8 .7 2 .7 6.7 .7-1.1 .6-3.9 .7 4.2 .7 7.8 .7-.7 .6 1 .7 .1 .7-3.3 .7 12.4 .7-2.4 .6-4.7 .7 6.7 .7 1.4 .7 5.2 .7 2.8 .6-9 .7 4.1 .7 4.1 .7 3.3 .7 2.7 .6-3.4 .7 6.7 .7 1.2 .7 9.3 .7-7.2 .6 6.8 .7-3.7 .7 5.8 .7-.3 .7-4 .6 11.8 .7-1.4 .7 6.5 .7-3.7 .6 1.3 .7 5.8 .7 1.1 .7-8.9 .7 10.8 .6-2 .7 1.2 .7 1 .7 5.8 .7 4.6 .6-6.8 .7 .4 .7 9.7 .7-6 .7 6.7 .6-5.4 .7 2.7 .7 10.5 .7-6.7 .7 5.8 .6 6.9 .7-6 .7 4.7 .7 4.2 .6-6.8 .7 2.6 .7 5.5 .7-2 .7 6.8 .6-5 .7 7.7 .7-1.4 .7 .2 .7-3.3 .6-1.6 .7 10.2 .7-6.2 .7 1.7 .7-1.8 .6 4.1 .7 5.7 .7-1.9 .7 6.1 .7-7.8 .6 .5 .7 .2 .7 3.5 .7 .4 .7 6.9 .6-5.5 .7 4.7 .7-4.6 .7 1.8 .6 .3 .7 8.4 .7-6.9 .7 6 .7-7.5 .6 3.3 .7 2.4 .7-1.9 .7 .5 .7 .9 .6 4.2 .7-2.3 .7 3.4 .7-1.6 .7 2.3 .6-7.8 .7-.5 .7 1.5 .7 3.6 .7 .8 .6-2 .7-2.2 .7 3.3 .7 3 .7 3 .6-8.4 .7-.2 .7 2.9 .7 3.3 .6-8.8 .7 1.6 .7-.5 .7 .1 .7 3.1 .6 4.1 .7-1.8 .7-1.9 .7-3.3 .7 4.6 .6-6.4 .7 6.6 .7-4 .7 .8 .7-2.4 .6 8.5 .7-4.7 .7 .8 .7 .5 .7-9.9 .6 5.9 .7-3.1 .7 7.4 .7-1.8 .7-2.1 .6-2.2 .7-1.1 .7-4 .7 6.3 .6-5.2 .7 2 .7-1 .7 .3 .7 2 .6-6.5 .7 7.3 .7-4.9 .7 4 .7-7.3 .6 4.5 .7 3.2 .7-6.3 .7 5 .7-7.1 .6-.8 .7 1.4 .7 4.4 .7-11 .7 11.5 .6-5.4 .7 3 .7-4.3 .7-2.6 .7-4.3 .6 3.2 .7-1 .7-2 .7-6.8 .6 7.3 .7 3.6 .7-6.4 .7-.3 .7-3.8 .6 3 .7 1.8 .7-9.1 .7 6.5 .7 5.9 .6-9 .7-1.5 .7-1.6 .7-1.6 .7 1.9 .6 .3 .7-8.5 .7 14.3 .7-12.6 .7-1.6 .6 3.6 .7-1.8 .7 2.6 .7-9.3 .7 5.8 .6 1 .7-2.9 .7 5 .7-10.9 .6-2 .7 5.2 .7 3.3 .7-5.8 .7 1.5 .6-10 .7 7.2 .7-2.6 .7 6.2 .7-5 .6-1.6 .7 1.3 .7-5.3 .7 5.4 .7 2.9 .6-.1 .7-5.6 .7 .4 .7-3.1 .7 3.3 .6 .3 .7-1.3 .7-2.1 .7-.1 .7 4.5 .6-4.5 .7 2.2 .7 3.4 .7-2.4 .6 2 .7-4 .7 .1 .7-1.7 .7 2.3 .6 4.1 .7-10.1 .7 5.8 .7 .7 .7 4.9 .6-1.2 .7 0 .7 4 .7 2.9 .7-5.6 .6 1.6 .7 8.5 .7-8.8 .7-5.5 .7 5.7 .6 1.4 .7 .7 .7-1.8 .7 3.7 .7-1.6 .6 1.4 .7 2.5 .7-1.5 .7 7.6 .6 3.5 .7-3.7 .7-.6 .7 2.5 .7-.4 .6-.8 .7-.3 .7 1.6 .7 5.7 .7-.6 .6-7.8 .7 14.2 .7-4 .7-5.3 .7 3.3 .6 3.8 .7 .3 .7 7.6 .7 4.7 .7-10.3 .6 5.7 .7 4.3 .7 .3 .7-4.2 .7 1.2 .6 2.9 .7-5.1 .7 1 .7-.9 .6 1.2 .7 1.3 .7-.2 .7 10 .7-1.5 .6-2.6 .7 5 .7-1.9 .7 1.3 .7-.8 .6 5.9 .7-2.1 .7-1.9 .7 6 .7-2.9 .6 4.2 .7-7.3 .7 5.8 .7-7.7"/>
<path stroke="#B177DE" stroke-width="3.4" d="M331.7 1090.5l.7 63 .7 57.2 .7 36.5 .7 30.9 .6 24.1 .7 2.1 .7 37 .7 13.9 .7 13.2 .6-2.1 .7 21.3 .7 5.7 .7-.1 .7 8.2 .6 22.3 .7-21.1 .7 13.1 .7-1.1 .6 9.1 .7-5.4 .7 21.5 .7 8.5 .7-.8 .6 .2 .7 17.6 .7 .8 .7 2.7 .7 27.6 .6-12.6 .7 7.7 .7 16.1 .7 1.5 .7 6.6 .6-4.6 .7 13 .7-4.5 .7-1.2 .7 23.3 .6-10.5 .7 6.4 .7 5.6 .7-2.8 .6 6.4 .7 11.4 .7-3.2 .7-1 .7 6.7 .6 9.4 .7-24.1 .7 8.1 .7 2.8 .7 8.8 .6 14.5 .7-8.7 .7-3.2 .7 7.3 .7 2.3 .6-3.9 .7-8.8 .7 11.7 .7 2.4 .7 6.1 .6-15.5 .7 11.9 .7 3.3 .7 2.6 .7 2.7 .6-3.4 .7-9 .7 12 .7-3.3 .6 10 .7-4.8 .7 10.5 .7-14.7 .7 11.7 .6-4.6 .7 2.2 .7-5.2 .7 5.5 .7 .8 .6 13 .7-1.7 .7 1.2 .7 .8 .7 .5 .6-8.2 .7 6.2 .7 .7 .7 6 .7 1.2 .6 6.3 .7-14.6 .7 6 .7-2.2 .7 3.5 .6 6.8 .7-3.4 .7 11.4 .7-13.8 .6 4.2 .7-.2 .7 1.4 .7-1.8 .7 5.5 .6-1.1 .7 4.3 .7-1.6 .7-2.2 .7-4.4 .6 9.1 .7 9 .7-.4 .7-7.6 .7 2.8 .6-6.2 .7-4.9 .7 12.3 .7-10.1 .7 .7 .6 11.1 .7-2.3 .7-5.5 .7 7.8 .7 3.5 .6-12.7 .7 8.8 .7 .4 .7-6.3 .6 2.8 .7-.6 .7-6 .7 .7 .7 15 .6-13.2 .7 4.5 .7-1.6 .7-2.5 .7-4.9 .6 4.9 .7 4.6 .7-2.8 .7 9.7 .7-10.2 .6 1.5 .7 7 .7 1.1 .7 2.4 .7-5.3 .6-6.9 .7 3.6 .7 2.5 .7-2.1 .7-7.7 .6 7.6 .7 2.4 .7-15 .7 14.8 .6-6.7 .7-2.1 .7 3.4 .7 1.7 .7-7.6 .6 5.5 .7-2.7 .7 3.1 .7-8.6 .7 12.4 .6 1.4 .7-2.2 .7-3.9 .7 .4 .7-2.6 .6 3.9 .7-5.9 .7 9 .7-1.1 .7-5.1 .6 1.9 .7 .3 .7-1.4 .7 .5 .7-5.2 .6-2.3 .7-2.9 .7 5.3 .7 4.1 .6 1.7 .7-.1 .7 2.4 .7-12.4 .7-4.2 .6 8.9 .7-1.9 .7 12.1 .7-10.7 .7 2.7 .6-3.5 .7 6 .7-.6 .7-1.1 .7-1.2 .6-13.4 .7 6.6 .7 10.5 .7-6.1 .7 .6 .6-12.2 .7 23.1 .7-16.2 .7-1.1 .7-6.7 .6 2.1 .7 9.3 .7 7 .7-3 .6-1.8 .7-2.4 .7 2.2 .7 3.3 .7-10 .6 2.3 .7 2.6 .7 .3 .7 .7 .7 1.9 .6-18 .7 14.3 .7 1.2 .7-10.8 .7 9.4 .6-3.5 .7 6.6 .7-3.2 .7 7.1 .7-11.7 .6-8.2 .7 9.1 .7-.7 .7-4.2 .7 0 .6 10.3 .7-.7 .7-2.2 .7-8.2 .6 12.4 .7-2 .7-2.5 .7-1.8 .7-1 .6 3.7 .7-8.9 .7 10 .7-14.4 .7 9.5 .6-2.5 .7 9.8 .7-8.1 .7 8 .7 1.1 .6-11.4 .7 4 .7 5.8 .7 4.5 .7-14.1 .6 3.6 .7-4 .7-.8 .7-1 .7 17.4 .6 5 .7-20 .7 17.5 .7-19.8 .6 3.7 .7 2.1 .7 .3 .7 7.8 .7-7.7 .6 .4 .7-2.9 .7-8.2 .7 14.2 .7-9.1 .6-4.2 .7 12.9 .7 .7 .7-.4 .7 1.9 .6 2.6 .7-11.8 .7-4.6 .7 4.7 .7 5.9 .6 .2 .7-4.4 .7 5.1 .7-3.1 .7 1.9 .6-7.4 .7 1.4 .7 2.4 .7 9.2 .6-5.9 .7-6.4 .7-5.5 .7 11.9 .7-16.1 .6 15.4 .7 0 .7-3.8 .7 5.1 .7-3.5 .6-.5 .7 2.9 .7-.9 .7-4.3 .7-3.6 .6-5.2 .7 10.6 .7 8.4 .7-5.1 .7 6 .6-8.8 .7 4 .7-5.3 .7 3 .7-1.3 .6 2 .7-10 .7 21.8 .7-19.6 .6-.3 .7 2.8 .7 1.8 .7-.9 .7 4.4 .6 3.3 .7-9.7 .7 .3 .7-1 .7 5.4 .6-6.2 .7 2.2 .7-6.5 .7 9.7 .7 11 .6-5.5 .7-8.5 .7 10.2 .7-10.9 .7 7.4 .6-4.5 .7-1 .7 5.9 .7-6.6 .7-4.2 .6 8.8 .7-1.3 .7 1.3 .7-6.7 .6-2.1 .7 8.4 .7-1.5 .7-6.7 .7 3.8 .6-8.9 .7 8.9 .7 2.9 .7 2.8 .7-3.3 .6 9.8 .7-15.2 .7-7.8 .7 16.9 .7-1.2 .6-1.6 .7-4.7 .7 3.1 .7-9.8 .7-1.4 .6 8.8 .7-2.6 .7 2.4 .7-7.7 .6-6.4 .7 17.2 .7-5.7 .7 3.2 .7-8.6 .6-.2 .7 6.5 .7-3.1 .7-13.4 .7-4.3 .6 20.6 .7-4.9 .7 2 .7-4.5 .7 8.3 .6-9.1 .7-2.5 .7-1.1 .7 14.6 .7-17.6 .6 15 .7 2.8 .7-13.5 .7 1.7 .7 5.3 .6-4.7 .7 1.5 .7 2.3 .7 8 .6-2.8 .7-2 .7-8.8 .7 1.6 .7 9.5 .6 4.2 .7 .3 .7-8.3 .7 8.7 .7-14 .6 10.7 .7 .8 .7-2.3 .7 4.2 .7 5 .6-4.6 .7-1.1 .7 6.1 .7-1.9 .7-.5 .6 9.7 .7-5.2 .7-2.9 .7 5.4 .7-8 .6 0 .7 14.3 .7-8.1 .7-5 .6 4.1 .7-4 .7-.3 .7 11.2 .7-8.8 .6 6 .7 7.5 .7-15.5 .7 8.1 .7-3.1 .6-3.8 .7-1.4 .7 6.5 .7 5.5 .7-3.2 .6-8.5 .7 7.3 .7-10.5 .7 1.3 .7 11.3 .6-12.4 .7 12.2 .7-2.3 .7-.3 .7 5.1 .6-5.6 .7-2.7 .7-8.4 .7 1.4 .6 13 .7-4.4 .7-4.2 .7 6.4 .7 3.5 .6-3.5 .7 5.1 .7-6.1 .7 3 .7-8.6 .6 7.1 .7 5.1 .7-9.9 .7 5.4 .7 4.8 .6-8.1 .7 5.5 .7 4.7 .7-2.7 .7-11.5 .6-5.2 .7 13 .7-4.1 .7 10.6 .7-13.1 .6 5.1 .7-3.7 .7 4.3 .7-1.3 .6 8.2 .7-10.6 .7 4.9 .7-4.3 .7-6.8 .6 20.8 .7-17.8 .7 3.3 .7 .2 .7-4.6 .6 8.4 .7 7.3 .7-6.4 .7-1.2 .7 10 .6-14.6 .7-.6 .7 9.2 .7-6.2 .7 0 .6 .1 .7 .2 .7-5.5 .7 4.2 .7-9.4 .6 9.1 .7-5.5 .7-.6 .7 14.8 .6-9.2 .7-1.9 .7 0 .7 .5 .7-4 .6 1.7 .7 5.7 .7-10 .7 9.5 .7-3 .6 4.7 .7 3.9 .7-1.1 .7-13.4 .7 3.6 .6 7.2 .7-7.1 .7 8.5 .7-.8 .7 4.8 .6-6.9 .7-5 .7-9.8 .7 14.1 .7-3 .6-.7 .7-2.7 .7 8 .7 2.3 .6-10.4 .7 10.8 .7-9.1 .7 5.2 .7-2.9 .6-2.4 .7 11.5 .7-20.3 .7 18.1 .7-1.2 .6-8.8 .7 18.8 .7-11.6 .7-5.8 .7 4.2 .6-1.8 .7 .6 .7-.3 .7 .5 .7-12 .6 6.8 .7 11.5 .7-6.8 .7-6.2 .7-2.5 .6 13.9 .7-6.5 .7 11.9 .7-9.1 .6-12.1 .7 5.2 .7 5.3 .7 4.1 .7-4.9 .6-1.2 .7-1.1 .7-2.6 .7 3.3 .7 14.6 .6-10.7 .7-1.4 .7 3.7 .7-13.2 .7 12.9 .6-8.5 .7 .7 .7 .7 .7 .9 .7 4.3 .6-5.2 .7-4.1 .7 9.9 .7-12.7 .7 12.5 .6-10.3 .7 6.1 .7-13.7 .7 3.6 .6-.4 .7-2.4 .7 12.4 .7 23.3 .7-16.5 .6-1.8 .7-13 .7 1.6 .7 13.4 .7-12 .6 6.2 .7 .4 .7-4.2 .7 8.4 .7-11.6 .6 .9 .7-6.3 .7 4.2 .7 2.7 .7-4.4 .6 6.8 .7-1.6 .7 7.1 .7-2.8 .7-3.7 .6-7.8 .7-1 .7-.2 .7 10.7 .6-2 .7 4.4 .7 3.7 .7-13.5 .7 12.4 .6-11.3 .7 6.7 .7-2 .7-6.8 .7 10.1 .6-7.6 .7 7.7 .7-4.5 .7 .4 .7-1.5 .6 10.8 .7-8.7 .7-3.4 .7 5.9 .7-7.1 .6 .3 .7 3.1 .7 1.9 .7-3.4 .7 7 .6-8.4 .7 1.8 .7-6.6 .7 7.6 .6 4.8 .7-7.2 .7 3.7 .7-9.9 .7 13.1 .6-1.7 .7-2.2 .7 .1 .7-2.2 .7-18.1 .6 19.4 .7-8.2 .7 10.4 .7-.1 .7-2.8 .6-9 .7 7 .7-.9 .7 5.2 .7-2.4 .6-13.1 .7 18.8 .7 10.3 .7-15.5 .6 4.4 .7 1.8 .7 4.1 .7-13.5 .7 2.2 .6 1.4 .7-6.3 .7-1.2 .7 4.8 .7-4 .6 12.4 .7-9.8 .7 7.5 .7-5 .7-8.6 .6 8.2 .7-10.7 .7 3.4 .7 2.3 .7 10.6 .6-6.8 .7-2.2 .7-2.5 .7 4.8 .7 7.7 .6-12.8 .7 13.2 .7-4.4 .7-29.1 .6-19.9 .7 24.2 .7 12.9 .7 12.5 .7-8.5 .6 1.1 .7-1.8 .7-2.2 .7 2.5 .7-7.6 .6 15.2 .7-8.9 .7 .9 .7 7.9 .7-8 .6 1.8 .7 4.1 .7-8.5 .7 3.6 .7-6.4 .6 7 .7-9.8 .7 5 .7 .2 .7-3.9 .6-6 .7 11.3 .7-1.4 .7 .9 .6-2 .7 11.6 .7-18.7 .7-1 .7 1.2 .6 7.4 .7 9 .7-3.2 .7-6.3 .7 3 .6 5.9 .7-5.4 .7 5.7 .7-1.6 .7-8.7 .6 5.7 .7 2.3 .7-2.2 .7-1.1 .7-6.5 .6-2.4 .7 .7 .7 6.5 .7 0 .7-12.6 .6 9 .7 3.5 .7-7.8 .7 10.5 .6-14.1 .7-1.3 .7 5.4 .7 20.4 .7-18 .6-2.2 .7 2.1 .7-11.9 .7 18 .7-.9 .6-8.4 .7 5.9 .7-8.1 .7 9 .7 5.2 .6 1.6 .7-4.3 .7 1.9 .7-6.4 .7 2.9 .6 12.3 .7-14.6 .7 8 .7 7.6 .7-19.7 .6 12.2 .7-.9 .7-1.8 .7 9.9 .6-6.7 .7 .4 .7 5.1 .7-4.1 .7-3.4 .6 5 .7 12.6 .7-8.1 .7-4 .7-4.9 .6 3 .7 3.6 .7 8.4 .7-9 .7-8.9 .6 12.5 .7 2.5 .7-2.5 .7-2.4 .7 5.7 .6-2.6 .7 6.2 .7-3.7 .7-1.2 .7 2.7 .6 2.7 .7-13.7 .7 8.5 .7-3.5 .6 11.6 .7-6.4 .7 .9 .7-11.8 .7 6.1 .6 4.9 .7-3.5 .7 1.9 .7-2.2 .7 11.7 .6 3.4 .7-10.9 .7-.5 .7-.1 .7-7.1 .6 8.4 .7-1.4 .7 2.8 .7 6.5 .7-3.1 .6-2.2 .7-2.7 .7-8.7 .7 5.1 .7 3.6 .6 8 .7-12.4 .7 5.8 .7 9.9 .6-13.6 .7 .2 .7-1.3 .7 .9 .7 5.3 .6-3 .7 3.8 .7-3.9 .7-2.8 .7-.5 .6 6.3 .7-11.6 .7 8.3 .7 10 .7-17.7 .6 1.9 .7-2.1 .7 7.1 .7 1.2 .7 1.9 .6-7.1 .7-.8 .7 .3 .7-.4 .7 7.6 .6-4.7 .7-2.1 .7 3.5 .7-9.3 .6 19.4 .7-12.8 .7 4.1 .7-2.1 .7-.1 .6 1.1 .7-1.7 .7 1.2 .7 6.3 .7-10.2 .6 .1 .7 8.8 .7-8.3 .7 2.5 .7-2.2 .6 1.9 .7 4.3 .7-6.2 .7 10.7 .7-16.5 .6 13.5 .7-2.4 .7-7.1 .7 3.5 .7-4.3 .6-5.5 .7 5.8 .7 4.2 .7 6.5 .6-6.9 .7 4.6 .7-6.3 .7 15.3 .7-10.6 .6-1.1 .7 2 .7-8.2 .7-.8 .7 13.8 .6-16.4 .7 8.3 .7-3.4 .7-1.3 .7 4.2 .6-2.4 .7-2.8 .7 6 .7-4.4 .7-3.6 .6 5.1 .7 .3 .7 1.1 .7 .3 .7-1.5 .6 8.2 .7-9.5 .7 2.9 .7-5.1 .6-7.1 .7 3.8 .7 6.6 .7-5 .7 2.4 .6 3.8 .7-7 .7-3.1 .7 2.3 .7 2.6 .6 5.1 .7-3.6 .7-4.7 .7 1.5 .7-2.8 .6 6.3 .7 10.3 .7-17.9 .7 .7 .7-4.1 .6 .1 .7 2.5 .7 6.7 .7 4.6 .7-4.1 .6 .9 .7 2.5 .7-5.2 .7-7.4 .6 7.9 .7-3.9 .7-3.2 .7 7.6 .7-3 .6 1.4 .7 4.1 .7-10.8 .7-1.6 .7-.4 .6 3.7 .7 4.3 .7-11.4 .7 16 .7-11.2 .6 2.5 .7 4.5 .7-12 .7-3 .7 9.5 .6 0 .7-3.5 .7 1.9 .7-11.8 .7 15.1 .6-1.4 .7-6.6 .7 4.5 .7-.2 .6-1 .7-2 .7-6.9 .7 10.6 .7-10.3 .6 9.1 .7-.1 .7-10.3 .7 1.6 .7-2.3 .6-.8 .7 7 .7 1.4 .7-7 .7 6 .6-4.4 .7-10.1 .7 15.3 .7-1.5 .7-10.4 .6-1.4 .7 5.6 .7-3 .7 2.9 .6 .2 .7-4 .7-3.7 .7 10.9 .7 .5 .6-10.3 .7 3.8 .7-7.4 .7 2.7 .7 1.7 .6-2.6 .7-16.7 .7 15.9 .7 2.7 .7 4.2 .6-12.4 .7-9.1 .7 10.3 .7-.4 .7 .5 .6-2.7 .7 2.2 .7-5.1 .7 .5 .7 .3 .6-9.2 .7 12.8 .7-3.2 .7 2.1 .6-4 .7-2.4 .7-13.6 .7 14 .7-.8 .6-2.5 .7 4.7 .7-4.9 .7 9.4 .7-15.3 .6-.9 .7-1.3 .7-5.6 .7 4.3 .7-3.9 .6 2 .7 2.1 .7-2.1 .7-2.7 .7-.5 .6 10.4 .7-2.3 .7-3.1 .7 2.4 .7-4.2 .6 .3 .7 .6 .7-6.8 .7-8 .6-2.2 .7-2.2 .7 .3 .7 20.9 .7-29.6 .6 11.9 .7 9.1 .7-4.7 .7-2.9 .7 .9 .6-11.8 .7 6.3 .7-13.9 .7 .6 .7 18.9 .6-8.4 .7-9.2 .7 1.7 .7 1.7 .7-1.1 .6 1 .7-.1 .7-10 .7 4 .7 3.9 .6 5.1 .7-14 .7 1.6 .7 13.5 .6-17.6 .7 6.9 .7-9.4 .7 .7 .7-9.1 .6 12.8 .7-22.7 .7 11.6 .7-12.7 .7 8.4 .6 .8 .7 4.5 .7-23.7 .7 6.7 .7 5.7 .6 2.2 .7-.6 .7-1.7 .7-4.9 .7 5.3 .6-3.4 .7-7.1 .7 3.3 .7-.8 .7-11.6 .6-4.3 .7 3.1 .7 .8 .7-1.1 .6 .6 .7-2.9 .7-3.8 .7 7.3 .7 1.1 .6-5.6 .7-1.6 .7-10.1 .7-3.9 .7 3.2 .6 9.7 .7-4.3 .7 1.4 .7-13.4 .7-7.1 .6 9.2 .7-6.1 .7-6.3 .7-.4 .7-6.4 .6 4.2 .7-3.1 .7-3.2 .7-13 .7 6.5 .6-9.6 .7 5.8 .7-11.1 .7 3.8 .6 5.4 .7 .3 .7-21.2 .7 10.1 .7-9 .6 6.8 .7-15.9 .7 4.2 .7-22.2 .7 14.2 .6-14.5 .7-18.3 .7 4.3 .7 1 .7 10.7 .6-24.1 .7-7.3 .7 11.5 .7-8.1 .7-.5 .6-2.5 .7-12.3 .7-8.7 .7-4.9 .7-16.4 .6 2.8 .7-3.4 .7-15.2 .7 11.1 .6-13.6 .7-10.5 .7-10.6 .7 8.2 .7-30.3 .6 16.8 .7-14.6 .7-16.1 .7 1.8 .7-12.9 .6-14.8 .7-8.6 .7-5.8 .7-8.3 .7-12.7 .6-2.2 .7-20.4 .7-3.8 .7-9.7 .7-18.7 .6-10 .7-9.7 .7-12.3 .7-10.2 .7-6.3 .6-12.4 .7-22.6 .7-11.6 .7-9.9 .6-17.9 .7-6.5 .7-13.3 .7-20.4 .7-6.4 .6-14 .7-18.4 .7-10.5 .7-20.4 .7-18 .6-7.3 .7-19 .7-18.2 .7-9.6 .7-17.7 .6-18.3 .7-7.1 .7-21.5 .7-16.2 .7-9.2 .6-10 .7-16 .7-15.8 .7-20.5 .7-11.8 .6-8.9 .7-8.4 .7-16.6 .7-17.5 .6-1.1 .7-17.6 .7-11.2 .7-11.2 .7-8 .6-8.4 .7-7.1 .7-4.8 .7-5.6 .7-.4 .6-3.8 .7 .8 .7-10.4 .7 9.3 .7-9.5 .6 10.8 .7-4.5 .7 7.6 .7-2.9 .7 8.7 .6 10.3 .7 .7 .7 9.6 .7 16.8 .7 6.5 .6 6.2 .7 21.7 .7 12.5 .7 8.5 .6 8.1 .7 24.1 .7 11.6 .7 15 .7 8.2 .6 18.5 .7 17.9 .7 20.9 .7 16.2 .7 8.1 .6 14.3 .7 22.7 .7 18.9 .7 7.1 .7 26.1 .6 16 .7 7.5 .7 16.2 .7 13.4 .7 22.8 .6 12.2 .7 16.3 .7 10.6 .7 17.1 .7 13.7 .6 12.7 .7 14.9 .7 17.6 .7 6 .6 13.5 .7 12 .7 18.7 .7 9 .7 10.4 .6 16.7 .7 3 .7 18.4 .7 10.7 .7 .2 .6 19.8 .7 5.1 .7 10.9 .7 12 .7 7.6 .6-.2 .7 8.2 .7 17.1 .7-2.1 .7 16.6 .6-3.7 .7 25.7 .7 4.7 .7-3.1 .7 9.1 .6-1.9 .7 5.3 .7 9.7 .7 11.7 .6 .5 .7 9.8 .7 20.2 .7-20.5 .7 24.3 .6 1.4 .7-6.8 .7-.9 .7 8.8 .7 12.5 .6-18.8 .7 28.1 .7-17.3 .7 23.8 .7-6.8 .6-1.5 .7 6.4 .7 7.6 .7-3.8 .7 4 .6 12.4 .7-16 .7 11.7 .7 1.2 .6 10.7 .7-8.8 .7-4.5 .7 8 .7 3.3 .6-1.3 .7 8.2 .7-4.9 .7 9.7 .7-11.2 .6 1.4 .7 3.2 .7 .7 .7 2.2 .7 9.4 .6-.5 .7-6.8 .7 7.3 .7 .6 .7 1.3 .6-9.4 .7 2.4 .7-3.3 .7-5.9 .7 8.4 .6 5.7 .7-5.7 .7-6 .7-1.3 .6 8.5 .7-5.2 .7 10.3 .7-1.7 .7 6.7 .6-16.1 .7 10 .7-6.8 .7-3.8 .7 8.1 .6 1.6 .7-17.9 .7 1.7 .7-3.9 .7 4 .6-13.1 .7 8.7 .7 10.9 .7-14.1 .7 .8 .6 8.1 .7-4.3 .7-9 .7 15.4 .7-16.3 .6 9.6 .7-17.8 .7-2.5 .7 13.1 .6-3.7 .7-6.1 .7-4 .7 2.4 .7-14.9 .6 3.7 .7 7.8 .7-14.6 .7 4.5 .7-8.4 .6-10.6 .7 11.7 .7-10.8 .7 .8 .7-6.1 .6-13.7 .7-7.6 .7 24.9 .7-29.9 .7-1.1 .6 10.5 .7-16 .7 5.9 .7-10.9 .7 13.7 .6-30.5 .7 20.5 .7-4.7 .7-19.7 .6-11.2 .7 3.5 .7-12.7 .7-9 .7 1.6 .6-15.1 .7-3.6 .7 6 .7-5 .7-8.5 .6-9 .7-12.3 .7-7.2 .7 2.3 .7-17.4 .6 1.8 .7-8.1 .7-8.4 .7-18.3 .7 .4 .6-16.6 .7-7.7 .7-6.6 .7-13.4 .7-5.7 .6-15.3 .7-7.8 .7-16.8 .7-1.5 .6-19 .7-7.1 .7-18.9 .7-12.2 .7-8.6 .6-16.4 .7-3.8 .7-15.9 .7-19.1 .7-3.5 .6-22.4 .7-13.6 .7-12.3 .7-10.8 .7-12.7 .6-6.6 .7-18.5 .7-6.4 .7-11.9 .7-17 .6-15.1 .7-.9 .7-18.6 .7-3.7 .7-5.1 .6-14.3 .7-6.8 .7-2.2 .7-6.2 .6-8.6 .7 5.3 .7 .1 .7-3.5 .7-3.6 .6 4.6 .7-2.1 .7 6.3 .7 4.2 .7 10.9 .6-2.5 .7 16.8 .7-1.7 .7 18.4 .7 9.4 .6 7.4 .7 4.6 .7 20 .7 4.2 .7 18.5 .6 17.8 .7 5.8 .7 19.6 .7 16.4 .7 8.6 .6 18.5 .7 15.8 .7 18.1 .7 12.5 .6 26.5 .7 13.9 .7 18.6 .7 16.9 .7 19.6 .6 14.1 .7 14.9 .7 18.7 .7 21.2 .7 17 .6 11.5 .7 20.7 .7 11.7 .7 17.2 .7 11.1 .6 22.7 .7 6.4 .7 23.3 .7 8.1 .7 15.4 .6 12 .7 28 .7 5 .7 20 .7 1 .6 18.5 .7 10.5 .7 18.6 .7 1.4 .6 5.6 .7 13.3 .7 6.4 .7 5 .7 12.5 .6 5.3 .7 23.3 .7 4.5 .7 9.5 .7-1.8 .6 1.6 .7 6.8 .7 8.4 .7 12.8 .7 2.4 .6 15.4 .7 .6 .7-3.4 .7 6.7 .7 1.2 .6-1.6 .7 9.9 .7 2.8 .7 4.6 .7-10.9 .6 12.6 .7 2.6 .7-3.2 .7 4.5 .6 7.1 .7 3.8 .7-3.6 .7 .7 .7-.5 .6 5.3 .7 7.2 .7 7.6 .7-4.9 .7-3.7 .6 1.8 .7 3.9 .7 2.2 .7-1.1 .7-2.6 .6 3 .7 8.7 .7-3.1 .7-5.9 .7 8.3 .6-5 .7 6.5 .7 7.7 .7-15.3 .7 6.8 .6-4.5 .7 6.3 .7-2.3 .7-6.3 .6 4.5 .7 3.1 .7-.7 .7 6.4 .7-7.9 .6-2.5 .7-3.6 .7 13.9 .7-1.2 .7 .1 .6 .2 .7 3.6 .7-2.9 .7-4 .7 6.1 .6-9.8 .7 15.9 .7-4.7 .7-3.7 .7 1.5 .6 2.6 .7-9.1 .7-.1 .7 3 .7 2.5 .6 5 .7 2 .7-8.7 .7-1.4 .6 1.4 .7 2.3 .7 .8 .7-.1 .7-5.3 .6 12.4 .7-3.2 .7-2.9 .7-1.5 .7 2.8 .6-3.2 .7 2.1 .7 2 .7 2.4 .7 2.5 .6-5.7 .7-5.5 .7 .7 .7 13 .7-7.5 .6 3.5 .7-3.3 .7 6 .7-14 .7 13.5 .6-1.4 .7-8.2 .7-1.3 .7 8.4 .6 5.9 .7-10.9 .7 2.8 .7 1.8 .7 0 .6 3.8 .7-4.8 .7 3.3 .7-5.3 .7 3.9 .6-8.4 .7 5.5 .7-.3 .7 4 .7-7.2 .6 4.7 .7 4.1 .7 3.5 .7-7.1 .7 1.5 .6-6.4 .7 2.1 .7 4.5 .7 6.5 .6-10.2 .7-4.9 .7 6.3 .7 2.7 .7-3.1 .6 5.1 .7-5.5 .7 7.8 .7 2.8 .7-4.1 .6-6.3 .7 5.8 .7 4 .7-8.2 .7 2.5 .6-4.8 .7-7 .7 5.3 .7-.4 .7 2.7 .6 5.7 .7-1.4 .7 2.4 .7-7.1 .7 2.4 .6 .4 .7-1.5 .7 3.2 .7-6.2 .6 8.6 .7-15.1 .7 6.3 .7 1.5 .7-1.1 .6 .8 .7-.6 .7 7.4 .7-3.9 .7-2.6 .6 3.2 .7-.9 .7 1.6 .7-6.2 .7 3 .6 5 .7 3.7 .7-6.3 .7-5.6 .7 9.2 .6-4.9 .7 .2 .7-3.6 .7 1.2 .7-.1 .6 3.1 .7 1.7 .7-1.7 .7-.3 .6 1.4 .7-2.3 .7 5.2 .7-10 .7 6.4 .6 2.3 .7-4.1 .7 5 .7-.3 .7-1.9 .6-.7 .7-.2 .7 2.6 .7-9.5 .7 14.5 .6-5.7 .7-5.9 .7 5.1 .7 1 .7 2.9 .6-8.5 .7 6.9 .7-2.8 .7-.4 .7 6 .6-5.7 .7 .4 .7-2.1 .7 8.1 .6-4.6 .7 1.4 .7 .6 .7-11.4 .7 5.8 .6 2.1 .7 2 .7 2.5 .7-4.3 .7 4.5 .6-3.7 .7-5 .7 3.5 .7-4.8 .7 9.4 .6-3.8 .7-7.5 .7 12.5 .7-3.5 .7-7.2 .6 7.8 .7 .6 .7-2 .7 4.1 .7-6.1 .6 9.7 .7-17.2 .7 6.7 .7 7.2 .6-7 .7 1.4 .7-.7 .7-7 .7 7.2 .6 1.4 .7-1.9 .7 4.7 .7-.7 .7-5.2 .6-5.3 .7 7.5 .7-4.6 .7-4.7 .7 8.7 .6 2.2 .7-5.6 .7 9.1 .7-3.8 .7 .8 .6-.8 .7-4.1 .7 16.9 .7-8.5 .7-7.3 .6 1.2 .7-4.3 .7 9.3 .7-8.3 .6 1.4 .7 2.3 .7-3.1 .7 5.5 .7-.6 .6-1.1 .7 5.6 .7-6.2 .7 5.3 .7-12.2 .6 4.5 .7-12.3 .7 12 .7 8.2 .7-10.7 .6 7.3 .7-8.3 .7-1.4 .7 14.5 .7-10.1 .6 4.9 .7-1.9 .7-6.2 .7 .9 .7 1.9 .6 6.2 .7-.6 .7-1.6 .7-3.1 .6 1.1 .7 7 .7-1 .7-5.5 .7-4.7 .6 5.4 .7 3 .7-3.9 .7 3.4 .7-3 .6-4.2 .7 10.2 .7-4.9 .7-1.7 .7-.1 .6 0 .7-.3 .7 1 .7-3.2 .7 7.2 .6-3.2 .7-1.7 .7-1.5 .7-1.1 .7 .1 .6 10.6 .7-7.8 .7-4.6 .7 8.1 .6 1.6 .7-10 .7 11 .7-3.3 .7-2.3 .6 1.7 .7 1.5 .7 .8 .7-7.6 .7 4.8 .6 1.6 .7 2.5 .7 .6 .7-4.2 .7-1.5 .6 9.5 .7-3.9 .7-4.5 .7-2.3 .7-3.7 .6 3.5 .7 3.4 .7-1 .7 3.6 .7-3.9 .6-.8 .7 5.8 .7-4.5 .7-1.1 .6-.3 .7-1.8 .7-1.5 .7 10.8 .7-5.6 .6-5.9 .7 3.3 .7 3.1 .7 .3 .7 .2 .6-3.6 .7-4.9 .7-1.7 .7 12.9 .7-5.4 .6 1.6 .7 1.3 .7-7.6 .7 7 .7-3.8 .6 .9 .7 2.2 .7-9.6 .7 6.8 .7-4.7 .6 6.8 .7 1.3 .7-4.5 .7 4.3 .6-7.3 .7 2.6 .7-.3 .7 4 .7-3.4 .6 1.9 .7-1.6 .7 4.9 .7-5.5 .7 7.4 .6-10.4 .7 .3 .7 4 .7-2.5 .7-1.4 .6 1.9 .7 1.9 .7 4.2 .7-10 .7 8.1 .6 .3 .7-6.6 .7 3.1 .7 5 .7-3 .6-3.6 .7-2.1 .7 4.1 .7 1.6 .6-1.3 .7 6 .7-5.9 .7 2.9 .7-5.9 .6 10.3 .7-3.7 .7 1.4 .7-3.8 .7-7.9 .6 9.9 .7-.4 .7-2.3 .7-2 .7 5.2 .6-8.3 .7 6 .7 2.4 .7 1.4 .7 0 .6-1.5 .7-5.3 .7 1.9 .7-2.1 .6 2.9 .7 1.7 .7 3.2 .7-2.7 .7-4.7 .6-2.4 .7 8.7 .7-4.4 .7-1.2 .7 8.6 .6-11.3 .7 .1 .7-.5 .7-7 .7 14.9 .6 .7 .7 .9 .7-8.2 .7 3.3 .7-2.9 .6 7.6 .7-.3 .7-6.5 .7 .1 .7 7.3 .6-4 .7 3.5 .7 .1 .7 2.1 .6-11.8 .7 3.9 .7-.2 .7 1.2 .7-2.2 .6 1 .7 8.2 .7 .3 .7-5.1 .7 .1 .6-4.5 .7 2.9 .7-3 .7 3 .7 .4 .6 4.4 .7-2 .7-.2 .7-4.2 .7 .9 .6 3 .7-5.4 .7-2 .7 7.2 .7-4.4 .6-2.7 .7-4.5 .7 10.9 .7-4.2 .6-.6 .7 11.6 .7-3.9 .7-6.9 .7 1 .6 2.2 .7 .7 .7 1.1 .7 6.9 .7-7 .6-8 .7 5 .7-3.3 .7 8.1 .7-4.3 .6-.8 .7-.8 .7 2 .7 .9 .7-6.9 .6 8.9 .7-10.5 .7 5.4 .7 2.8 .7-2.6 .6 1.6 .7-.6 .7 5.5 .7-5.5 .6 .6 .7-3.4 .7 4.4 .7 4.2 .7-6.2 .6-.9 .7 13.7 .7-9.7 .7-2 .7 7.1 .6-6.9 .7 2.2 .7-5.9 .7 11.2 .7-8.4 .6-1.7 .7 7.1 .7 4.3 .7-4.3 .7-1.2 .6-.9 .7 6.7 .7-4.9 .7-.6 .7-4 .6-4.5 .7 7.4 .7-.8 .7-.1 .6 4.5 .7-11.6 .7 8.4 .7-3.8 .7-6.8 .6 12.5 .7-5.3 .7 9.6 .7-9 .7-1.6 .6 2.9 .7 1.6 .7-12.5 .7 7.1 .7 4.2 .6 3.2 .7 .6 .7-.5 .7-1.1 .7-.3 .6-1.3 .7 3.4 .7-5.1 .7-1.2 .7-3.9 .6 11.6 .7 .9 .7-5.2 .7-1.9 .6-2.8 .7 6.8 .7-9.2 .7 5.9 .7-.4 .6 1.3 .7-5.8 .7 3.8 .7-1 .7 2 .6 4.5 .7-5 .7 1.5 .7 2.2 .7-4.9 .6 4.2 .7-5.6 .7 1.7 .7-5.1 .7 11.3 .6-4.4 .7 7.3 .7-13.1 .7 7.4 .7-4.6 .6 .6 .7-2.1 .7 8.5 .7-1.6 .6 3.9 .7-4.9 .7 .8 .7-1.1 .7-.5 .6 5.6 .7-8.1 .7 .6 .7-4.7 .7 7.6 .6-1.8 .7-1.5 .7-2.3 .7 11 .7-8.7 .6 10.6 .7-12.4 .7 4.4 .7-1.7 .7 3.6 .6 4.3 .7-8.2 .7-6 .7 2 .7 14.5 .6-9.4 .7 1.7 .7-2.2 .7 2 .6-5 .7 3.2 .7-.3 .7 .2 .7 1.4 .6 1.7 .7-1.1 .7-5.3 .7 .1 .7 5.2 .6-3.2 .7 3.2 .7-1.1 .7-3 .7 2.5 .6 3.7 .7-4 .7 1.7 .7 6.4 .7-10.9 .6 2.7 .7 3.7 .7-1.4 .7-5.4 .7 3.7 .6 4.3 .7-2.2 .7-11.7 .7 6.7 .6 7.3 .7-.8 .7-.4 .7-2.6 .7 2.5 .6-4.8 .7-.6 .7 5.1 .7-5.9 .7 8.9 .6-7.2 .7 .2 .7-2.2 .7 8.3 .7-2.9 .6-1.4 .7 2.9 .7-9.3 .7 10.1 .7 1.5 .6-10 .7 6.9 .7-.4 .7-3.7 .7 6 .6-1.5 .7-1 .7-4 .7 .2 .6 5.8 .7-2 .7 1.4 .7-4.7 .7 6.2 .6-5.7 .7 .7 .7-3.2 .7 .6 .7 1.7 .6 4.2 .7 5.1 .7-10.3 .7 1.2 .7 4 .6 .9 .7-4.1 .7 1.3 .7 2 .7-.4 .6 2.9 .7-1.9 .7-2.4 .7 3.4 .7 .7 .6-.3 .7-3.1 .7-1.3 .7-1.4 .6 1.7 .7-1.2 .7-4.9 .7 1.2 .7 4.6 .6 6.7 .7-3.1 .7-.8 .7 2.6 .7 2.2 .6-9.4 .7 3.8 .7-.3 .7 .6 .7-2.3 .6 1.8 .7-3.7 .7 9 .7-2.6 .7-7.3 .6 2.7 .7-4.3 .7 9.2 .7-8.9 .7 4.7 .6-4 .7 5.3 .7-1.9 .7 6.9 .6-3.8 .7-1.6 .7 2.2 .7-2.4 .7-1.3 .6-1.7 .7 7.4 .7-7.2 .7 1.3 .7 .6 .6-.3 .7 4 .7-5.6 .7 8.1 .7-2.2 .6-5.4 .7-.2 .7 7.6 .7-9.2 .7 5.5 .6-7.2 .7 7.4 .7-1.6 .7 .1 .6-.3 .7-5.7 .7 .4 .7 4.4 .7-.8 .6-3 .7 2.4 .7-.4 .7-.8 .7 .4 .6 9.7 .7-2.9 .7-11.6 .7 2.6 .7 1.8 .6-2.9 .7 10.7 .7-6.6 .7-4.4 .7 3.2 .6-2.8 .7 6.7 .7-.9 .7-5.9 .7 5 .6-7.5 .7-.8 .7 10.6 .7-4.1 .6-2.9 .7-1.7 .7 15.1 .7-11.5 .7-5.8 .6 2.5 .7 5 .7-9.9 .7 3.6 .7 1.8 .6 2.9 .7-4.3 .7 3.6 .7-4.8 .7 6.2 .6-2.9 .7-6 .7 6.8 .7-5.8 .7 2.9 .6 3.9 .7-7.6 .7 9 .7-4.4 .7 3.6 .6-9.2 .7 2.3 .7 2.3 .7-7.6 .6 9.1 .7-5.2 .7 2.1 .7-2.4 .7 1.7 .6-3.1 .7 6.7 .7-4.5 .7 1.1 .7 2 .6-4 .7-1.5 .7 4.8 .7-5.6 .7 6.9 .6-4.8 .7-1.3 .7-2.1 .7 3.5 .7 .4 .6 .7 .7-.7 .7-1.3 .7-6.3 .7 11.7 .6-10.9 .7 3.1 .7 .2 .7 1.6 .6-2.2 .7 3.7 .7-4.3 .7-.8 .7 2.5 .6-1.9 .7-.8 .7 2.1 .7-7 .7 4 .6 7.5 .7-10.9 .7 7 .7 2.8 .7-2.8 .6-3 .7-2.4 .7 .3 .7 3.6 .7-5.6 .6-1.2 .7 2.1 .7-1.6 .7 1.1 .7-2.1 .6-1.1 .7 3.2 .7 .2 .7 4.5 .6-5.4 .7-1.1 .7-.2 .7 6.9 .7-10 .6 7.9 .7-1.7 .7-13.3 .7 16.2 .7-6.8 .6 0 .7-6 .7-2.4 .7 11.2 .7-2.4 .6-2.3 .7 2.3 .7-7.8 .7 .8 .7 10.4 .6-3.7 .7-7.2 .7 2.6 .7 1.8 .7 6.8 .6-8.7 .7 5.8 .7-4.8 .7-4 .6-3.3 .7 5.6 .7-2.8 .7-3.4 .7 .5 .6-5.2 .7 6.8 .7-2.4 .7 3.9 .7-2.5 .6-1.3 .7-3.1 .7-.6 .7-6.5 .7 4.6 .6-4.1 .7 1.9 .7 5.3 .7 9.3 .7-18.5 .6 .8 .7 1.7 .7-.9 .7 5.6 .7-18.2 .6 20 .7-13 .7 3.6 .7 .8 .6-5.9 .7-.1 .7-2.3 .7-3.7 .7 9.2 .6-.3 .7-8.5 .7 7.3 .7-6.1 .7-5.3 .6 1 .7 8.8 .7-12.2 .7-.1 .7 1.5 .6 .8 .7-1.5 .7-4.9 .7 1.5 .7 1.7 .6-2.1 .7-13.1 .7 14 .7-6.7 .7-6 .6 .4 .7 4.4 .7 6.5 .7-9.1 .6-5.5 .7 16.2 .7-12.4 .7-.8 .7-5 .6 4.1 .7 2.2 .7-6.9 .7 7.5 .7-4.4 .6 3 .7-10.8 .7-.2 .7-1.4 .7 9.7 .6-6.1 .7-11.8 .7 15.7 .7-12.1 .7 2 .6 .3 .7 13.1 .7-17.3 .7 3 .7-4 .6 11.4 .7-5.2 .7-5.9 .7 1.8 .6-2.1 .7 2.7 .7 7 .7 1.4 .7-7.3 .6 2.6 .7-3 .7 4.7 .7 3.8 .7-3.3 .6 1.3 .7 .6 .7 5 .7 1.8 .7-7.7 .6 2.1 .7-1.3 .7 2.2 .7 2.1 .7 9.1 .6-15.5 .7-1.8 .7 10.8 .7 3.6 .7-3.5 .6 2.8 .7-7 .7 11.4 .7-5.7 .6 10.1 .7 2.7 .7-4.1 .7-11.3 .7 8.2 .6 4.5 .7 4.1 .7 1.5 .7-.4 .7-8.9 .6 7.3 .7 12.3 .7-5.7 .7-1.7 .7 7.5 .6-1.4 .7-6.1 .7 9.1 .7-1.4 .7 .1 .6-3.2 .7 3.1 .7-3.7 .7 12.4 .7-3.3 .6 1.4 .7-1.8 .7 13.8 .7-5.2 .6-1.3 .7 3.6 .7 12.2 .7-6.2 .7-5.6 .6-2 .7 9.5 .7-4.1 .7 6.1 .7-.6 .6 4 .7 .5 .7-8.9 .7 6.9 .7 3.5 .6-4.6 .7 5.8 .7-3.5 .7 3.6 .7-.7 .6 5.9 .7-4.2 .7 1.1 .7-1.3 .6 .1 .7 7 .7-4.7 .7 6.8 .7-1.4 .6-2.5 .7 4.5 .7-.8 .7 .2 .7 .5 .6 5.4 .7-6.4 .7 8.6 .7 3.8 .7-11.4 .6 5.3 .7 2.5 .7 6.8 .7-12.1 .7 10.4 .6-1.8 .7-9.4 .7 .5 .7 10.7 .7-3.7 .6-3.4 .7 9.2 .7-9.2 .7 14.9 .6-9.5 .7 .4 .7-1.1 .7-2.9 .7 9 .6 1.3 .7-7.2 .7-3.8 .7 9.6 .7 3.8 .6-5.6 .7-7.9 .7 13.1 .7-7.1 .7-2 .6 7.5 .7-4.5 .7 3 .7 4 .7-3.1 .6-6.6 .7 4 .7-3 .7 2.2 .7 5.3 .6-3.6 .7 3 .7-.1 .7-.1 .6-3.3 .7 .7 .7 1.5 .7-8 .7 7.5 .6-5.2 .7 .7 .7-.6 .7 .9 .7-6.4 .6 9.7 .7 .9 .7-3.7 .7 5.3 .7-10.5 .6 5.2 .7-4 .7 1.5 .7-4.8 .7 9.5 .6-1.6 .7-4.8 .7 1.8 .7 .4 .7 2.8 .6-1.6 .7-5.1 .7 5.7 .7-.9 .6-1.6 .7-11.5 .7 8.5 .7-3.4 .7 2.4 .6-4.4 .7-3 .7 7.2 .7 2.3 .7-2.2 .6-5.1 .7 6.4 .7-8.2 .7 2.7 .7-3 .6-1 .7 6.4 .7-8.6 .7-2.8 .7 .7 .6 5.3 .7-.5 .7-3 .7 .2 .7 1.2 .6-4.2 .7 .7 .7 6.9 .7-8.7 .6-2.2 .7 .5 .7 5.1 .7-4.9 .7 1.9 .6-3.9 .7 3.8 .7-10.7 .7 3.1 .7-.4 .6-.1 .7 4.7 .7-7.8 .7 2.2 .7 .3 .6-.7 .7 .5 .7-4.7 .7-1.2 .7 1.4 .6 7.1 .7-7.8 .7 .6 .7-7 .7 5.8 .6 3.7 .7-9.9 .7 5.4 .7 .7 .6 .8 .7-10.7 .7 3.5 .7 .9 .7-.2 .6-9.4 .7 4.3 .7 .5 .7-.2 .7-2.6 .6-3.5 .7 5 .7-7.9 .7 11.9 .7-6 .6-.9 .7 2.7 .7-7.9 .7 1.8 .7 .7 .6 5.3 .7 .2 .7-.9 .7-10.3 .7 8 .6-1.9 .7 .4 .7 1.7 .7 3.6 .6-.2 .7-12.7 .7 12.3 .7-3 .7 1.7 .6-1.5 .7-.1 .7 8.2 .7-3.7 .7 4.4 .6 2.3 .7-4.7 .7 2.3 .7-4.7 .7-7.4 .6 12.8 .7-1.1 .7 .5 .7 9.1 .7-6.5 .6-6 .7 4.3 .7-4.7 .7 4.8 .7-1 .6-.9 .7 5.9 .7 5.5 .7-9 .6 3.1 .7 1.8 .7-6.4 .7 12.6 .7-9.8 .6 12.2 .7-.2 .7-3 .7-.7 .7 1.9 .6-.8 .7 5 .7 0 .7 9.6 .7-10 .6 5.5 .7 4.1 .7 1.4 .7-.2 .7-15 .6 12.6 .7-1.8 .7 6.8 .7-4.5 .7 6.3 .6-4.3 .7-2.4 .7 4 .7-3.2 .6 9 .7-2.5 .7 .7 .7-4.5 .7 .1 .6 9.2 .7-.3 .7-2.8 .7 5 .7-4.9 .6 6.8 .7-3.3 .7 4.4 .7 4.3 .7-12.7 .6 10.5 .7-4.5 .7 11.2 .7-12.9"/>
<path stroke="#CC9900" stroke-width="3.4" d="M331.7 1195.9l.7 39 .7 24.2 .7 44 .7 23.4 .6 7.4 .7 22.9 .7 6.5 .7 4.6 .7 17.9 .6 4.5 .7 34 .7-18.5 .7 15.7 .7 12 .6 1.4 .7 8.2 .7 1.7 .7 9.2 .6-6.3 .7 9.9 .7 1.3 .7-5.3 .7 11.6 .6 15.7 .7-4.9 .7 3.2 .7 13.1 .7 6.5 .6 6.8 .7 11.1 .7-7.9 .7 7.6 .7 7 .6 3.3 .7 4 .7-6.5 .7 13.9 .7 11.5 .6-7.9 .7-1.4 .7 4.2 .7 8.8 .6 9.7 .7-18.6 .7 19.9 .7-4.1 .7 3.9 .6 4.8 .7 .7 .7 8.6 .7-2.3 .7-.5 .6-.5 .7-18.1 .7 25.9 .7-10 .7 7.1 .6 3.9 .7 10.5 .7-9.7 .7 6.5 .7-5.8 .6 .8 .7 9.4 .7-11.2 .7 8 .7 0 .6-.3 .7 4.5 .7-6.4 .7-2 .6 8.4 .7-3 .7-4.1 .7 7.1 .7 5.5 .6-6.3 .7 6.3 .7 2.5 .7 7.3 .7-7.1 .6 6 .7-4.6 .7 12.8 .7-3.6 .7-12.2 .6-.4 .7 7.1 .7 2.3 .7 19.2 .7-18.1 .6 6.7 .7 8.3 .7-4.7 .7 1.2 .7-7.6 .6 3.1 .7-9.9 .7 5.2 .7 7.5 .6-1.7 .7 9.2 .7-9.3 .7 6.3 .7-1.8 .6-.2 .7 2 .7 2.8 .7-4.9 .7 .4 .6 16.2 .7-8.6 .7-1.5 .7 2.3 .7-3.1 .6-3 .7 3.7 .7 1.7 .7-5.4 .7 2.5 .6 1.5 .7-8.2 .7 4.8 .7 10.1 .7-10.9 .6 10 .7-4.2 .7 10 .7-13.3 .6 13.1 .7-10.1 .7-7.7 .7 7.2 .7 2.8 .6 5 .7-3.3 .7-5.5 .7 15.2 .7-5.8 .6-10.9 .7 8 .7-9.6 .7 4.5 .7 7.2 .6-3.6 .7-7.4 .7 8.2 .7-1.4 .7-2.8 .6 5.1 .7-1.4 .7-4.6 .7 4 .7-1 .6-3.3 .7-5.7 .7 8.6 .7 2.3 .6-17 .7 9.1 .7 13.4 .7-6.9 .7 5.3 .6-11.6 .7 8.9 .7-3.5 .7-10.4 .7 10.8 .6-3.4 .7-2 .7-5.8 .7 1.8 .7-2.4 .6 10 .7-5.6 .7 10.2 .7-8.5 .7 .6 .6-9.6 .7 6.7 .7 3 .7-.2 .7 2.4 .6-1 .7-.3 .7-3.4 .7 2.7 .6-3.1 .7-5 .7 10.4 .7-1.9 .7 2.4 .6-16.3 .7 1.7 .7 5.5 .7 2.1 .7 4.8 .6-9.6 .7 4.3 .7-1.7 .7 1.5 .7 14.3 .6-5.9 .7-5.7 .7-5.2 .7 7.4 .7-5.8 .6 3.3 .7 2.7 .7-8.5 .7 8.5 .7 .5 .6-14.4 .7-2.3 .7 8.9 .7-4.5 .6 8.7 .7-2.1 .7-3.3 .7-.1 .7-1.1 .6 9.1 .7-11.3 .7 10 .7-5.2 .7-19.1 .6 13.6 .7 7.3 .7-4.3 .7 5.2 .7-.4 .6 .7 .7-2.5 .7-1.8 .7-3.3 .7-7.6 .6 8.2 .7 .9 .7 6.9 .7-12 .7 5 .6-6.7 .7 7.2 .7-7.9 .7 11 .6-.5 .7-1.4 .7 .3 .7-3.8 .7 1.6 .6 10.7 .7-4 .7-1.6 .7-6.7 .7 4.5 .6-5.1 .7 .2 .7 2.1 .7 10.8 .7-19.5 .6 7 .7 4.7 .7-4.4 .7 3.8 .7-3.3 .6 6.3 .7-15.9 .7 11.6 .7-5 .7 6.7 .6-7.4 .7-3.1 .7 5.8 .7 4.9 .6-5.2 .7 2 .7-7.6 .7 5.3 .7-.3 .6 2.6 .7 .3 .7-1.3 .7-6.1 .7 6.4 .6-2.9 .7 5.8 .7-.9 .7 4.1 .7-4.8 .6 2.4 .7 7.7 .7-6.2 .7 3 .7-5.8 .6 .7 .7-8.2 .7 5.6 .7 3.4 .7-.7 .6 0 .7 .2 .7-4.6 .7 5 .6-4.1 .7-3.6 .7 7.3 .7-2.5 .7-8.2 .6 5.6 .7 4.1 .7-4.6 .7 4.1 .7 2.8 .6-8.1 .7 8.6 .7-1.1 .7-2.1 .7-5.2 .6 .9 .7 6.2 .7-2.9 .7 1.6 .7-5.7 .6 2.5 .7 4.7 .7-7.2 .7 10.2 .7-4.5 .6 7.4 .7-13.7 .7 5.2 .7-3.6 .6-10.1 .7 11.5 .7 .2 .7 3.8 .7-3.9 .6 4.5 .7-5.9 .7 .3 .7 1.1 .7 2.4 .6-.3 .7-.5 .7 .5 .7-3.2 .7 5.9 .6-2.1 .7-3.1 .7-6.3 .7 6.6 .7 2.4 .6 .3 .7-8.3 .7 10.1 .7-.3 .7-2 .6 5.1 .7-4.3 .7-3.6 .7 2.8 .6 7.8 .7-11.1 .7-2.1 .7 6.3 .7-11.5 .6 7.7 .7-.5 .7 7.6 .7-17.9 .7 1.6 .6 3.5 .7-2.2 .7 11.5 .7-.7 .7-4.7 .6 1.7 .7 5.5 .7-6.4 .7-3.3 .7 5.2 .6-8.3 .7 5.3 .7 3.7 .7 1.9 .6 1.3 .7-9.8 .7 10.9 .7-9.8 .7 0 .6 9 .7-9.2 .7 2.4 .7-8.4 .7 6.5 .6 2.7 .7-4.7 .7-2.4 .7 10.4 .7 1 .6-9.2 .7-5.8 .7 16.2 .7-13.8 .7 5.1 .6-1.5 .7 1.1 .7 5 .7 1 .7-13.4 .6 17.1 .7-6.5 .7-6.5 .7 7.9 .6-3.9 .7 3.5 .7 4.3 .7-6.1 .7 2.9 .6 4.3 .7-7 .7 5.2 .7-2.5 .7 3.8 .6-9.1 .7 2.9 .7 3.3 .7 2.5 .7 .5 .6 .1 .7 3.7 .7-11 .7 13 .7-9.6 .6 .3 .7 5.6 .7-.4 .7 5.9 .7-5 .6 2.1 .7-6.8 .7 7.5 .7 0 .6-5.7 .7 11.5 .7-3.3 .7-12.4 .7 9 .6-4.4 .7 18 .7-10.3 .7-1.7 .7 5.6 .6-10.4 .7 11.1 .7-3.8 .7-3.9 .7 1.2 .6 1.9 .7 3.4 .7-4.9 .7 4.6 .7-10 .6 8 .7 3.3 .7-9.4 .7-3.1 .7 6.3 .6 4.4 .7 4.7 .7-4.1 .7-8.5 .6 1.8 .7 12.1 .7-9.4 .7 8.9 .7-10.8 .6-4.9 .7 9 .7-6 .7 7.2 .7-.8 .6-5.4 .7-.7 .7 6.4 .7-8.1 .7 6 .6 14.3 .7-17 .7-.4 .7 16.5 .7-12.9 .6-4.5 .7 2.6 .7 4.3 .7 .7 .7-4.4 .6 1.4 .7-4.7 .7 1.7 .7-6 .6 9.6 .7-4.9 .7-.1 .7 2.2 .7-3.6 .6 10.9 .7-5.8 .7-10.6 .7 6 .7 2.5 .6-4.8 .7 5.8 .7 4.3 .7-6.2 .7-3.2 .6 5.7 .7-9 .7 6.1 .7 1.4 .7 2.5 .6-12.5 .7-1.3 .7 16.4 .7-5.4 .7 3.3 .6-9.1 .7 5.8 .7-4.8 .7 4.9 .6 3.8 .7-15.2 .7 9.9 .7 1.5 .7 3.1 .6-5.5 .7-4.2 .7 6.8 .7-12.1 .7 2.8 .6 6.9 .7-2.2 .7 4.5 .7-4.4 .7 10 .6-2.6 .7-16.2 .7 10.1 .7-3 .7 7.6 .6-5.9 .7 2.8 .7 9.3 .7-8.6 .7-1.3 .6 .5 .7-5.8 .7 2.3 .7 9.4 .6-3.2 .7-2.7 .7-1.1 .7 .4 .7 6.4 .6-7.5 .7 2.5 .7 13.6 .7-4.4 .7-3.6 .6-3.1 .7 2.2 .7-1.6 .7 1.7 .7-4.1 .6-5.1 .7 .3 .7 10.1 .7-12.2 .7-2.7 .6 10.1 .7-12 .7 8.1 .7 5.6 .7-12.6 .6 7.8 .7 1.5 .7-11.5 .7 2 .6 8.3 .7 1.7 .7-3.1 .7-1.6 .7-2.8 .6 21.6 .7-19.3 .7 .5 .7 2.7 .7-2.6 .6-2.5 .7 10.7 .7-1 .7-5.7 .7 .4 .6-.8 .7-2.1 .7-8.3 .7 11.9 .7-3.3 .6-3 .7 5.8 .7 .3 .7-3.5 .7-.7 .6 5.8 .7-6.3 .7 .6 .7 .4 .6-3.2 .7 11.2 .7-10.6 .7 6.2 .7-2 .6 .9 .7 3.4 .7-6.9 .7-7.6 .7 8.4 .6-5.1 .7 9.6 .7 1.3 .7-4.9 .7 2.5 .6 .7 .7-6.9 .7 .9 .7-1.7 .7 3.4 .6 1.4 .7 1 .7-9.2 .7 7.4 .7-8.5 .6 3.1 .7-5.7 .7 12 .7-8.6 .6 11.8 .7-11.8 .7 2.8 .7-2.9 .7 15 .6-16.4 .7 8.7 .7 0 .7 6.2 .7-3.7 .6-9.7 .7-2.2 .7 5.5 .7 5.6 .7-6.2 .6 10.3 .7-6 .7 1.9 .7-8.6 .7 12.8 .6-5.5 .7-3.8 .7-1.2 .7 9.2 .7-2.4 .6 6.3 .7-14.3 .7 6.3 .7-.4 .6 1 .7-10.3 .7 7.7 .7 3.9 .7-11.4 .6 4.1 .7 3.1 .7 4.1 .7-4.6 .7-2.4 .6 3.2 .7 0 .7-5.3 .7 8.3 .7-7.5 .6 5.3 .7 4 .7-10 .7 .3 .7 7.3 .6-.1 .7-9.3 .7 4.7 .7 9.3 .6-4.6 .7-5.9 .7 4.3 .7-9.3 .7 8.5 .6-4.7 .7 2.4 .7-1.6 .7 1 .7 .5 .6 5.9 .7-11.6 .7 8.8 .7 2 .7-12.7 .6 10.2 .7-9.9 .7 17 .7-11.9 .7 1.5 .6 3.7 .7-9.1 .7 10.2 .7-5.5 .7 2.8 .6-6.6 .7 9.1 .7-6.2 .7 .2 .6 10.3 .7-24.9 .7 13.6 .7-1.2 .7-1.8 .6 6.1 .7-.2 .7 8.2 .7-7.2 .7-3.6 .6-3.2 .7 2 .7-.9 .7 .2 .7-1.2 .6-.2 .7 .7 .7-3.7 .7 11.6 .7-5.8 .6-5.6 .7 3.7 .7 3.9 .7-2.9 .7-1.2 .6-1.5 .7-9.4 .7 2.6 .7 8.9 .6-3.4 .7-8.8 .7 11.7 .7-6.1 .7 5 .6 3.2 .7-3.8 .7-1.4 .7-6 .7 9.8 .6-10.6 .7 7.5 .7-.2 .7 3.9 .7 5.3 .6-10.6 .7 5.6 .7-5.7 .7 1.5 .7 8.8 .6-7.3 .7-2.5 .7 0 .7-1 .7 .6 .6 4.1 .7-3.6 .7 1.9 .7-2.6 .6-.4 .7 .4 .7-9.7 .7 14.7 .7 3.5 .6-11.1 .7 5.3 .7-3.8 .7 2.4 .7-2.2 .6 5.2 .7 .8 .7-12.8 .7 3.9 .7 11.4 .6-2.9 .7-7.1 .7 5.8 .7 6.4 .7-6.8 .6-1.4 .7 5.7 .7-2.7 .7 4.8 .7-8.3 .6-2.9 .7 9.5 .7 3.9 .7-5.6 .6 3.4 .7 1 .7 5.6 .7-.5 .7 2.1 .6 1 .7-3.4 .7 2.4 .7-10.5 .7 9.7 .6 1.6 .7-1.9 .7-4 .7-.4 .7 10.4 .6-.2 .7 .3 .7-3.3 .7-.8 .7-7 .6 .8 .7 10.5 .7 12.5 .7-8.8 .7-2.7 .6-3.2 .7-2.8 .7 8.4 .7-9.3 .6-.1 .7 15 .7-4.4 .7-13.9 .7 10.2 .6-2 .7-16.7 .7 15.6 .7 2 .7 9.6 .6-9.6 .7-2.2 .7 5.5 .7-10.5 .7 11 .6-10.3 .7 4.4 .7 4.2 .7-5.3 .7-4 .6 3.6 .7 9.4 .7-9.9 .7 5.1 .7-5 .6-.3 .7 4.5 .7-4.9 .7 7.3 .6-8.3 .7 7.3 .7-5.2 .7 2 .7 5.1 .6-10.1 .7 12.7 .7-10.8 .7 5.7 .7-1.5 .6-.3 .7 4.9 .7-6.7 .7 7 .7 7.5 .6-12.4 .7 6.4 .7-11.5 .7 5.6 .7-.8 .6 5.3 .7-9.4 .7 7.5 .7 1.8 .7 1.1 .6-3 .7-8.5 .7 2.2 .7 2.8 .6 2.5 .7-1.6 .7-7.2 .7 4.5 .7 .6 .6-6 .7 7.7 .7-1.4 .7 7.7 .7-4.2 .6-.5 .7-2 .7-2.1 .7 4.6 .7-4.6 .6-2.3 .7 6.2 .7-2.6 .7-1.8 .7 8.2 .6-11.5 .7 8.5 .7-3.8 .7 7.8 .7-9.8 .6 0 .7 3 .7 2.9 .7-6 .6 8.7 .7-10.2 .7-1.4 .7 1.4 .7-2.3 .6 6.2 .7-2.2 .7-2.1 .7 .8 .7 6.4 .6-3.3 .7 1.3 .7-3.4 .7 .3 .7-3.9 .6 .8 .7-1.7 .7 6.8 .7-8.3 .7 2.6 .6-10.4 .7 11.4 .7 12.2 .7-21.2 .7 16.1 .6-5.1 .7 1 .7-.4 .7-8.1 .6 3.5 .7 1.3 .7 3.7 .7-.8 .7-2.1 .6-1 .7 2.1 .7 7.4 .7-9.7 .7 1.4 .6 3.6 .7-6.3 .7-1.2 .7 4.4 .7-12.7 .6 15.4 .7-3.9 .7-1.6 .7-.4 .7-4.1 .6 8 .7 1.2 .7-12.7 .7 8.3 .7-2.6 .6-1.2 .7-1.6 .7 1.8 .7 6.8 .6-3.4 .7-1.7 .7-2.9 .7-4.1 .7 10.9 .6-6.2 .7 .7 .7-.7 .7 10.1 .7-3.7 .6-4.5 .7 2.4 .7-1.9 .7-.9 .7-4.1 .6 8.4 .7-.3 .7-1.8 .7-8.2 .7 10 .6-12 .7 1.5 .7 2 .7 5.9 .7-5.6 .6-.1 .7 1.3 .7 4 .7-1.7 .6-.9 .7-1.5 .7-4.1 .7 3.7 .7 1.1 .6-12.5 .7 4.6 .7-7 .7 4.5 .7 6.2 .6-5.8 .7 1.8 .7-.9 .7-1.2 .7 2.2 .6-4.6 .7-.6 .7 12.9 .7-11.3 .7-.7 .6 3.9 .7-9.4 .7 4.7 .7-5 .6-1.2 .7 .5 .7 7.6 .7-2.4 .7-.1 .6 4.4 .7-4.4 .7-6 .7 11.1 .7-10.1 .6 7.7 .7 .2 .7-8 .7 6.1 .7-10 .6 0 .7 1.5 .7 4.1 .7-3.3 .7-6.2 .6-2.4 .7 10.6 .7 5.6 .7-9 .7-2.4 .6-1.4 .7-2.7 .7 7.6 .7-.3 .6 0 .7-8.8 .7 3.2 .7-6.4 .7 .7 .6-.2 .7 3 .7-3 .7 3.3 .7-4.7 .6 0 .7-.7 .7-1 .7-1.4 .7 2.2 .6 .1 .7-.1 .7 5.5 .7-12.6 .7-3.6 .6 17.4 .7-21.2 .7 2.4 .7 2.9 .7 1.5 .6-.9 .7 2.8 .7-1.2 .7-2.5 .6-3.9 .7 10.1 .7-6.8 .7 3.6 .7-3.1 .6 .6 .7-4.1 .7-3.8 .7 4.1 .7-9.3 .6 1.1 .7 2.5 .7-7.9 .7 8.7 .7-3.4 .6 3.9 .7 5.1 .7-21.7 .7 10 .7 2.8 .6-6.5 .7-2.4 .7 6.3 .7-5.1 .7-9.8 .6 .2 .7 6.5 .7 5.2 .7-15.7 .6-.1 .7 7.6 .7-1.4 .7-6.5 .7-2.7 .6-1.3 .7 3.6 .7 1.8 .7-2 .7 2 .6-7.1 .7-5.3 .7 9 .7 1.7 .7-5.4 .6-5.9 .7 9.2 .7-6.9 .7 3.2 .7 .7 .6-14.4 .7 5.7 .7 2.4 .7-4.2 .7-.2 .6-3.7 .7-5.1 .7 8.2 .7-10.2 .6 6.4 .7-4.6 .7 6.6 .7-1.2 .7-8.9 .6-.2 .7 .9 .7-4.1 .7 5.8 .7-13.1 .6-4.9 .7 8.1 .7-4.1 .7 3.5 .7-7.6 .6 3.6 .7 .3 .7-3.9 .7 2.5 .7-4.4 .6-5.2 .7 6.5 .7-10.4 .7 4.2 .7-6.6 .6 7.2 .7-.9 .7-11.8 .7 5 .6-7.8 .7-9.6 .7 2.3 .7 5.7 .7-15.3 .6 14 .7 4.7 .7-29.2 .7 15.8 .7-13.7 .6 10 .7-12.2 .7 1.7 .7-18.6 .7 16.6 .6-14.3 .7 4.2 .7-7.1 .7 1.2 .7-2.2 .6 7 .7-16.8 .7 11.9 .7-15.4 .7-9.4 .6 1.9 .7-9.1 .7-8.6 .7-2.6 .6 2.1 .7-4.5 .7-11.3 .7 .4 .7-2.4 .6 1.2 .7-12.6 .7-6 .7 1.4 .7-16.5 .6-5.6 .7 5.6 .7-7.9 .7-20.7 .7-8.6 .6-8.6 .7-1.9 .7-6 .7-2.1 .7-16.8 .6 4.2 .7-4.2 .7-23.4 .7-8.6 .7-14.9 .6-1 .7-10.6 .7-10.1 .7-9.5 .6-18 .7-9.7 .7-13.3 .7-4.8 .7-14.6 .6-15.8 .7-5 .7-9.3 .7-12.3 .7-18.7 .6-10.2 .7-9.1 .7-17.7 .7-18 .7-13.2 .6-4.9 .7-19.8 .7-11.4 .7-15.3 .7-10.8 .6-7.8 .7-22.9 .7-11 .7-9.3 .7-13.3 .6-12.6 .7-14.5 .7-12.1 .7-4.1 .6-14.2 .7-9.7 .7-14 .7-5.5 .7-10.5 .6-4.5 .7-9.2 .7-6.2 .7-13.1 .7-4.9 .6-6.4 .7 6.2 .7-6.5 .7-3.5 .7-4.7 .6 2.6 .7-1.3 .7 5.1 .7 .6 .7 6.1 .6 8.1 .7 4.2 .7 4.9 .7 8.2 .7 18.6 .6 5.6 .7 13.2 .7 9.3 .7 14.9 .6 2.6 .7 17.3 .7 16.5 .7 13.1 .7 9.4 .6 19.5 .7 11.4 .7 11.3 .7 13.7 .7 17.1 .6 16.9 .7 7 .7 21.6 .7 12.4 .7 17.4 .6 5.3 .7 22.8 .7 9.5 .7 18.3 .7 11.2 .6 6.1 .7 19 .7 15.1 .7 11.8 .7 5.5 .6 9.7 .7 15.4 .7 16 .7 5.8 .6 11.6 .7 9.5 .7 5.4 .7 16.2 .7 20.9 .6-20.3 .7 36.5 .7-1.8 .7 5.8 .7 19.2 .6-17.4 .7 14.4 .7 19.8 .7 10.9 .7-4.4 .6-4.2 .7 12 .7 17.9 .7-1.7 .7 9.9 .6 6.8 .7 1.4 .7 11.1 .7 6.5 .7-4.1 .6 12.6 .7 2.6 .7 4.5 .7 9.2 .6-10.8 .7 15 .7 12 .7-3.8 .7 15.1 .6-13.6 .7 20.6 .7-8.7 .7 7.6 .7-5.3 .6 5.7 .7 2.4 .7-5.1 .7 18.5 .7-4.6 .6 11.1 .7-13.9 .7 2.9 .7-.6 .7 5.1 .6 4.6 .7 9.4 .7 3.7 .7-12.2 .6 5.6 .7 12.3 .7-12.5 .7 10.8 .7-1 .6-2.6 .7 8.8 .7-10.5 .7 1.7 .7 9.3 .6 4.8 .7-7.9 .7-2.7 .7-14.6 .7 25.9 .6-9.2 .7 6.1 .7-1.1 .7 8.3 .7-6.4 .6-8.3 .7 9.2 .7 9.7 .7-9.7 .7 9 .6-5.3 .7-4 .7 7.1 .7-4 .6-11.7 .7 4.1 .7 9.3 .7 8.9 .7-9.7 .6 .5 .7-.6 .7-2.4 .7 3.7 .7-12.4 .6 9.1 .7-3.6 .7-10.1 .7 10.9 .7 3.8 .6 1.1 .7-10.5 .7 1.7 .7-9.9 .7 16 .6-5 .7-2.9 .7-4.5 .7 5.4 .7 3.5 .6-22.2 .7 21.3 .7-6.4 .7 6.2 .6-20.1 .7 15.9 .7-16.6 .7-3.2 .7 14.4 .6-20.2 .7 6 .7 6.2 .7-26 .7 13.9 .6-3.4 .7-1 .7 2.6 .7-4.1 .7-1.7 .6 2.6 .7 1.1 .7-13.4 .7 3.4 .7 2.4 .6-6.8 .7-1.2 .7-15.4 .7 3.7 .7 9.6 .6-13.1 .7-.5 .7-1.5 .7-12 .6 3.4 .7 3.1 .7-13.5 .7 3.4 .7-11.2 .6 3.3 .7-22.9 .7-2.5 .7 7.9 .7-17.2 .6 9.9 .7-7.6 .7-23.7 .7 15.9 .7-14 .6-.5 .7-15.9 .7 4.2 .7 2.4 .7-18.9 .6-2.9 .7-8.3 .7-8.6 .7-10.9 .7 4.7 .6-4.1 .7-11.4 .7-4.2 .7-10.7 .6-19.5 .7-2.3 .7-9.6 .7-11.8 .7-7.3 .6-6.1 .7-15.4 .7-7.7 .7-16.4 .7-10.4 .6-3.5 .7-16.1 .7-4.5 .7-16.4 .7-3.2 .6-11.8 .7-15.9 .7-10 .7-10.1 .7-10.3 .6-12.7 .7-9.3 .7-2.3 .7-14.9 .7-6.3 .6-2.7 .7-8.4 .7-10.1 .7-1.2 .6-1.7 .7-4.3 .7-1.6 .7 1.2 .7-.6 .6-3.4 .7-.4 .7-2.4 .7 6.5 .7-.4 .6 9.6 .7 3.4 .7 0 .7 14.3 .7 2.5 .6 2.5 .7 15.9 .7 9.1 .7 6.1 .7 5 .6 10.3 .7 9.8 .7 7.4 .7 16.1 .7 7.5 .6 18.2 .7 11.1 .7 7.6 .7 14 .6 12 .7 17.2 .7 6.5 .7 11.2 .7 17.3 .6 7.3 .7 12.3 .7 41.3 .7-13.9 .7 4.4 .6 16.3 .7 24.1 .7 17.3 .7 8.2 .7 4.9 .6 5.6 .7 20.7 .7 5.6 .7 10.9 .7 21.2 .6 .5 .7 11.4 .7 11.8 .7 6.7 .7 16.5 .6 .3 .7 20.5 .7-4.3 .7 11.5 .6 11.5 .7 10.4 .7 1.5 .7 13.5 .7 6.2 .6 10.2 .7 .6 .7 0 .7 11.9 .7 3.6 .6 9.4 .7 1.3 .7 4.5 .7-3.2 .7 7.1 .6 9 .7-2.4 .7 2.7 .7 12.3 .7-4.3 .6 2.3 .7 5.2 .7 7.2 .7-5.3 .7 8.3 .6-.9 .7 1.3 .7 3 .7-.1 .6 2.1 .7-1.4 .7 7 .7 .1 .7-.2 .6-6.8 .7 1.7 .7 14.7 .7-6.6 .7-13.8 .6 17.3 .7-4.4 .7 3.2 .7 9 .7-4.2 .6 1.9 .7-3.7 .7-4.7 .7 13.1 .7 0 .6-4 .7 .8 .7-2.8 .7 1.3 .7 4.5 .6 .4 .7-5.4 .7-1 .7 6 .6-4 .7 2.1 .7 1.1 .7 2.9 .7-.2 .6-4.4 .7-.9 .7 2.1 .7 2.7 .7 7 .6-6.9 .7 4 .7-2.1 .7-6.9 .7 12.5 .6-3 .7-4.8 .7 4.6 .7-2.2 .7-4.6 .6 2.2 .7-2.5 .7 2.2 .7 7.1 .7-7.8 .6 4.8 .7-1.2 .7-4.6 .7 4.6 .6 5 .7-6.4 .7 7.2 .7 2.4 .7-7.2 .6 1.8 .7-4.3 .7 2.6 .7-3.8 .7-1.5 .6 11 .7-8.9 .7 3.6 .7-2.9 .7 4.2 .6 .5 .7 5.2 .7-6.6 .7 5.8 .7-3.2 .6-8.4 .7 2 .7 3.3 .7-7.1 .7 4.8 .6 3 .7 3.5 .7-7.9 .7-.3 .6-12.9 .7 16.4 .7 4.6 .7-4.5 .7 6.6 .6-4 .7-2.9 .7 2.3 .7 1 .7-1.1 .6-6.2 .7 7.7 .7 .8 .7-.8 .7 .3 .6-3.1 .7 10.4 .7-8.3 .7 .9 .7-2.3 .6-2.4 .7 1.8 .7 1.4 .7 2.6 .6-4.2 .7-.1 .7 3.5 .7-1 .7-1.4 .6 3.1 .7 1.4 .7-8 .7 5.9 .7-.4 .6-6 .7 2 .7 2.3 .7 4.2 .7 0 .6-2.9 .7 9.1 .7-9 .7-1.9 .7 3.1 .6 2.4 .7-10.8 .7 9.4 .7-1 .7-4.3 .6-1.8 .7 2.4 .7 3.3 .7-2.7 .6-4.3 .7 5.4 .7-1.1 .7-2.3 .7 5.1 .6-2.8 .7 4 .7-2.1 .7 3 .7-2.6 .6-2.4 .7 .8 .7-.8 .7 1.7 .7 3.2 .6 .1 .7-6.4 .7 .3 .7 2.8 .7-.7 .6-7.7 .7-1.3 .7 8 .7 2.8 .7-5.3 .6 2.4 .7 1.7 .7 1 .7-6.8 .6 2.2 .7 .1 .7 2.3 .7-1.8 .7 .5 .6 10 .7-10.7 .7-.3 .7 4.1 .7-3.4 .6 4.8 .7-.6 .7 6.6 .7-16.9 .7 5.9 .6 1.3 .7 4 .7-.1 .7-2.8 .7-2 .6 .9 .7 4.2 .7-7.7 .7-1.5 .7 6.1 .6-9.4 .7 5.9 .7 6.3 .7-1.6 .6 3.3 .7-5.9 .7 4.4 .7-8.7 .7 2.1 .6-.3 .7 .3 .7 7.2 .7 2.5 .7-5.4 .6-3.2 .7 2.1 .7-2.4 .7 4.2 .7-1.2 .6 6.7 .7-7 .7 2.2 .7-8.2 .7 4.6 .6-4.4 .7 11.3 .7 1.4 .7-2.7 .7-2.9 .6-.4 .7 2.5 .7-3.9 .7 5.3 .6-3.9 .7-1.9 .7 2 .7 2.2 .7-5.3 .6 3.6 .7-.7 .7-.9 .7 .9 .7-1.6 .6 6.6 .7-6 .7 5 .7-2.8 .7-9.2 .6 5 .7 .8 .7-1.2 .7 4.2 .7-.6 .6 .4 .7-4.8 .7 9.8 .7-8.8 .7 5.6 .6-3.4 .7 1.7 .7 1.6 .7 0 .6 2.4 .7-9.5 .7 2.7 .7 1.6 .7 .2 .6-5 .7 6.9 .7 .9 .7-3 .7-.2 .6-.7 .7-.8 .7 6.7 .7-5.8 .7-3.5 .6-2.6 .7 3.6 .7 6.6 .7-4.4 .7 1.6 .6-8.4 .7 12.2 .7-5.1 .7-8.8 .7 14.2 .6-4.7 .7 4.6 .7-5.9 .7-.7 .6 2.5 .7 1.4 .7-6.1 .7 8.6 .7-7.5 .6 4.9 .7-4.3 .7 .5 .7 5.4 .7-4.6 .6 4.7 .7-10.5 .7 8.2 .7-3.5 .7-.7 .6-3.4 .7 9.9 .7-7.1 .7 5 .7-2 .6-1.7 .7-1.4 .7 4.9 .7-.5 .7 2.5 .6-13.8 .7 12 .7-14.2 .7 12.5 .6-3.5 .7 4.8 .7-1.8 .7-1.3 .7 .2 .6 1.3 .7 .5 .7-1.5 .7 .8 .7-3.8 .6 .9 .7 6.3 .7-4 .7 0 .7-1.3 .6 4.7 .7-4.8 .7 2 .7-.3 .7 0 .6-.2 .7-3.4 .7 3.4 .7-1 .7-.4 .6-2.1 .7 8.6 .7-1 .7-4.8 .6-3.2 .7 7.6 .7-6.2 .7 4.3 .7-3.6 .6 3 .7-.7 .7-3.1 .7-3.5 .7 6.8 .6 4.1 .7-6.3 .7-.7 .7 2.1 .7-2.2 .6 3.8 .7-1 .7-4.3 .7 3.9 .7-5.2 .6 1.4 .7 6.6 .7-.5 .7-4.3 .7-.3 .6 5.4 .7-.9 .7-4.3 .7 2.1 .6-.4 .7-4.5 .7 .6 .7 2.1 .7 1.1 .6 1.3 .7-2.9 .7 9.6 .7-5.2 .7-2.7 .6 2.9 .7-4.9 .7 9.4 .7-11.5 .7 6 .6 .6 .7-5.1 .7 5.1 .7-5 .7 1.8 .6-3.4 .7 .2 .7 2.1 .7 2.1 .7-3.5 .6 1.2 .7 2.2 .7-6.7 .7 6.1 .6 .6 .7-5.2 .7-2.3 .7 3.7 .7 1.4 .6 3 .7-5.1 .7 11.1 .7-8.5 .7-.9 .6-1.7 .7 7.5 .7-5.9 .7 7.8 .7-13.3 .6 9.4 .7-.2 .7 5.3 .7-8.1 .7 2.9 .6-3.1 .7 5.7 .7-5.8 .7 4.8 .6-3.5 .7 3.1 .7-12.1 .7 7.2 .7 5.9 .6-4 .7 4.1 .7 .5 .7-5.4 .7-2.6 .6 2.3 .7 1.8 .7-2.5 .7 1.4 .7-1.1 .6-1.9 .7 .9 .7 6.3 .7 .4 .7-6 .6 4.2 .7-.5 .7 2 .7 3.5 .7-8.1 .6 2.2 .7-4.4 .7 5.3 .7-2.4 .6-3.1 .7 4.8 .7-.9 .7 1 .7-4 .6 4.6 .7-5.4 .7 8.7 .7-2.7 .7-6 .6-.1 .7 2.2 .7 8.3 .7-7.2 .7 3.8 .6-1.7 .7-5 .7 1.3 .7 .5 .7 5.1 .6-.6 .7-1.5 .7-1.9 .7-3 .7-6.2 .6 7.7 .7 3.4 .7-6.1 .7 4.5 .6 1.1 .7 1.8 .7-2.5 .7-.9 .7-1.1 .6 1.2 .7-.8 .7 8.8 .7-8.5 .7 4.4 .6-3.7 .7 5.1 .7-5.7 .7 6 .7-5.9 .6 3.4 .7-3.2 .7 .1 .7 4.4 .7 4.9 .6-5.3 .7-6.2 .7 6.2 .7-1.8 .7-1.9 .6 4.4 .7-1.9 .7-4.2 .7 8.4 .6-6.9 .7-.7 .7 8.7 .7-9.3 .7 7.6 .6-6 .7-.1 .7 1.4 .7-3 .7-.5 .6 4.2 .7 .1 .7 5.6 .7-6.1 .7-3.2 .6 4 .7-.4 .7-6.9 .7 7.8 .7 2.6 .6-4.9 .7-1.4 .7 4.5 .7 5.9 .7-5.1 .6-4.9 .7 3.7 .7-7.9 .7 10.4 .6-3.5 .7 1.7 .7-5.4 .7 .8 .7 4.8 .6-4.5 .7-.1 .7-3.7 .7 3.8 .7 .4 .6 6.2 .7-7 .7 7.4 .7-9.1 .7 5 .6 1.8 .7-1.2 .7-2 .7-.9 .7 1.7 .6-4.2 .7 8.7 .7-3.6 .7 7.3 .7-8.7 .6 .2 .7 .1 .7-2.7 .7 2.6 .6-3.4 .7 13 .7-7.3 .7-3.4 .7 5.4 .6 .4 .7-9.5 .7 1.6 .7-1.7 .7 6.1 .6-2.7 .7 1.3 .7 2.2 .7-4.9 .7 2.8 .6 .2 .7 .5 .7 2.4 .7 2.7 .7-8.9 .6 7.3 .7-4.7 .7-.4 .7-3.9 .7 5.8 .6-3.9 .7-.8 .7-4.2 .7 3.1 .6-1.8 .7 8 .7-2.9 .7 8.5 .7 2.6 .6-4.9 .7-4.3 .7 2.5 .7-2.9 .7-3.9 .6 8.2 .7 1.3 .7-6.5 .7 3.1 .7 1.7 .6-6.8 .7 6.9 .7-.3 .7-1.7 .7-1.9 .6-1.4 .7 3.5 .7 4 .7-3.1 .7-7.6 .6 .6 .7 2 .7-.1 .7 4 .6 3.1 .7-3.3 .7-4 .7 4.3 .7-6 .6 8.4 .7-3.3 .7 .3 .7-4.1 .7 .9 .6 6.2 .7 4.4 .7-3.5 .7-8 .7 1.5 .6-4.4 .7 7.3 .7-4.8 .7 4.3 .7-.9 .6 1.7 .7-5.6 .7 4.1 .7-1.4 .7 1.1 .6-1.9 .7 .2 .7 1.1 .7-2.2 .6 5.9 .7-2.4 .7 4.2 .7-3.7 .7 2.7 .6 .7 .7 .8 .7-3.4 .7-1.2 .7 7.3 .6-4.7 .7-3.3 .7 3.1 .7-4.6 .7 4.5 .6-.9 .7-3.6 .7 6.1 .7-.9 .7-5.9 .6 1.8 .7 5.2 .7-.4 .7-6.1 .7 3.3 .6-1.1 .7-5.1 .7 7.9 .7-3.3 .6-2.8 .7 3.6 .7 2.6 .7-2 .7 .1 .6 2.9 .7-6.5 .7 7.4 .7-3.2 .7 5.2 .6-6.3 .7 .9 .7 1.9 .7-3.8 .7-.6 .6 .8 .7 8.2 .7-10 .7 5.7 .7 1 .6-4.8 .7-2.4 .7-1.1 .7 4.9 .7 5.1 .6-5.9 .7 .9 .7 3.6 .7 2 .6-6.8 .7 2.7 .7 5.7 .7-9.6 .7 6.1 .6-5.4 .7 8.2 .7-3.8 .7 6.9 .7-13.2 .6 3.3 .7 1.8 .7-2.4 .7-.3 .7 1.1 .6 4.5 .7-7.4 .7 5.6 .7-3.5 .7 2.4 .6-1.5 .7-.6 .7-.8 .7-1.7 .7-1.1 .6 2.9 .7-3.8 .7 6.2 .7-2.3 .6 4.6 .7-2.9 .7-2.2 .7 7.1 .7-2 .6 1.1 .7-4.8 .7-2.4 .7-1.9 .7 2.1 .6 1.2 .7 1.2 .7 2 .7-1 .7-11.8 .6 12 .7-2.7 .7-4.4 .7 3.7 .7 2.4 .6-2.6 .7 1 .7 1.1 .7-3 .6 3.7 .7-3.6 .7 3.7 .7 .7 .7 4.4 .6-2.4 .7-7.2 .7-.4 .7-1.6 .7-3 .6 9.3 .7-3.7 .7-.3 .7 1.3 .7 5 .6 1.7 .7-11.6 .7 6.8 .7 1.2 .7-5.8 .6 5.9 .7-.4 .7-4.4 .7 3 .7-3.4 .6-2.1 .7 6.8 .7-2.4 .7-1.4 .6 8.3 .7-12.3 .7 7.9 .7-7.1 .7 9 .6-9.8 .7 4 .7 1.3 .7-6.6 .7 4.4 .6-2.7 .7 3.3 .7-3.9 .7-1.7 .7 1.2 .6-.4 .7 3.2 .7-4.5 .7-2.6 .7 7.2 .6-1 .7 2 .7 1.5 .7-5.6 .7 5.7 .6-5.9 .7-.9 .7-.4 .7 .3 .6-1.3 .7 5.8 .7-.1 .7-5.9 .7-1.5 .6 4.5 .7 2.1 .7-5.4 .7-.3 .7 2 .6-1.8 .7-4.5 .7 14.5 .7-7.9 .7-.1 .6-10 .7 6.6 .7 1.3 .7-3.3 .7 2.7 .6 1.1 .7 4.2 .7-8.4 .7 3.6 .7-.1 .6 2.8 .7-5 .7 1.4 .7-4.4 .6 7.2 .7-4.5 .7 6.9 .7-8.6 .7-2.8 .6 7.5 .7-4.6 .7 .2 .7 2.2 .7-10.8 .6 5.7 .7 6.3 .7-2.1 .7-2.1 .7 1.1 .6-2.3 .7 4.5 .7-4.2 .7 4.9 .7-6.1 .6 3.8 .7-2.9 .7 4 .7-7.3 .7 4.6 .6-.1 .7-7 .7 5.5 .7 3.7 .6-2.9 .7-.8 .7-3.4 .7 .8 .7-2.1 .6 7.9 .7-6.6 .7-2.7 .7 7.5 .7-6.9 .6 1.5 .7 1.8 .7-8 .7 9.9 .7-5.7 .6-3.3 .7-3.4 .7 1.6 .7 8 .7 1.3 .6 .7 .7-10.1 .7 8.2 .7-3.2 .7-13.8 .6 13.1 .7-2.6 .7 .7 .7 3.2 .6-3.7 .7-3 .7-5.3 .7 3.5 .7 3.1 .6-2.3 .7 1 .7-3.2 .7-.7 .7-6.1 .6 8.7 .7-4.7 .7-3.3 .7 11.6 .7-19.7 .6 10.8 .7-.9 .7-3.6 .7 .2 .7-3.6 .6 .4 .7 1.2 .7-1.8 .7-.9 .7 1.9 .6 2.9 .7-2.6 .7 .4 .7-1.7 .6-6.9 .7-1.3 .7 5 .7-2.6 .7 7.1 .6-10.1 .7-1.4 .7 4.3 .7-3.7 .7 5.8 .6-3.3 .7-5.7 .7-8.4 .7 5.4 .7-.8 .6 .1 .7-6.1 .7 .7 .7 4.2 .7 8.9 .6-10.2 .7 9.8 .7-17.8 .7 5.7 .7-3.8 .6-4 .7-.5 .7 8.8 .7-.3 .6-4.9 .7 2.2 .7-9.5 .7 .9 .7 .6 .6 1.1 .7-6.9 .7 2.3 .7-3.9 .7 10.8 .6-3.6 .7-8 .7-1.6 .7 3.7 .7 .2 .6 .1 .7-10.4 .7 .9 .7 4.9 .7-4.5 .6 3.1 .7 .2 .7-.5 .7 2.1 .7 4.3 .6-8.9 .7 1.6 .7 2.2 .7-.8 .6 3.4 .7-5.3 .7 0 .7 3.8 .7 1.1 .6-3.8 .7 1.9 .7 .4 .7 1.1 .7-.1 .6 9.8 .7-9.3 .7-2.6 .7 10.5 .7-11.2 .6 10.4 .7-12.2 .7 4.2 .7 8 .7-7 .6 5.3 .7-7 .7 8.8 .7-5.6 .7 4.6 .6 2.2 .7-2.3 .7 8.2 .7-8 .6-.8 .7 5.1 .7 .9 .7-1.4 .7 .5 .6 3.6 .7-5.4 .7 14.4 .7-1.9 .7 .8 .6-8.5 .7 3.3 .7 9.1 .7 5.5 .7 .5 .6-6.6 .7 14.8 .7-9.5 .7 .8 .7 .2 .6-5.2 .7 6.4 .7 3.3 .7 4.1 .7-2.7 .6 .8 .7-3 .7 14.1 .7-3.5 .6 1.1 .7-.3 .7 6.7 .7-3.6 .7-4.2 .6 4.2 .7 2.5 .7-1.9 .7 11.4 .7-11.3 .6 6 .7-5.7 .7 3 .7 7 .7 .7 .6-1.2 .7-1 .7 6.1 .7-1 .7-5.9 .6 3.6 .7 4.2 .7-1.8 .7-1.4 .6 8.4 .7 .2 .7-2.7 .7 1.1 .7-1.7 .6 5.6 .7 .2 .7 2.9 .7 4.8 .7-1 .6-9.8 .7 6.9 .7-3.4 .7 5.8 .7-9 .6 5.8 .7 1.6 .7-2.2 .7 3.8 .7 2.5 .6-6.2 .7 5.3 .7 1.2 .7 .5 .7-6.5 .6 4.3 .7-1.1 .7 6.6 .7-6.9 .6 3.4 .7 3.1 .7 4.5 .7-4.8 .7 1.3 .6-7 .7 7.7 .7 1.6 .7-3.2 .7-.4 .6 2.9 .7 1.2 .7-6.1 .7-1.4 .7 6.5 .6-2.4 .7 .5 .7 3 .7-.6 .7-4.1 .6 1.2 .7-1.5 .7-.5 .7 .5 .7 8.1 .6-8.2 .7 .7 .7 9.3 .7-3.5 .6-2.8 .7-1.6 .7-6.4 .7 8.8 .7-10.6 .6 11.8 .7-5.8 .7 9.8 .7-3.9 .7 3.2 .6-5.4 .7-1.2 .7 1 .7 .6 .7-7.4 .6 2.3 .7 7.1 .7-4.1 .7 .4 .7-2 .6 .7 .7-1.7 .7-2.9 .7 1.8 .7 1.7 .6-1.1 .7-.5 .7 2.5 .7 4.4 .6-4.9 .7 .4 .7-5.8 .7 7.3 .7-5.5 .6-1 .7 5 .7-9 .7 4.3 .7-1.2 .6-1.6 .7 2.1 .7-3.4 .7-4 .7 2.8 .6 10.7 .7-13.5 .7-3.5 .7 11 .7-7.5 .6 5.4 .7-4 .7-.5 .7-.8 .7-1.8 .6-1.3 .7-2.3 .7 2.7 .7 3.7 .6-3 .7-4 .7 9.3 .7-11 .7-1.3 .6 6.4 .7-.5 .7-5.5 .7-1.1 .7 4.4 .6-8.4 .7 5.7 .7-1.7 .7-3.7 .7-2.5 .6-1.6 .7 5.6 .7-4 .7-2.2 .7-1.2 .6 1.9 .7 1.3 .7-2 .7-1 .7 9.3 .6-12.8 .7 4 .7-4.5 .7 1.1 .6-1.7 .7-.6 .7 4.2 .7-6.4 .7 .1 .6 1.5 .7 1.3 .7-4.3 .7 2.4 .7-1.2 .6 1.9 .7 1.2 .7-8.3 .7 6.7 .7 5.5 .6-8.3 .7-2 .7-.8 .7-1 .7 2.6 .6 10.2 .7-4.3 .7-5.5 .7-3.9 .7 1 .6 4.9 .7-6 .7-.1 .7 7.5 .6-5.1 .7-1.2 .7 .3 .7 4.2 .7 1.3 .6-2.2 .7-4.3 .7-1.7 .7 10.4 .7-4.4 .6-1.9 .7 6.1 .7-12.1 .7 6.6 .7 4.2 .6 8.9 .7-10.4 .7 6 .7-1.2 .7 3 .6-.4 .7-2.6 .7 3 .7-3.8 .7 6.1 .6-12.5 .7 10.3 .7 3.3 .7 7 .6-3.7 .7 5.7 .7-10.1 .7 2.2 .7 6.1 .6-5.3 .7 10.1 .7-6.5 .7-4.6 .7 4.9 .6-3.7 .7 8.4 .7-1.4 .7 4.3 .7-6 .6 2.3 .7 2 .7-2.5 .7 6.9 .7-2.1 .6 1.7 .7 7.1 .7-2.1 .7-5.8 .7-.6 .6 4.6 .7 .8 .7 3.9 .7-1.3 .6-8.6 .7 16 .7-3.6 .7 .8 .7-5.3 .6 2.9 .7 10.2 .7-6.8 .7 2.5 .7-2.3 .6 3.9 .7-5 .7 3.2 .7-1.7 .7 2.2 .6 4.4 .7-.8 .7-2 .7 4.1"/>
</g>
<g shape-rendering="crispEdges"><rect x="401" y="202" width="699" height="623" fill="#000"/><rect x="405" y="205" width="692" height="616" fill="#fff"/></g>
<g shape-rendering="crispEdges">
<rect x="408" y="248" width="161" height="7" fill="#000"/>
<rect x="410" y="435" width="157" height="3" fill="#F14040"/>
<rect x="410" y="520" width="157" height="3" fill="#1A6FDF"/>
<rect x="410" y="604" width="157" height="4" fill="#37AD6B"/>
<rect x="410" y="689" width="157" height="3" fill="#B177DE"/>
<rect x="410" y="774" width="157" height="3" fill="#CC9900"/>
</g>
<g font-family="'Liberation Sans', sans-serif" font-size="69" fill="#000">
<text transform="translate(583,273.8) scale(0.992,1.025)">Non-coated CFF</text>
<text transform="translate(411,359.2) scale(1,1.025)">Al<tspan font-size="47" dy="18">x</tspan><tspan dy="-18">O</tspan><tspan font-size="47" dy="18">y</tspan><tspan dy="-18" dx="-2">-coated CFF:</tspan></text>
<text transform="translate(583,459.9) scale(1,1.045)">1000</text>
<text transform="translate(583,545.2) scale(1,1.045)">2000</text>
<text transform="translate(583,629.5) scale(1,1.045)">3000</text>
<text transform="translate(583,714.2) scale(1,1.045)">4000</text>
<text transform="translate(583,798.8) scale(1,1.045)">5000</text>
</g>
<g stroke="#FF0000" stroke-width="3.6" stroke-dasharray="12.3 9.4" fill="none">
<line x1="1207" y1="102" x2="1202" y2="1731"/>
<line x1="1377.5" y1="104" x2="1372.5" y2="1733"/>
<line x1="2115.5" y1="107" x2="2110.5" y2="1735"/>
<line x1="2285.7" y1="110" x2="2281" y2="1738"/>
</g>
<g font-family="'Liberation Sans', sans-serif" font-size="83.5" fill="#FF0000">
<text transform="translate(1182.5,90) scale(1,1.045)">D</text>
<text transform="translate(1346,90) scale(1.05,1.045)">G</text>
<text transform="translate(2061.5,97) scale(1.035,1.045)">2D</text>
<text transform="translate(2216.2,97) scale(1.012,1.045)">D+G</text>
</g>
</svg>
</body></html>
